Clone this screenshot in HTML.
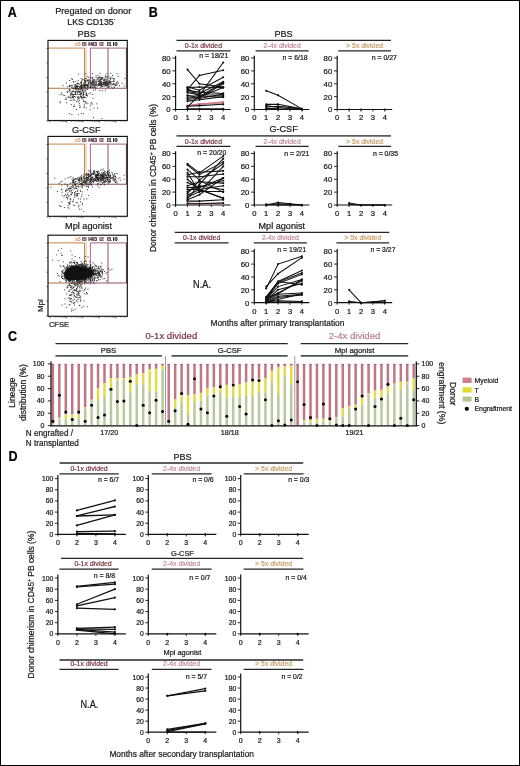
<!DOCTYPE html>
<html><head><meta charset="utf-8"><title>Figure</title>
<style>
html,body{margin:0;padding:0;background:#fff;}
body{width:520px;height:766px;overflow:hidden;font-family:"Liberation Sans", sans-serif;}
.fig{position:relative;width:520px;height:766px;}
svg{position:absolute;left:0;top:0;will-change:transform;}
svg text{font-family:"Liberation Sans", sans-serif;stroke:currentColor;stroke-width:0.22px;paint-order:stroke;}
</style></head>
<body><div class="fig">
<svg width="520" height="766" viewBox="0 0 520 766">
<text transform="translate(7.80,17.00) scale(0.88,1)" font-size="14.2" font-weight="bold" fill="#000" color="#000">A</text>
<text x="93.20" y="13.80" font-size="9.2" text-anchor="middle" fill="#1a1a1a" color="#1a1a1a" font-weight="normal" >Pregated on donor</text>
<text x="67.3" y="24.6" font-size="8.8" fill="#1a1a1a">LKS CD135<tspan font-size="5" dy="-3.5">-</tspan></text>
<text x="86.70" y="36.70" font-size="9.2" text-anchor="middle" fill="#1a1a1a" color="#1a1a1a" font-weight="normal" >PBS</text>
<line x1="48.00" y1="48.10" x2="84.50" y2="48.10" stroke="#c8854c" stroke-width="1.0" />
<line x1="84.50" y1="48.10" x2="84.50" y2="88.20" stroke="#c4804a" stroke-width="1.0" />
<line x1="86.10" y1="46.40" x2="86.10" y2="88.20" stroke="#e2b088" stroke-width="0.8" />
<line x1="48.00" y1="88.20" x2="86.10" y2="88.20" stroke="#b0703e" stroke-width="1.05" />
<line x1="86.10" y1="88.20" x2="126.80" y2="88.20" stroke="#8e5068" stroke-width="1.05" />
<line x1="90.40" y1="48.10" x2="126.80" y2="48.10" stroke="#a06482" stroke-width="1.0" />
<line x1="90.40" y1="48.10" x2="90.40" y2="88.20" stroke="#a56a88" stroke-width="1.0" />
<line x1="108.00" y1="48.10" x2="108.00" y2="88.20" stroke="#8a5068" stroke-width="1.0" />
<line x1="126.40" y1="48.10" x2="126.40" y2="88.20" stroke="#743e54" stroke-width="1.0" />
<path d="M98.8 83.9h1M99.1 81.2h1M93.1 81.5h1M110.5 83.6h1M109.8 83.0h1M104.4 82.8h1M86.8 85.0h1M105.3 83.8h1M86.6 76.4h1M93.4 80.7h1M103.6 82.0h1M105.4 80.1h1M103.6 83.5h1M95.4 87.9h1M105.7 86.2h1M95.7 79.8h1M98.1 81.8h1M106.4 83.0h1M97.2 79.0h1M96.6 86.2h1M94.1 83.0h1M104.6 77.3h1M101.4 86.5h1M83.9 81.1h1M100.1 79.5h1M105.2 82.0h1M88.6 84.9h1M106.7 85.3h1M113.2 83.4h1M102.0 77.9h1M106.2 80.2h1M97.2 78.0h1M92.8 80.4h1M112.0 75.5h1M88.6 83.0h1M113.3 84.1h1M84.9 73.9h1M104.0 79.8h1M91.5 85.4h1M110.4 82.7h1M103.1 83.6h1M114.5 84.2h1M105.4 84.0h1M87.7 86.4h1M109.1 83.9h1M84.2 80.1h1M108.2 76.2h1M99.4 85.6h1M89.9 87.5h1M105.7 81.7h1M103.8 84.3h1M102.0 86.0h1M95.4 80.8h1M109.9 82.3h1M93.5 85.3h1M113.5 80.7h1M89.3 81.8h1M99.7 81.2h1M112.9 78.8h1M111.7 78.0h1M94.3 84.3h1M110.6 85.0h1M103.9 82.7h1M102.3 84.1h1M99.5 83.1h1M105.9 82.2h1M107.5 84.1h1M118.1 83.3h1M97.4 81.0h1M100.9 85.2h1M98.1 83.5h1M116.6 73.7h1M91.4 83.0h1M104.4 83.0h1M97.3 84.4h1M103.4 80.5h1M121.7 83.4h1M96.3 81.9h1M99.1 82.0h1M77.8 80.6h1M109.6 78.3h1M100.4 85.3h1M108.3 87.1h1M86.5 81.0h1M98.1 84.3h1M110.3 73.3h1M110.3 77.4h1M106.8 77.3h1M102.5 86.1h1M99.7 82.8h1M107.8 82.7h1M100.2 87.3h1M109.9 81.2h1M124.3 78.4h1M108.8 81.3h1M102.1 84.5h1M102.9 84.3h1M88.0 77.2h1M106.2 79.0h1M92.3 77.3h1M111.8 84.7h1M113.5 79.1h1M101.0 78.4h1M107.5 87.4h1M93.4 87.3h1M109.4 81.6h1M84.2 86.8h1M100.2 80.2h1M104.4 83.6h1M113.7 78.8h1M110.7 87.1h1M113.3 81.6h1M94.7 85.6h1M102.0 82.6h1M113.1 81.3h1M81.5 80.9h1M85.2 84.9h1M103.7 80.2h1M100.9 84.9h1M101.7 86.6h1M100.5 85.6h1M113.7 87.5h1M95.3 85.1h1M85.1 78.6h1M84.3 85.7h1M90.5 82.2h1M99.4 82.1h1M96.0 83.0h1M116.2 82.3h1M105.5 85.5h1M99.3 78.0h1M96.3 85.7h1M87.0 80.2h1M109.6 84.8h1M101.1 84.9h1M102.4 78.3h1M87.7 80.1h1M108.8 80.3h1M93.3 79.7h1M88.0 81.8h1M91.0 83.4h1M80.9 83.3h1M95.5 75.8h1M107.2 81.3h1M82.0 79.3h1M103.5 80.7h1M107.6 84.7h1M106.7 83.3h1M112.3 84.4h1M104.8 75.3h1M108.6 86.5h1M98.5 80.7h1M117.5 76.4h1M105.0 90.2h1M93.1 84.5h1M117.0 81.8h1M105.8 85.2h1M93.3 81.9h1M103.5 84.9h1M100.7 81.6h1M92.4 81.0h1M108.6 82.5h1M93.7 79.4h1M123.7 86.0h1M106.4 73.6h1M106.3 83.8h1M115.3 83.6h1M100.4 83.9h1M84.5 85.6h1M103.8 79.9h1M112.3 88.2h1M89.1 80.0h1M103.5 82.8h1M97.6 79.0h1M119.0 85.6h1M90.8 77.8h1M115.5 85.5h1M116.5 84.9h1M93.6 83.1h1M82.6 79.7h1M100.5 83.9h1M94.8 81.8h1M104.9 83.4h1M106.4 82.9h1M98.2 84.8h1M101.4 79.5h1M95.7 82.2h1M100.1 82.7h1M101.0 82.8h1M99.9 78.0h1M104.6 85.7h1M104.7 81.6h1M104.8 79.0h1M84.9 82.4h1M93.1 84.6h1M91.8 73.5h1M92.2 87.4h1M97.8 77.7h1M94.5 83.9h1M105.2 82.8h1M113.6 84.5h1M100.8 84.2h1M115.1 85.4h1M109.7 78.6h1M99.7 84.6h1M98.5 85.7h1M106.1 85.2h1M99.2 90.6h1M111.5 81.5h1M101.8 90.8h1M98.1 85.1h1M109.3 82.2h1M91.1 82.8h1M104.1 85.9h1M107.7 82.3h1M108.3 84.0h1M102.8 82.4h1M98.9 84.5h1M92.0 80.1h1M101.0 77.4h1M97.3 75.6h1M95.2 84.1h1M105.8 82.0h1M99.0 77.5h1M116.5 83.9h1M110.3 79.3h1M99.4 76.2h1M107.6 85.3h1M84.9 82.0h1M106.4 76.4h1M85.5 78.7h1M95.7 77.6h1M101.3 83.0h1M106.4 84.5h1M113.8 86.0h1M89.8 80.5h1M92.0 78.6h1M100.3 82.2h1M105.2 77.0h1M90.5 82.1h1M99.3 81.2h1M100.5 79.7h1M107.0 83.4h1M100.3 80.0h1M99.5 73.2h1M92.7 82.3h1M88.2 82.9h1M102.3 77.7h1M98.9 81.2h1M104.9 84.2h1M80.7 83.2h1M79.8 86.0h1M86.9 87.2h1M75.2 81.5h1M78.0 83.6h1M72.1 85.8h1M77.1 86.6h1M85.2 84.8h1M99.6 85.1h1M89.8 86.6h1M89.9 77.9h1M75.0 87.1h1M85.8 94.4h1M83.6 90.7h1M87.1 89.5h1M85.1 85.7h1M85.1 82.4h1M90.5 82.6h1M83.0 93.6h1M79.2 86.3h1M90.3 86.3h1M74.5 87.1h1M85.7 88.7h1M74.8 92.3h1M94.3 86.3h1M83.1 84.7h1M92.3 83.7h1M86.4 84.5h1M75.4 88.7h1M91.7 86.2h1M75.6 89.0h1M80.6 87.3h1M93.2 90.2h1M76.8 94.2h1M81.0 89.0h1M75.8 86.0h1M67.0 92.5h1M91.9 81.9h1M69.0 80.5h1M90.4 84.6h1M80.5 85.1h1M80.0 82.4h1M81.2 81.2h1M80.4 87.3h1M84.7 85.4h1M73.8 86.8h1M77.1 91.7h1M87.1 85.8h1M77.2 83.7h1M73.5 85.0h1M83.4 88.0h1M85.6 93.5h1M75.4 86.2h1M103.4 79.7h1M76.8 86.8h1M82.2 87.6h1M79.1 87.5h1M81.4 88.9h1M65.9 83.1h1M81.0 82.6h1M72.6 88.4h1M75.8 88.4h1M87.0 87.3h1M85.1 85.8h1M69.7 86.1h1M84.6 84.3h1M80.2 88.8h1M74.0 88.4h1M95.9 84.3h1M82.2 85.7h1M93.3 87.3h1M88.2 83.8h1M80.9 86.2h1M66.8 91.2h1M88.2 80.1h1M87.0 85.7h1M84.6 87.5h1M69.0 85.5h1M92.9 84.2h1M72.8 81.4h1M71.2 87.4h1M94.5 87.7h1M83.0 94.0h1M76.8 83.8h1M85.2 88.1h1M72.9 82.1h1M83.3 87.1h1M70.5 85.5h1M76.7 87.8h1M80.1 85.9h1M78.2 89.9h1M92.1 84.9h1M87.8 83.5h1M81.6 88.8h1M93.1 84.9h1M80.4 86.9h1M69.0 86.3h1M75.6 87.5h1M72.0 79.3h1M81.3 87.1h1M76.6 89.3h1M78.8 84.1h1M84.8 80.7h1M75.6 86.1h1M87.8 85.6h1M83.5 83.9h1M83.4 92.0h1M75.5 94.5h1M75.8 86.3h1M82.4 89.8h1M71.1 78.8h1M85.8 89.0h1M86.0 95.4h1M82.6 87.1h1M88.4 87.5h1M94.3 81.9h1M78.0 74.1h1M87.5 84.9h1M88.4 93.7h1M81.0 85.3h1M77.0 83.3h1M76.0 88.4h1M81.3 86.4h1M79.6 89.4h1M85.0 85.7h1M86.3 85.7h1M71.8 91.3h1M84.7 82.8h1M89.6 87.4h1M68.5 91.8h1M83.7 89.3h1M82.6 85.7h1M68.6 89.6h1M81.2 85.2h1M83.8 86.5h1M86.4 84.9h1M80.7 78.7h1M77.6 88.6h1M91.7 84.9h1M80.0 91.7h1M78.4 88.8h1M94.4 86.3h1M90.8 83.7h1M82.7 85.9h1M81.9 90.2h1M100.1 83.9h1M76.4 87.9h1M72.6 87.9h1M85.6 85.2h1M85.2 80.8h1M87.1 80.8h1M75.4 84.3h1M77.8 89.2h1M81.7 84.8h1M85.3 91.7h1M81.0 87.5h1M90.9 87.1h1M70.7 94.9h1M98.7 79.3h1M80.7 87.7h1M83.8 97.2h1M75.1 89.5h1M77.7 98.9h1M69.4 89.6h1M76.8 85.5h1M75.2 92.2h1M80.2 91.0h1M70.8 92.4h1M76.7 91.2h1M77.1 97.6h1M85.3 101.9h1M71.5 92.3h1M59.6 102.7h1M71.9 94.0h1M80.7 88.1h1M80.2 94.1h1M64.2 95.5h1M85.4 85.8h1M82.7 95.1h1M80.3 96.2h1M86.1 93.2h1M83.1 92.4h1M82.1 90.5h1M76.2 102.0h1M80.1 93.5h1M69.0 90.6h1M78.4 98.4h1M80.0 96.6h1M76.7 100.3h1M74.3 91.7h1M83.2 94.5h1M75.1 91.6h1M75.2 97.0h1M79.5 88.8h1M80.0 95.0h1M70.0 97.7h1M75.0 92.7h1M82.6 100.1h1M72.2 96.2h1M70.9 104.6h1M73.5 99.6h1M72.5 97.9h1M92.5 82.8h1M74.0 96.5h1M76.3 91.2h1M92.1 94.6h1M65.5 98.0h1M64.9 99.4h1M73.0 94.9h1M85.8 94.7h1M67.3 86.6h1M85.3 97.5h1M71.3 98.1h1M80.5 97.1h1M61.2 92.8h1M83.3 97.5h1M83.2 83.1h1M78.2 96.4h1M94.9 89.9h1M74.7 94.4h1M83.2 92.2h1M85.0 90.7h1M78.9 91.8h1M78.1 91.1h1M65.8 99.1h1M79.1 91.7h1M78.4 98.7h1M70.2 93.7h1M80.8 96.6h1M74.7 84.7h1M85.7 95.7h1M77.1 92.9h1M78.8 92.3h1M69.8 90.9h1M72.8 91.4h1M68.9 97.1h1M67.8 97.2h1M69.9 95.8h1M86.6 95.1h1M71.9 94.4h1M78.0 86.4h1M72.7 94.9h1M73.7 94.6h1M82.1 97.6h1M83.3 96.8h1M75.0 94.1h1M75.1 92.8h1M75.7 86.4h1M74.7 94.1h1M70.2 94.1h1M80.6 93.5h1M91.5 82.5h1M75.6 86.0h1M83.9 106.1h1M59.5 94.8h1M80.6 92.8h1M80.9 84.1h1M83.0 95.9h1M77.2 91.6h1M81.5 92.0h1M78.6 91.9h1M61.3 94.1h1M78.4 97.6h1M70.9 94.1h1M81.3 94.9h1M85.7 103.2h1M70.6 85.6h1M83.0 101.1h1M83.5 97.9h1M72.7 91.0h1M87.0 95.9h1M62.7 95.2h1M101.4 118.6h1M72.8 97.4h1M81.1 97.2h1M90.8 102.6h1M69.2 113.7h1M73.8 105.0h1M78.9 100.7h1M81.9 97.7h1M62.4 85.5h1M67.6 97.1h1M78.8 103.6h1M84.0 104.2h1M71.9 97.5h1M59.9 101.8h1M83.4 107.4h1M77.9 101.8h1M87.4 103.3h1M85.6 107.9h1M80.9 113.7h1M73.8 100.3h1M71.7 96.8h1M93.0 117.3h1M79.2 107.7h1M89.6 109.7h1M89.8 93.1h1M73.2 106.8h1M91.9 104.0h1M71.3 100.4h1M73.1 96.3h1M92.5 98.2h1M89.7 105.9h1M73.5 106.5h1M93.6 108.2h1M90.4 104.0h1M83.6 101.6h1M82.8 113.6h1M66.1 102.7h1M81.2 98.6h1M76.2 109.5h1M97.0 108.2h1M81.9 90.8h1M96.3 103.8h1M78.7 94.3h1M78.5 94.4h1M79.6 106.9h1M79.3 105.4h1M71.3 114.6h1M73.1 88.7h1M77.3 97.1h1M69.9 100.4h1M81.6 93.7h1M77.8 114.6h1M85.1 102.0h1" stroke="#1e1e1e" stroke-width="1" fill="none" opacity="0.9"/>
<text x="77.80" y="45.70" font-size="5.2" text-anchor="middle" fill="#d89868" color="#d89868" font-weight="normal" >&#8805;5</text>
<text x="84.40" y="45.70" font-size="5.6" text-anchor="middle" fill="#5a4040" color="#5a4040" font-weight="bold" >I5</text>
<text x="90.60" y="45.70" font-size="5.6" text-anchor="middle" fill="#4a2a38" color="#4a2a38" font-weight="bold" >I4</text>
<text x="94.80" y="45.70" font-size="5.6" text-anchor="middle" fill="#4a2a38" color="#4a2a38" font-weight="bold" >I3</text>
<text x="101.60" y="45.70" font-size="5.6" text-anchor="middle" fill="#6a4050" color="#6a4050" font-weight="bold" >I2</text>
<text x="109.40" y="45.70" font-size="5.6" text-anchor="middle" fill="#222" color="#222" font-weight="bold" >I1</text>
<text x="115.20" y="45.70" font-size="5.6" text-anchor="middle" fill="#111" color="#111" font-weight="bold" >I0</text>
<rect x="48.00" y="40.40" width="79.30" height="80.10" fill="none" stroke="#111" stroke-width="1.15" />
<line x1="46.50" y1="48.40" x2="48.00" y2="48.40" stroke="#333" stroke-width="0.8" />
<line x1="46.50" y1="62.90" x2="48.00" y2="62.90" stroke="#333" stroke-width="0.8" />
<line x1="46.50" y1="77.40" x2="48.00" y2="77.40" stroke="#333" stroke-width="0.8" />
<line x1="46.50" y1="91.90" x2="48.00" y2="91.90" stroke="#333" stroke-width="0.8" />
<line x1="46.50" y1="106.40" x2="48.00" y2="106.40" stroke="#333" stroke-width="0.8" />
<line x1="46.50" y1="120.90" x2="48.00" y2="120.90" stroke="#333" stroke-width="0.8" />
<line x1="50.00" y1="120.50" x2="50.00" y2="122.50" stroke="#333" stroke-width="0.7" />
<line x1="54.97" y1="120.50" x2="54.97" y2="121.70" stroke="#333" stroke-width="0.7" />
<line x1="57.87" y1="120.50" x2="57.87" y2="121.70" stroke="#333" stroke-width="0.7" />
<line x1="59.93" y1="120.50" x2="59.93" y2="121.70" stroke="#333" stroke-width="0.7" />
<line x1="61.53" y1="120.50" x2="61.53" y2="121.70" stroke="#333" stroke-width="0.7" />
<line x1="62.84" y1="120.50" x2="62.84" y2="121.70" stroke="#333" stroke-width="0.7" />
<line x1="63.94" y1="120.50" x2="63.94" y2="121.70" stroke="#333" stroke-width="0.7" />
<line x1="64.90" y1="120.50" x2="64.90" y2="121.70" stroke="#333" stroke-width="0.7" />
<line x1="65.75" y1="120.50" x2="65.75" y2="121.70" stroke="#333" stroke-width="0.7" />
<line x1="66.50" y1="120.50" x2="66.50" y2="122.50" stroke="#333" stroke-width="0.7" />
<line x1="71.47" y1="120.50" x2="71.47" y2="121.70" stroke="#333" stroke-width="0.7" />
<line x1="74.37" y1="120.50" x2="74.37" y2="121.70" stroke="#333" stroke-width="0.7" />
<line x1="76.43" y1="120.50" x2="76.43" y2="121.70" stroke="#333" stroke-width="0.7" />
<line x1="78.03" y1="120.50" x2="78.03" y2="121.70" stroke="#333" stroke-width="0.7" />
<line x1="79.34" y1="120.50" x2="79.34" y2="121.70" stroke="#333" stroke-width="0.7" />
<line x1="80.44" y1="120.50" x2="80.44" y2="121.70" stroke="#333" stroke-width="0.7" />
<line x1="81.40" y1="120.50" x2="81.40" y2="121.70" stroke="#333" stroke-width="0.7" />
<line x1="82.25" y1="120.50" x2="82.25" y2="121.70" stroke="#333" stroke-width="0.7" />
<line x1="83.00" y1="120.50" x2="83.00" y2="122.50" stroke="#333" stroke-width="0.7" />
<line x1="87.97" y1="120.50" x2="87.97" y2="121.70" stroke="#333" stroke-width="0.7" />
<line x1="90.87" y1="120.50" x2="90.87" y2="121.70" stroke="#333" stroke-width="0.7" />
<line x1="92.93" y1="120.50" x2="92.93" y2="121.70" stroke="#333" stroke-width="0.7" />
<line x1="94.53" y1="120.50" x2="94.53" y2="121.70" stroke="#333" stroke-width="0.7" />
<line x1="95.84" y1="120.50" x2="95.84" y2="121.70" stroke="#333" stroke-width="0.7" />
<line x1="96.94" y1="120.50" x2="96.94" y2="121.70" stroke="#333" stroke-width="0.7" />
<line x1="97.90" y1="120.50" x2="97.90" y2="121.70" stroke="#333" stroke-width="0.7" />
<line x1="98.75" y1="120.50" x2="98.75" y2="121.70" stroke="#333" stroke-width="0.7" />
<line x1="99.50" y1="120.50" x2="99.50" y2="122.50" stroke="#333" stroke-width="0.7" />
<line x1="104.47" y1="120.50" x2="104.47" y2="121.70" stroke="#333" stroke-width="0.7" />
<line x1="107.37" y1="120.50" x2="107.37" y2="121.70" stroke="#333" stroke-width="0.7" />
<line x1="109.43" y1="120.50" x2="109.43" y2="121.70" stroke="#333" stroke-width="0.7" />
<line x1="111.03" y1="120.50" x2="111.03" y2="121.70" stroke="#333" stroke-width="0.7" />
<line x1="112.34" y1="120.50" x2="112.34" y2="121.70" stroke="#333" stroke-width="0.7" />
<line x1="113.44" y1="120.50" x2="113.44" y2="121.70" stroke="#333" stroke-width="0.7" />
<line x1="114.40" y1="120.50" x2="114.40" y2="121.70" stroke="#333" stroke-width="0.7" />
<line x1="115.25" y1="120.50" x2="115.25" y2="121.70" stroke="#333" stroke-width="0.7" />
<line x1="116.00" y1="120.50" x2="116.00" y2="122.50" stroke="#333" stroke-width="0.7" />
<line x1="120.97" y1="120.50" x2="120.97" y2="121.70" stroke="#333" stroke-width="0.7" />
<line x1="123.87" y1="120.50" x2="123.87" y2="121.70" stroke="#333" stroke-width="0.7" />
<line x1="125.93" y1="120.50" x2="125.93" y2="121.70" stroke="#333" stroke-width="0.7" />
<text x="86.30" y="133.00" font-size="9.2" text-anchor="middle" fill="#1a1a1a" color="#1a1a1a" font-weight="normal" >G-CSF</text>
<line x1="48.00" y1="144.10" x2="84.50" y2="144.10" stroke="#c8854c" stroke-width="1.0" />
<line x1="84.50" y1="144.10" x2="84.50" y2="184.20" stroke="#c4804a" stroke-width="1.0" />
<line x1="86.10" y1="142.40" x2="86.10" y2="184.20" stroke="#e2b088" stroke-width="0.8" />
<line x1="48.00" y1="184.20" x2="86.10" y2="184.20" stroke="#b0703e" stroke-width="1.05" />
<line x1="86.10" y1="184.20" x2="126.80" y2="184.20" stroke="#8e5068" stroke-width="1.05" />
<line x1="90.40" y1="144.10" x2="126.80" y2="144.10" stroke="#a06482" stroke-width="1.0" />
<line x1="90.40" y1="144.10" x2="90.40" y2="184.20" stroke="#a56a88" stroke-width="1.0" />
<line x1="108.00" y1="144.10" x2="108.00" y2="184.20" stroke="#8a5068" stroke-width="1.0" />
<line x1="126.40" y1="144.10" x2="126.40" y2="184.20" stroke="#743e54" stroke-width="1.0" />
<path d="M102.0 176.8h1M100.6 179.4h1M100.3 170.0h1M100.8 174.5h1M105.9 175.4h1M102.1 183.7h1M93.1 173.8h1M90.4 170.0h1M86.9 178.3h1M96.2 171.6h1M89.9 179.1h1M95.2 176.1h1M103.5 181.3h1M115.6 180.3h1M102.1 177.8h1M114.5 181.5h1M98.7 178.6h1M103.2 177.4h1M97.2 173.2h1M97.0 172.6h1M110.2 178.8h1M92.0 181.4h1M107.7 171.5h1M114.8 179.6h1M116.5 173.5h1M105.0 178.5h1M102.5 177.7h1M108.9 172.7h1M91.7 173.0h1M96.8 175.4h1M103.8 178.0h1M101.2 175.2h1M97.7 180.1h1M106.7 177.5h1M98.6 181.9h1M96.5 179.1h1M109.7 176.4h1M107.2 173.9h1M108.6 177.8h1M89.1 179.2h1M94.3 181.0h1M95.9 176.7h1M103.1 176.2h1M102.9 175.5h1M106.0 177.2h1M102.6 168.9h1M109.7 177.3h1M87.6 177.5h1M104.5 180.4h1M92.9 181.8h1M99.8 184.4h1M99.9 179.2h1M98.3 173.9h1M109.2 179.9h1M112.5 179.8h1M96.7 172.2h1M96.1 175.2h1M94.9 178.9h1M103.5 176.4h1M102.3 176.8h1M102.6 179.5h1M108.2 175.1h1M89.7 181.5h1M101.9 180.5h1M88.7 176.2h1M101.2 172.9h1M97.1 179.4h1M109.1 182.0h1M94.5 173.0h1M104.9 180.0h1M102.4 173.3h1M106.9 179.6h1M105.2 175.7h1M103.3 179.6h1M96.8 171.7h1M103.5 178.6h1M101.1 179.9h1M96.6 177.0h1M98.7 178.9h1M113.0 176.4h1M116.4 181.8h1M106.9 179.0h1M114.3 176.7h1M100.2 174.0h1M104.5 181.2h1M105.0 178.5h1M99.5 177.7h1M90.3 180.3h1M97.9 173.9h1M95.4 174.7h1M107.4 180.4h1M90.8 180.0h1M107.7 175.5h1M89.9 175.0h1M96.2 178.2h1M98.3 171.1h1M102.8 172.6h1M107.8 173.6h1M95.8 174.6h1M96.9 181.1h1M107.4 179.0h1M103.4 172.6h1M97.1 175.5h1M93.7 178.7h1M95.4 175.1h1M93.2 171.0h1M105.5 181.2h1M102.3 174.3h1M80.7 177.7h1M110.1 178.1h1M108.0 181.6h1M109.5 175.9h1M108.9 179.5h1M89.5 176.0h1M90.3 176.9h1M105.3 174.0h1M85.6 181.1h1M103.8 181.6h1M91.1 180.4h1M116.6 183.2h1M99.4 178.0h1M99.8 180.2h1M108.8 177.5h1M90.8 179.4h1M97.5 179.1h1M103.0 182.1h1M109.5 175.8h1M103.6 182.5h1M97.0 178.5h1M109.9 181.0h1M104.9 173.2h1M91.5 177.9h1M103.9 184.8h1M94.5 180.6h1M106.8 172.2h1M94.9 177.7h1M97.3 176.7h1M104.5 174.8h1M104.5 175.3h1M96.9 178.8h1M96.7 178.1h1M113.0 177.3h1M99.9 179.4h1M98.3 180.4h1M91.4 179.1h1M97.2 174.8h1M114.3 174.6h1M114.2 179.2h1M111.9 174.3h1M110.0 181.6h1M100.1 176.8h1M119.4 177.7h1M97.8 175.3h1M104.3 178.2h1M102.3 182.4h1M98.5 178.6h1M111.9 174.2h1M108.8 182.7h1M90.8 173.9h1M93.2 171.7h1M104.4 171.6h1M104.7 181.6h1M88.9 176.3h1M86.6 179.5h1M95.5 176.4h1M101.4 178.8h1M98.4 177.2h1M96.9 177.5h1M92.2 177.4h1M86.5 175.7h1M115.4 177.4h1M91.6 178.0h1M93.7 172.2h1M95.5 179.4h1M103.9 176.9h1M94.1 174.0h1M111.1 177.9h1M93.9 170.9h1M90.7 184.6h1M92.4 177.0h1M102.6 176.7h1M98.9 173.1h1M93.1 182.3h1M95.3 179.7h1M88.3 176.4h1M103.0 180.3h1M92.6 179.0h1M103.9 175.0h1M104.6 174.5h1M95.0 177.1h1M80.6 176.9h1M93.5 172.8h1M97.8 179.5h1M98.0 181.0h1M92.3 173.3h1M112.6 178.4h1M108.1 174.7h1M107.0 178.0h1M105.9 177.3h1M110.0 175.3h1M93.8 172.8h1M109.7 175.0h1M93.2 174.4h1M97.7 173.4h1M98.8 175.3h1M96.9 174.3h1M101.3 175.8h1M101.9 177.9h1M103.6 170.6h1M97.0 174.8h1M106.8 172.5h1M95.6 176.3h1M98.5 180.2h1M97.7 180.1h1M90.0 171.8h1M110.1 178.5h1M104.7 177.6h1M104.6 173.6h1M108.1 175.6h1M108.4 177.5h1M86.2 173.3h1M109.5 176.8h1M98.0 177.9h1M97.8 175.6h1M101.8 177.6h1M112.4 177.3h1M115.1 182.6h1M113.9 180.4h1M102.0 177.6h1M99.9 175.0h1M100.5 175.3h1M113.3 178.8h1M97.7 171.5h1M100.6 176.0h1M92.9 173.8h1M84.1 178.9h1M100.5 184.9h1M100.8 176.8h1M111.8 177.6h1M102.3 176.1h1M96.5 181.7h1M108.5 182.3h1M98.4 177.3h1M94.4 180.1h1M90.6 178.9h1M109.2 181.4h1M94.0 180.5h1M95.6 174.9h1M91.1 180.7h1M113.4 175.4h1M95.3 176.2h1M119.8 180.2h1M96.9 171.8h1M96.0 180.8h1M115.0 176.4h1M95.8 175.7h1M86.9 179.9h1M92.9 180.4h1M88.2 173.4h1M103.2 174.9h1M106.9 177.2h1M92.2 179.1h1M107.3 171.5h1M114.7 178.7h1M106.7 171.6h1M95.6 176.2h1M109.1 172.8h1M94.4 171.1h1M99.2 178.2h1M88.4 175.4h1M104.8 182.0h1M106.0 176.3h1M92.2 174.4h1M96.0 177.6h1M100.6 182.2h1M103.2 174.0h1M112.6 180.0h1M101.8 175.0h1M87.0 174.1h1M107.8 174.8h1M91.1 177.8h1M102.8 179.0h1M105.9 181.4h1M94.7 180.1h1M93.6 179.3h1M102.3 177.9h1M108.3 177.1h1M109.3 179.8h1M102.0 175.5h1M95.3 175.6h1M99.5 177.1h1M123.4 179.1h1M106.8 174.6h1M95.7 176.2h1M102.4 174.1h1M113.1 175.5h1M109.1 170.2h1M100.9 178.0h1M102.4 179.0h1M103.1 177.7h1M86.8 175.1h1M83.4 179.1h1M103.3 176.6h1M94.8 175.5h1M114.8 182.4h1M100.6 181.1h1M89.1 171.4h1M97.4 174.6h1M96.8 177.8h1M123.7 175.2h1M101.4 178.0h1M100.7 180.0h1M114.3 173.5h1M102.2 176.4h1M103.7 172.6h1M87.8 170.3h1M104.9 177.8h1M101.6 170.1h1M98.2 174.9h1M90.4 174.5h1M106.2 178.8h1M100.8 178.7h1M96.5 177.4h1M101.3 178.9h1M100.5 176.8h1M100.0 175.3h1M117.8 178.7h1M104.2 184.1h1M111.5 172.5h1M106.2 179.7h1M97.1 185.8h1M88.2 177.1h1M75.0 182.1h1M86.0 177.6h1M78.9 179.8h1M82.5 182.4h1M79.7 176.9h1M91.9 186.8h1M81.2 184.8h1M85.6 183.5h1M85.9 178.5h1M86.6 184.7h1M74.8 188.1h1M98.7 187.6h1M97.9 183.8h1M79.3 179.1h1M75.5 181.6h1M81.7 183.5h1M65.8 189.3h1M100.2 181.1h1M87.4 182.9h1M84.2 180.5h1M81.0 178.3h1M83.4 181.1h1M84.6 178.2h1M82.3 181.4h1M86.8 177.5h1M85.4 184.6h1M86.8 179.9h1M78.1 180.4h1M87.8 186.6h1M80.7 179.0h1M85.0 181.9h1M74.7 178.6h1M81.2 183.6h1M72.5 177.6h1M86.0 176.9h1M82.9 182.4h1M81.1 177.6h1M81.5 180.0h1M84.7 178.3h1M90.7 175.3h1M80.6 181.2h1M89.7 179.1h1M86.4 179.2h1M87.9 187.3h1M78.8 182.8h1M74.6 184.6h1M91.7 181.3h1M72.9 182.6h1M91.2 185.0h1M88.5 174.8h1M76.6 186.2h1M72.2 185.2h1M97.1 183.9h1M91.0 180.0h1M72.2 180.8h1M80.4 181.0h1M87.6 180.7h1M83.5 182.7h1M82.0 187.7h1M85.5 181.5h1M80.3 179.0h1M92.8 181.7h1M73.4 179.2h1M80.9 179.6h1M90.7 177.1h1M85.9 181.7h1M72.6 181.4h1M81.2 183.0h1M78.4 182.3h1M68.7 177.4h1M88.3 184.8h1M81.9 179.1h1M90.7 173.9h1M75.6 183.6h1M87.2 177.6h1M66.9 186.3h1M83.2 178.1h1M82.4 184.4h1M61.3 185.1h1M87.9 173.9h1M88.2 175.0h1M91.1 182.6h1M100.0 179.1h1M82.0 184.9h1M76.9 178.7h1M79.0 180.9h1M73.3 182.9h1M86.3 181.5h1M95.6 180.1h1M92.5 179.3h1M88.0 174.4h1M83.6 180.6h1M78.0 179.1h1M79.2 178.7h1M64.5 179.1h1M77.6 179.4h1M73.5 180.7h1M88.3 180.3h1M78.1 186.0h1M89.8 184.4h1M91.2 180.1h1M81.0 185.1h1M77.6 180.8h1M85.0 182.5h1M79.8 184.6h1M80.6 183.7h1M90.6 183.5h1M87.9 177.1h1M71.5 179.0h1M85.8 186.5h1M72.2 182.3h1M75.2 178.6h1M79.8 183.6h1M83.7 185.3h1M74.1 184.3h1M89.4 181.4h1M85.8 179.2h1M73.3 179.8h1M76.9 191.3h1M78.1 187.0h1M83.6 182.3h1M87.9 178.5h1M89.3 182.5h1M69.9 183.3h1M86.4 182.8h1M94.7 179.7h1M86.1 183.8h1M74.8 185.4h1M70.4 176.6h1M86.2 177.4h1M81.1 175.4h1M82.6 177.2h1M84.7 175.8h1M85.6 180.3h1M82.5 181.0h1M83.0 176.6h1M61.5 181.3h1M74.5 179.6h1M85.4 174.3h1M75.9 179.1h1M73.5 182.3h1M80.9 178.3h1M74.1 184.0h1M76.7 183.2h1M85.6 174.6h1M73.3 181.2h1M84.7 183.9h1M88.4 184.8h1M79.0 180.5h1M88.2 179.7h1M90.5 175.6h1M87.2 180.6h1M66.3 184.6h1M84.5 181.3h1M73.4 179.6h1M94.1 178.3h1M54.2 178.2h1M72.4 180.7h1M78.9 178.0h1M75.3 184.9h1M70.5 188.0h1M77.6 177.4h1M88.3 183.2h1M73.7 183.8h1M67.3 178.0h1M91.0 180.3h1M71.6 183.0h1M89.3 181.1h1M61.4 189.1h1M76.9 195.8h1M87.0 189.7h1M70.6 191.0h1M82.4 185.6h1M83.1 174.7h1M79.6 187.1h1M77.2 195.3h1M65.7 190.7h1M75.7 194.7h1M67.5 185.3h1M60.5 206.4h1M72.7 189.9h1M63.5 196.8h1M70.3 199.8h1M80.0 191.3h1M79.1 184.5h1M71.7 187.7h1M65.1 191.3h1M73.0 199.8h1M50.5 187.2h1M67.6 188.4h1M77.0 193.6h1M74.2 188.4h1M77.5 193.4h1M61.1 189.6h1M64.4 184.1h1M75.0 191.6h1M74.8 185.9h1M72.6 185.7h1M76.7 195.3h1M86.3 198.8h1M68.4 188.5h1M67.4 193.0h1M87.9 195.5h1M58.6 183.7h1M65.0 194.3h1M74.0 193.0h1M86.5 186.2h1M68.1 203.0h1M76.4 186.5h1M59.8 182.1h1M56.9 191.6h1M74.3 197.2h1M73.0 187.0h1M68.8 202.6h1M61.6 192.2h1M74.2 194.9h1M71.2 194.2h1M79.7 190.3h1M70.8 190.1h1M67.2 190.0h1M71.9 192.5h1M83.4 199.0h1M70.9 194.8h1M76.1 195.8h1M74.2 192.8h1M70.7 186.5h1M80.1 199.0h1M78.6 193.8h1M75.9 188.5h1M61.5 195.2h1M75.4 187.9h1M67.2 198.9h1M61.4 201.8h1M78.5 205.4h1M69.0 191.1h1M70.5 192.1h1M72.5 186.7h1M81.5 186.5h1M70.4 194.5h1M70.2 188.6h1M76.5 189.0h1M65.3 190.6h1M72.5 201.4h1M66.3 197.0h1M68.5 189.1h1M71.7 192.8h1M80.0 201.7h1M69.5 199.2h1M78.0 206.9h1M63.9 207.5h1M69.1 203.7h1M67.8 205.8h1M78.9 209.1h1M68.4 208.2h1M81.6 194.7h1M81.8 191.9h1M74.3 205.4h1M81.9 203.2h1M66.2 195.6h1M60.0 206.6h1M68.1 196.2h1M74.3 195.8h1M66.5 198.0h1M83.2 211.4h1M68.7 190.2h1M72.2 201.7h1M72.8 205.2h1M67.4 207.7h1M76.7 202.7h1M66.7 197.8h1M75.5 193.5h1M68.7 196.0h1M58.9 205.4h1M69.8 201.5h1M77.0 190.7h1M69.5 203.2h1M76.7 193.6h1M75.7 202.7h1M80.8 209.2h1M70.0 198.2h1M67.3 194.6h1M69.8 188.1h1M69.3 204.2h1M77.9 198.8h1M81.1 196.6h1M68.9 188.1h1M63.9 195.7h1M81.7 204.8h1" stroke="#1e1e1e" stroke-width="1" fill="none" opacity="0.9"/>
<text x="77.80" y="141.70" font-size="5.2" text-anchor="middle" fill="#d89868" color="#d89868" font-weight="normal" >&#8805;5</text>
<text x="84.40" y="141.70" font-size="5.6" text-anchor="middle" fill="#5a4040" color="#5a4040" font-weight="bold" >I5</text>
<text x="90.60" y="141.70" font-size="5.6" text-anchor="middle" fill="#4a2a38" color="#4a2a38" font-weight="bold" >I4</text>
<text x="94.80" y="141.70" font-size="5.6" text-anchor="middle" fill="#4a2a38" color="#4a2a38" font-weight="bold" >I3</text>
<text x="101.60" y="141.70" font-size="5.6" text-anchor="middle" fill="#6a4050" color="#6a4050" font-weight="bold" >I2</text>
<text x="109.40" y="141.70" font-size="5.6" text-anchor="middle" fill="#222" color="#222" font-weight="bold" >I1</text>
<text x="115.20" y="141.70" font-size="5.6" text-anchor="middle" fill="#111" color="#111" font-weight="bold" >I0</text>
<rect x="48.00" y="136.40" width="79.30" height="79.90" fill="none" stroke="#111" stroke-width="1.15" />
<line x1="46.50" y1="144.40" x2="48.00" y2="144.40" stroke="#333" stroke-width="0.8" />
<line x1="46.50" y1="158.90" x2="48.00" y2="158.90" stroke="#333" stroke-width="0.8" />
<line x1="46.50" y1="173.40" x2="48.00" y2="173.40" stroke="#333" stroke-width="0.8" />
<line x1="46.50" y1="187.90" x2="48.00" y2="187.90" stroke="#333" stroke-width="0.8" />
<line x1="46.50" y1="202.40" x2="48.00" y2="202.40" stroke="#333" stroke-width="0.8" />
<line x1="46.50" y1="216.90" x2="48.00" y2="216.90" stroke="#333" stroke-width="0.8" />
<line x1="50.00" y1="216.30" x2="50.00" y2="218.30" stroke="#333" stroke-width="0.7" />
<line x1="54.97" y1="216.30" x2="54.97" y2="217.50" stroke="#333" stroke-width="0.7" />
<line x1="57.87" y1="216.30" x2="57.87" y2="217.50" stroke="#333" stroke-width="0.7" />
<line x1="59.93" y1="216.30" x2="59.93" y2="217.50" stroke="#333" stroke-width="0.7" />
<line x1="61.53" y1="216.30" x2="61.53" y2="217.50" stroke="#333" stroke-width="0.7" />
<line x1="62.84" y1="216.30" x2="62.84" y2="217.50" stroke="#333" stroke-width="0.7" />
<line x1="63.94" y1="216.30" x2="63.94" y2="217.50" stroke="#333" stroke-width="0.7" />
<line x1="64.90" y1="216.30" x2="64.90" y2="217.50" stroke="#333" stroke-width="0.7" />
<line x1="65.75" y1="216.30" x2="65.75" y2="217.50" stroke="#333" stroke-width="0.7" />
<line x1="66.50" y1="216.30" x2="66.50" y2="218.30" stroke="#333" stroke-width="0.7" />
<line x1="71.47" y1="216.30" x2="71.47" y2="217.50" stroke="#333" stroke-width="0.7" />
<line x1="74.37" y1="216.30" x2="74.37" y2="217.50" stroke="#333" stroke-width="0.7" />
<line x1="76.43" y1="216.30" x2="76.43" y2="217.50" stroke="#333" stroke-width="0.7" />
<line x1="78.03" y1="216.30" x2="78.03" y2="217.50" stroke="#333" stroke-width="0.7" />
<line x1="79.34" y1="216.30" x2="79.34" y2="217.50" stroke="#333" stroke-width="0.7" />
<line x1="80.44" y1="216.30" x2="80.44" y2="217.50" stroke="#333" stroke-width="0.7" />
<line x1="81.40" y1="216.30" x2="81.40" y2="217.50" stroke="#333" stroke-width="0.7" />
<line x1="82.25" y1="216.30" x2="82.25" y2="217.50" stroke="#333" stroke-width="0.7" />
<line x1="83.00" y1="216.30" x2="83.00" y2="218.30" stroke="#333" stroke-width="0.7" />
<line x1="87.97" y1="216.30" x2="87.97" y2="217.50" stroke="#333" stroke-width="0.7" />
<line x1="90.87" y1="216.30" x2="90.87" y2="217.50" stroke="#333" stroke-width="0.7" />
<line x1="92.93" y1="216.30" x2="92.93" y2="217.50" stroke="#333" stroke-width="0.7" />
<line x1="94.53" y1="216.30" x2="94.53" y2="217.50" stroke="#333" stroke-width="0.7" />
<line x1="95.84" y1="216.30" x2="95.84" y2="217.50" stroke="#333" stroke-width="0.7" />
<line x1="96.94" y1="216.30" x2="96.94" y2="217.50" stroke="#333" stroke-width="0.7" />
<line x1="97.90" y1="216.30" x2="97.90" y2="217.50" stroke="#333" stroke-width="0.7" />
<line x1="98.75" y1="216.30" x2="98.75" y2="217.50" stroke="#333" stroke-width="0.7" />
<line x1="99.50" y1="216.30" x2="99.50" y2="218.30" stroke="#333" stroke-width="0.7" />
<line x1="104.47" y1="216.30" x2="104.47" y2="217.50" stroke="#333" stroke-width="0.7" />
<line x1="107.37" y1="216.30" x2="107.37" y2="217.50" stroke="#333" stroke-width="0.7" />
<line x1="109.43" y1="216.30" x2="109.43" y2="217.50" stroke="#333" stroke-width="0.7" />
<line x1="111.03" y1="216.30" x2="111.03" y2="217.50" stroke="#333" stroke-width="0.7" />
<line x1="112.34" y1="216.30" x2="112.34" y2="217.50" stroke="#333" stroke-width="0.7" />
<line x1="113.44" y1="216.30" x2="113.44" y2="217.50" stroke="#333" stroke-width="0.7" />
<line x1="114.40" y1="216.30" x2="114.40" y2="217.50" stroke="#333" stroke-width="0.7" />
<line x1="115.25" y1="216.30" x2="115.25" y2="217.50" stroke="#333" stroke-width="0.7" />
<line x1="116.00" y1="216.30" x2="116.00" y2="218.30" stroke="#333" stroke-width="0.7" />
<line x1="120.97" y1="216.30" x2="120.97" y2="217.50" stroke="#333" stroke-width="0.7" />
<line x1="123.87" y1="216.30" x2="123.87" y2="217.50" stroke="#333" stroke-width="0.7" />
<line x1="125.93" y1="216.30" x2="125.93" y2="217.50" stroke="#333" stroke-width="0.7" />
<text x="88.50" y="228.80" font-size="9.2" text-anchor="middle" fill="#1a1a1a" color="#1a1a1a" font-weight="normal" >Mpl agonist</text>
<line x1="48.00" y1="242.90" x2="84.50" y2="242.90" stroke="#c8854c" stroke-width="1.0" />
<line x1="84.50" y1="242.90" x2="84.50" y2="283.00" stroke="#c4804a" stroke-width="1.0" />
<line x1="86.10" y1="241.20" x2="86.10" y2="283.00" stroke="#e2b088" stroke-width="0.8" />
<line x1="48.00" y1="283.00" x2="86.10" y2="283.00" stroke="#b0703e" stroke-width="1.05" />
<line x1="86.10" y1="283.00" x2="126.80" y2="283.00" stroke="#8e5068" stroke-width="1.05" />
<line x1="90.40" y1="242.90" x2="126.80" y2="242.90" stroke="#a06482" stroke-width="1.0" />
<line x1="90.40" y1="242.90" x2="90.40" y2="283.00" stroke="#a56a88" stroke-width="1.0" />
<line x1="108.00" y1="242.90" x2="108.00" y2="283.00" stroke="#8a5068" stroke-width="1.0" />
<line x1="126.40" y1="242.90" x2="126.40" y2="283.00" stroke="#743e54" stroke-width="1.0" />
<path d="M70.7 275.2h1M81.2 272.0h1M78.2 271.7h1M74.4 265.7h1M77.4 278.3h1M87.5 271.9h1M73.0 272.1h1M84.0 274.4h1M74.1 274.5h1M76.6 275.1h1M75.3 267.0h1M78.4 276.1h1M70.7 272.6h1M83.8 271.5h1M73.7 281.3h1M83.5 277.2h1M71.7 279.7h1M67.0 270.9h1M82.9 278.4h1M71.8 270.3h1M79.3 265.1h1M82.2 275.3h1M75.0 275.2h1M83.1 274.3h1M81.4 279.2h1M74.8 273.7h1M74.6 277.2h1M75.3 274.9h1M78.9 273.3h1M89.3 272.7h1M87.3 276.4h1M86.7 272.3h1M84.1 276.1h1M74.0 274.1h1M77.2 272.9h1M86.6 270.1h1M66.9 265.9h1M75.0 270.4h1M78.1 275.3h1M89.6 274.3h1M81.0 270.0h1M81.8 278.5h1M86.8 265.1h1M83.8 279.4h1M83.4 266.9h1M76.0 275.4h1M80.7 269.7h1M72.2 276.9h1M69.3 278.8h1M78.1 274.2h1M69.3 270.6h1M82.5 267.1h1M91.6 267.3h1M70.0 273.2h1M81.2 276.0h1M75.6 272.2h1M76.5 270.7h1M61.1 276.9h1M79.6 273.6h1M73.9 274.0h1M77.9 272.7h1M85.2 266.0h1M79.6 268.7h1M75.9 279.0h1M70.9 272.6h1M74.1 276.8h1M71.6 266.2h1M81.4 271.6h1M75.9 277.4h1M72.2 271.5h1M79.0 274.7h1M74.6 277.2h1M92.6 271.4h1M90.2 264.5h1M87.2 271.6h1M78.9 271.6h1M73.8 267.8h1M75.4 278.2h1M85.4 271.6h1M74.6 270.2h1M70.2 280.3h1M82.3 273.5h1M74.8 268.9h1M86.6 276.1h1M71.8 277.0h1M70.8 275.6h1M71.7 271.3h1M81.2 274.7h1M84.6 269.6h1M88.3 278.4h1M77.9 274.9h1M72.9 272.4h1M69.4 273.4h1M79.3 278.4h1M84.2 276.3h1M75.6 272.1h1M75.8 273.9h1M65.4 276.1h1M67.8 270.9h1M78.1 270.9h1M88.9 272.6h1M88.3 277.7h1M74.8 274.6h1M86.5 271.7h1M78.6 270.7h1M78.4 271.6h1M78.5 277.0h1M87.1 273.5h1M79.3 276.5h1M76.1 268.7h1M85.2 269.2h1M84.1 269.1h1M89.9 268.8h1M83.5 279.0h1M71.7 279.0h1M72.6 265.9h1M82.7 275.8h1M76.7 262.8h1M77.6 271.8h1M75.5 271.8h1M66.3 270.7h1M89.8 279.2h1M75.6 270.1h1M80.6 277.3h1M82.7 268.3h1M79.1 273.6h1M87.4 277.8h1M81.4 277.9h1M75.4 279.2h1M75.2 274.6h1M84.0 269.3h1M73.4 265.9h1M79.1 272.8h1M75.9 275.0h1M64.2 272.9h1M78.6 271.9h1M83.2 280.1h1M75.1 269.2h1M74.1 273.4h1M81.8 269.5h1M84.5 268.9h1M83.4 274.7h1M81.0 281.7h1M76.3 272.3h1M81.1 276.5h1M69.3 274.1h1M73.2 275.5h1M86.9 273.2h1M77.3 273.7h1M58.7 276.1h1M81.7 273.7h1M75.4 270.1h1M76.8 277.9h1M77.3 278.4h1M61.2 271.1h1M79.8 272.9h1M67.2 270.3h1M86.2 267.8h1M71.5 268.6h1M74.4 275.6h1M81.9 264.8h1M87.5 270.6h1M74.2 279.7h1M77.5 268.0h1M73.8 270.1h1M71.4 271.7h1M83.7 274.4h1M69.0 284.2h1M71.5 273.5h1M78.2 276.1h1M75.9 274.8h1M91.7 273.4h1M70.9 274.3h1M72.8 271.5h1M79.2 274.4h1M76.1 276.4h1M76.7 267.7h1M83.7 271.5h1M85.9 270.4h1M81.7 274.3h1M60.4 267.0h1M70.7 278.7h1M65.7 276.7h1M85.1 275.0h1M82.4 271.0h1M77.9 273.9h1M80.7 275.9h1M76.7 270.2h1M74.3 274.7h1M67.2 267.9h1M75.3 270.8h1M76.2 262.3h1M75.8 272.0h1M83.1 265.0h1M76.0 274.9h1M81.2 277.8h1M84.9 268.8h1M82.2 271.6h1M72.8 279.2h1M73.9 269.6h1M75.3 269.6h1M84.6 274.5h1M87.2 274.7h1M74.0 277.2h1M73.7 271.1h1M76.9 273.2h1M85.8 270.6h1M80.3 272.9h1M69.8 268.6h1M76.6 274.6h1M80.1 274.9h1M78.3 271.2h1M80.8 268.9h1M69.2 271.7h1M68.6 270.9h1M73.1 270.8h1M77.7 269.8h1M75.2 266.1h1M79.0 269.4h1M80.6 261.6h1M72.7 274.0h1M62.0 271.5h1M78.6 273.4h1M68.2 273.9h1M79.0 269.1h1M82.9 272.8h1M78.1 271.2h1M81.6 273.4h1M85.5 274.8h1M73.9 272.1h1M84.0 271.5h1M80.5 275.1h1M76.8 263.6h1M78.9 273.9h1M78.9 269.9h1M85.9 272.5h1M73.9 270.1h1M80.4 268.6h1M71.4 281.1h1M86.6 277.3h1M87.0 275.4h1M66.9 277.9h1M86.1 275.0h1M65.1 278.1h1M87.0 271.0h1M78.8 276.2h1M77.4 277.5h1M78.5 275.8h1M78.6 267.0h1M71.4 285.9h1M79.8 278.3h1M85.5 280.0h1M81.7 270.6h1M78.1 265.2h1M76.8 276.7h1M63.7 273.8h1M83.4 278.4h1M71.9 270.3h1M65.6 268.8h1M81.5 281.4h1M70.4 278.6h1M80.8 271.0h1M92.5 262.7h1M77.6 273.9h1M92.1 280.3h1M93.0 273.5h1M84.5 278.6h1M81.4 274.5h1M76.8 271.3h1M69.9 281.0h1M75.1 264.5h1M79.7 272.9h1M79.2 280.4h1M77.3 271.9h1M73.1 272.9h1M75.1 273.8h1M98.7 274.6h1M72.3 280.9h1M83.7 276.3h1M82.7 276.3h1M82.5 278.8h1M84.7 278.5h1M74.7 273.0h1M73.2 276.9h1M83.5 271.1h1M81.9 283.7h1M86.2 268.4h1M77.4 275.6h1M77.8 274.6h1M85.8 274.3h1M70.7 275.9h1M77.4 273.5h1M74.3 267.3h1M69.7 271.6h1M70.9 261.9h1M85.6 268.2h1M73.2 275.2h1M62.0 278.5h1M72.9 275.7h1M74.8 274.3h1M78.7 273.0h1M65.9 267.0h1M77.7 278.8h1M74.4 275.2h1M79.1 275.0h1M84.6 266.9h1M79.8 272.3h1M75.9 269.5h1M72.8 268.8h1M70.7 283.3h1M89.3 273.0h1M82.9 269.0h1M59.6 265.5h1M78.9 278.9h1M77.7 268.9h1M76.4 268.9h1M68.8 272.0h1M75.4 269.7h1M72.1 269.2h1M79.6 278.7h1M76.6 282.2h1M67.3 274.1h1M70.3 272.3h1M78.7 275.3h1M85.5 270.7h1M69.8 272.2h1M79.9 270.1h1M83.9 279.9h1M68.6 274.5h1M84.7 265.1h1M79.4 272.1h1M68.6 278.4h1M79.4 271.0h1M80.9 275.6h1M83.1 275.4h1M80.7 268.2h1M75.2 273.5h1M59.7 281.7h1M75.5 268.7h1M65.9 274.0h1M78.2 270.6h1M75.2 269.4h1M73.0 272.6h1M73.7 275.8h1M77.1 273.5h1M80.7 278.2h1M82.0 273.9h1M76.9 269.7h1M75.7 275.8h1M79.5 271.4h1M69.2 266.7h1M80.1 277.2h1M80.5 267.4h1M76.6 273.9h1M71.9 274.4h1M76.7 269.6h1M69.8 276.3h1M80.4 269.4h1M71.3 276.6h1M81.9 271.8h1M88.6 271.8h1M71.0 277.5h1M76.8 274.4h1M78.3 268.9h1M70.1 272.2h1M87.3 268.9h1M87.0 273.9h1M70.6 274.1h1M81.8 269.3h1M63.9 274.5h1M70.7 274.8h1M65.3 272.4h1M72.6 266.9h1M76.4 273.7h1M74.3 268.2h1M79.4 265.9h1M81.5 275.0h1M89.1 276.6h1M80.3 274.1h1M78.2 267.6h1M87.7 275.2h1M76.1 268.3h1M87.8 275.2h1M70.2 275.7h1M90.5 272.9h1M80.6 271.3h1M73.8 277.4h1M98.3 273.5h1M77.2 276.2h1M76.0 276.0h1M83.5 268.9h1M70.9 272.7h1M83.5 274.1h1M86.2 267.4h1M81.3 270.5h1M78.7 274.3h1M71.6 272.1h1M70.3 274.1h1M72.4 271.0h1M79.4 270.3h1M85.6 270.4h1M83.6 274.2h1M71.2 272.1h1M72.5 271.5h1M76.2 280.4h1M75.2 279.4h1M80.9 267.7h1M62.7 275.8h1M64.9 275.9h1M84.8 274.6h1M76.6 272.0h1M79.7 271.8h1M74.5 271.5h1M85.7 270.5h1M80.5 268.3h1M73.3 267.4h1M76.7 275.8h1M80.0 271.0h1M82.0 271.6h1M80.5 274.1h1M81.6 262.9h1M69.4 276.1h1M77.3 282.1h1M76.5 270.8h1M87.8 275.3h1M90.5 275.1h1M76.7 275.9h1M72.8 271.2h1M74.3 272.1h1M83.1 271.0h1M80.1 271.0h1M83.8 261.8h1M76.6 273.7h1M70.9 277.1h1M79.4 278.2h1M84.3 275.6h1M77.0 268.6h1M76.6 271.1h1M79.6 271.1h1M98.1 266.5h1M85.7 271.1h1M76.4 276.8h1M78.0 268.1h1M80.7 272.2h1M64.5 273.8h1M71.1 270.0h1M81.2 274.2h1M76.1 281.8h1M80.8 270.5h1M79.6 272.5h1M63.5 266.6h1M68.9 281.4h1M76.8 271.9h1M74.3 277.0h1M78.2 279.9h1M83.2 279.7h1M77.2 274.5h1M75.2 272.3h1M66.6 270.6h1M71.8 270.4h1M86.0 274.1h1M86.0 276.5h1M84.0 277.1h1M74.0 276.2h1M75.9 270.9h1M85.8 281.8h1M71.6 280.0h1M83.4 269.6h1M79.8 274.5h1M80.5 271.6h1M69.6 273.1h1M83.6 276.2h1M82.3 277.5h1M71.5 272.8h1M80.2 277.0h1M79.0 275.1h1M78.9 281.5h1M63.7 272.9h1M94.2 274.0h1M66.0 273.5h1M68.6 270.3h1M79.5 279.9h1M81.0 275.7h1M84.7 273.8h1M72.4 272.6h1M80.2 271.9h1M73.6 271.5h1M68.2 268.9h1M77.4 271.5h1M78.2 278.7h1M80.0 272.9h1M70.3 268.6h1M80.5 269.5h1M80.8 268.7h1M78.9 272.7h1M84.5 271.4h1M75.6 274.0h1M78.4 279.8h1M76.3 270.8h1M75.9 274.9h1M79.5 275.8h1M68.9 283.0h1M90.0 272.9h1M70.1 273.6h1M80.7 264.0h1M78.1 267.0h1M81.0 278.6h1M84.8 266.9h1M87.0 276.7h1M75.6 275.0h1M87.9 271.7h1M77.9 270.7h1M85.6 264.3h1M87.3 269.1h1M84.1 266.4h1M71.9 270.6h1M83.4 266.4h1M81.9 270.4h1M86.1 271.7h1M81.2 272.3h1M89.7 271.5h1M77.8 281.0h1M78.5 275.8h1M73.2 273.8h1M63.2 273.4h1M73.8 266.9h1M68.7 277.6h1M80.8 266.9h1M89.9 270.2h1M75.6 274.0h1M70.6 266.5h1M73.1 277.8h1M84.2 266.6h1M85.9 273.1h1M81.3 273.2h1M80.7 269.0h1M72.1 270.2h1M75.6 275.5h1M70.0 279.4h1M73.9 270.6h1M82.6 274.8h1M75.8 268.7h1M71.5 266.5h1M85.5 277.4h1M90.2 275.0h1M80.2 276.1h1M84.2 272.0h1M80.3 281.7h1M66.9 267.3h1M71.7 276.0h1M85.8 271.6h1M82.4 272.8h1M80.0 270.8h1M77.8 273.0h1M85.4 282.0h1M66.1 275.2h1M78.0 276.9h1M84.9 276.2h1M83.3 269.2h1M66.8 279.8h1M85.9 269.1h1M86.5 275.7h1M61.9 276.6h1M71.5 277.7h1M73.5 270.0h1M67.9 272.1h1M84.7 270.3h1M65.8 281.7h1M90.1 275.8h1M74.5 268.1h1M67.3 275.3h1M86.5 268.7h1M78.0 271.9h1M76.3 275.0h1M91.7 270.4h1M83.6 277.4h1M76.1 272.4h1M69.2 277.4h1M74.5 270.4h1M78.4 269.5h1M71.2 271.8h1M87.7 272.2h1M81.5 267.1h1M65.2 280.4h1M75.4 266.8h1M77.3 275.5h1M66.7 269.4h1M79.7 269.3h1M83.2 276.9h1M80.9 271.3h1M77.7 270.4h1M77.1 274.3h1M76.0 276.9h1M95.0 270.8h1M80.3 276.3h1M82.2 272.0h1M74.9 277.1h1M82.1 275.1h1M72.7 275.6h1M83.2 272.2h1M82.2 281.8h1M65.7 275.5h1M70.3 267.5h1M76.5 275.2h1M78.3 268.3h1M68.5 270.7h1M78.1 269.6h1M68.1 280.1h1M72.5 272.4h1M74.4 270.6h1M78.3 271.8h1M82.1 268.2h1M68.2 280.9h1M77.5 276.1h1M85.8 275.3h1M78.2 266.7h1M67.5 277.0h1M82.5 275.3h1M67.1 264.3h1M71.0 268.2h1M79.0 268.8h1M88.4 270.5h1M74.3 276.5h1M80.2 269.3h1M83.4 280.8h1M69.9 272.0h1M70.9 265.1h1M82.1 275.8h1M84.4 274.7h1M64.7 272.9h1M73.6 268.2h1M70.7 276.1h1M76.0 281.0h1M81.1 265.2h1M83.9 278.1h1M78.2 268.1h1M89.7 267.6h1M77.4 265.2h1M69.7 266.1h1M85.2 277.8h1M75.3 267.5h1M77.6 274.5h1M67.9 268.3h1M77.3 275.9h1M78.5 274.8h1M69.7 262.8h1M80.1 269.2h1M77.2 271.5h1M81.2 269.8h1M87.6 273.1h1M81.5 275.6h1M84.9 274.7h1M66.4 270.4h1M90.4 274.9h1M81.7 274.9h1M73.7 270.2h1M73.7 277.8h1M80.4 280.3h1M81.3 280.8h1M81.0 268.1h1M89.6 274.4h1M85.9 273.9h1M75.8 273.7h1M70.5 268.1h1M72.1 270.8h1M69.0 272.6h1M80.0 281.4h1M90.3 272.8h1M83.9 272.1h1M80.6 272.9h1M74.4 273.3h1M68.1 274.8h1M76.1 268.5h1M75.6 275.3h1M73.5 275.0h1M81.8 279.4h1M70.7 272.5h1M81.4 279.2h1M79.8 276.1h1M68.2 270.6h1M89.1 271.8h1M92.5 270.0h1M76.1 266.4h1M82.3 274.1h1M91.5 273.7h1M76.3 267.2h1M77.4 276.9h1M83.0 278.1h1M83.8 272.8h1M82.1 273.7h1M69.1 280.1h1M80.5 268.6h1M80.6 274.2h1M84.7 279.0h1M57.6 275.3h1M88.3 269.1h1M65.5 274.2h1M80.3 274.5h1M70.5 271.1h1M79.3 276.1h1M92.8 274.2h1M73.9 263.2h1M85.2 272.5h1M77.3 268.9h1M82.9 265.5h1M78.7 273.5h1M80.0 278.4h1M77.3 273.4h1M83.8 266.5h1M76.0 273.3h1M84.4 269.7h1M83.4 274.6h1M68.0 266.8h1M68.3 273.6h1M79.4 276.0h1M83.5 270.7h1M85.2 276.4h1M81.2 275.0h1M69.3 274.5h1M71.0 268.0h1M75.6 273.6h1M77.6 271.6h1M71.2 273.8h1M73.0 267.1h1M78.6 279.1h1M75.3 268.6h1M87.4 280.2h1M76.0 272.1h1M79.4 285.3h1M78.9 277.2h1M81.0 265.4h1M70.5 267.8h1M80.9 273.4h1M90.1 271.9h1M80.1 273.3h1M78.9 282.7h1M79.9 279.2h1M86.8 270.5h1M82.6 271.4h1M78.7 273.7h1M78.1 271.0h1M88.5 271.9h1M82.8 280.0h1M82.2 277.3h1M87.4 277.6h1M89.7 267.0h1M91.3 273.1h1M66.1 270.3h1M68.5 272.9h1M67.9 268.8h1M80.0 273.7h1M72.6 272.0h1M77.3 273.3h1M78.0 272.1h1M84.0 266.3h1M74.6 273.6h1M75.3 270.7h1M75.0 273.9h1M86.5 272.2h1M76.2 274.5h1M76.4 264.9h1M79.8 271.4h1M74.1 275.6h1M78.3 270.6h1M63.2 265.8h1M78.1 272.5h1M81.0 273.9h1M74.7 267.7h1M70.6 272.4h1M70.2 276.2h1M69.0 265.5h1M76.7 265.5h1M89.1 268.8h1M77.6 272.0h1M72.4 265.6h1M65.3 276.6h1M84.9 282.1h1M68.1 275.4h1M77.9 276.6h1M74.5 276.0h1M84.1 275.5h1M87.8 272.3h1M88.5 270.1h1M89.3 261.5h1M78.1 269.6h1M78.0 277.3h1M82.9 273.4h1M89.6 266.8h1M72.5 279.3h1M80.2 264.3h1M80.3 268.0h1M88.0 277.8h1M74.3 278.4h1M72.3 276.9h1M81.9 272.5h1M68.3 271.8h1M62.4 270.6h1M65.4 278.1h1M71.4 262.8h1M82.0 274.5h1M74.6 281.9h1M83.3 273.3h1M73.6 260.6h1M81.3 277.0h1M74.0 267.1h1M77.7 266.0h1M78.0 276.2h1M88.3 274.1h1M79.3 276.1h1M87.5 271.7h1M69.6 269.7h1M69.4 269.3h1M77.2 274.4h1M79.1 273.3h1M75.6 274.8h1M84.0 276.2h1M88.2 271.8h1M76.3 280.1h1M79.4 274.7h1M75.7 277.1h1M75.3 268.8h1M77.6 271.1h1M83.7 271.4h1M78.8 272.1h1M80.3 270.4h1M85.5 267.0h1M75.4 270.0h1M82.4 273.2h1M81.3 271.6h1M73.1 268.3h1M75.7 270.8h1M79.9 274.5h1M84.6 272.6h1M72.9 268.5h1M78.4 274.5h1M91.2 273.8h1M90.0 280.9h1M70.9 278.1h1M85.7 278.7h1M77.9 277.0h1M74.7 272.7h1M78.1 280.5h1M76.5 277.0h1M78.4 270.0h1M79.6 275.8h1M73.2 275.7h1M73.2 269.3h1M79.5 272.0h1M71.3 266.2h1M78.2 274.0h1M74.9 273.8h1M67.6 274.6h1M80.8 274.2h1M73.8 273.3h1M78.9 277.5h1M79.9 274.1h1M73.1 276.6h1M86.0 270.9h1M82.3 274.3h1M77.7 267.6h1M89.9 265.2h1M80.1 271.4h1M85.8 271.2h1M78.3 275.6h1M81.1 270.8h1M82.6 274.6h1M84.7 270.9h1M77.7 271.4h1M72.3 274.1h1M80.8 279.0h1M75.8 274.6h1M85.8 272.5h1M78.4 273.6h1M73.3 268.9h1M85.6 273.7h1M77.5 267.8h1M78.8 277.9h1M70.2 269.3h1M85.5 279.0h1M88.5 270.7h1M82.1 269.9h1M81.5 271.5h1M79.3 278.6h1M80.3 272.0h1M78.4 274.1h1M74.5 273.9h1M82.1 279.5h1M64.1 268.0h1M69.6 276.7h1M94.5 273.8h1M78.8 277.8h1M61.5 272.3h1M56.9 273.6h1M74.6 271.0h1M80.3 270.6h1M85.5 273.0h1M80.6 283.6h1M75.0 276.9h1M72.4 278.2h1M84.5 273.6h1M84.7 279.7h1M87.3 273.0h1M77.6 277.6h1M68.1 270.5h1M81.3 275.4h1M90.5 280.3h1M80.2 274.8h1M69.1 272.2h1M79.8 272.1h1M78.4 275.5h1M71.6 270.6h1M66.0 277.8h1M70.9 265.9h1M83.2 272.1h1M84.5 271.5h1M92.3 276.0h1M79.0 273.5h1M76.6 276.4h1M91.5 271.2h1M70.7 275.5h1M85.2 266.8h1M73.3 268.9h1M81.8 275.1h1M73.1 268.3h1M82.6 264.5h1M82.3 272.4h1M90.9 277.1h1M74.1 271.9h1M76.1 270.0h1M78.5 277.0h1M67.9 272.1h1M88.0 276.1h1M72.5 269.7h1M72.3 266.4h1M85.7 273.3h1M73.3 267.1h1M75.4 270.9h1M89.5 271.1h1M78.8 277.4h1M82.5 272.3h1M63.4 278.8h1M82.0 271.2h1M77.4 269.1h1M72.0 266.9h1M81.4 275.1h1M79.2 276.2h1M81.6 273.5h1M72.1 275.4h1M85.9 275.6h1M86.3 271.0h1M71.5 278.2h1M74.1 274.0h1M76.7 273.1h1M76.2 270.8h1M66.1 280.9h1M79.4 265.1h1M71.9 268.4h1M73.0 262.5h1M81.8 279.8h1M76.4 276.1h1M82.0 267.9h1M86.1 266.1h1M74.2 271.5h1M86.4 273.5h1M77.2 269.7h1M78.6 273.2h1M82.9 278.7h1M82.9 273.1h1M77.0 279.6h1M79.3 272.9h1M90.0 279.5h1M81.8 272.6h1M73.8 277.4h1M75.0 276.9h1M72.8 273.4h1M80.7 273.6h1M79.6 274.6h1M70.5 268.4h1M77.0 280.4h1M77.2 269.2h1M73.6 273.1h1M85.9 270.7h1M81.7 273.8h1M75.6 269.1h1M77.0 270.0h1M81.6 265.8h1M85.5 276.1h1M81.8 279.1h1M82.0 266.0h1M78.4 274.8h1M73.5 268.4h1M80.9 275.1h1M75.2 272.0h1M74.6 270.7h1M77.6 277.4h1M67.3 271.6h1M88.7 274.3h1M79.0 276.4h1M71.3 268.0h1M67.0 267.0h1M79.7 276.5h1M75.2 270.2h1M80.7 275.5h1M79.7 265.2h1M74.4 262.6h1M79.6 269.5h1M73.7 279.2h1M86.8 275.0h1M79.8 273.7h1M74.1 272.8h1M90.7 269.4h1M73.6 273.7h1M83.9 276.4h1M71.6 272.5h1M76.2 268.0h1M78.5 271.0h1M84.1 274.8h1M72.8 273.3h1M75.6 270.4h1M74.8 277.3h1M75.3 266.0h1M72.9 276.3h1M92.2 268.7h1M75.6 271.7h1M68.7 274.6h1M77.7 274.1h1M92.8 271.9h1M83.2 276.4h1M73.8 270.6h1M88.3 275.9h1M78.9 268.5h1M83.8 275.2h1M92.5 279.0h1M83.3 274.1h1M78.4 270.8h1M80.0 274.0h1M82.3 277.4h1M80.1 270.8h1M83.3 279.3h1M72.5 274.7h1M81.6 275.2h1M81.3 272.6h1M77.3 279.9h1M89.5 267.3h1M61.2 274.8h1M73.5 270.9h1M67.5 274.4h1M77.6 270.8h1M83.9 282.9h1M87.7 277.8h1M75.3 275.7h1M77.8 277.7h1M81.8 272.9h1M81.7 270.1h1M83.2 279.1h1M75.6 275.3h1M67.0 276.8h1M83.8 268.8h1M89.5 273.5h1M66.6 267.4h1M83.8 271.9h1M85.3 266.7h1M77.3 277.0h1M73.5 275.8h1M75.6 274.4h1M80.1 282.1h1M69.8 276.2h1M86.7 268.4h1M78.5 282.4h1M84.9 260.9h1M76.4 266.0h1M80.0 270.0h1M74.3 269.6h1M79.9 271.1h1M72.0 272.1h1M80.7 269.5h1M85.3 266.2h1M80.7 271.4h1M88.4 270.4h1M73.6 267.5h1M91.1 275.5h1M70.8 271.6h1M71.7 279.2h1M80.8 264.7h1M79.4 276.7h1M78.0 274.9h1M77.3 273.9h1M79.4 270.1h1M80.3 273.7h1M77.7 270.2h1M71.3 274.0h1M83.5 263.1h1M74.5 278.5h1M84.1 270.1h1M86.9 269.0h1M72.8 280.9h1M75.1 272.1h1M67.1 268.9h1M70.2 272.4h1M65.9 277.3h1M75.6 270.5h1M73.8 276.0h1M88.1 271.3h1M88.7 279.6h1M86.9 274.2h1M68.1 275.8h1M75.3 273.8h1M65.5 271.8h1M79.5 269.2h1M79.9 279.8h1M79.5 270.2h1M93.8 264.2h1M71.9 274.7h1M74.1 263.6h1M79.7 276.4h1M72.7 279.0h1M81.3 277.9h1M67.9 273.0h1M88.6 281.2h1M86.7 273.0h1M79.2 270.4h1M85.3 270.2h1M78.8 264.6h1M68.0 280.3h1M78.4 273.9h1M63.5 272.9h1M91.7 266.9h1M62.2 272.3h1M74.5 272.1h1M69.7 267.4h1M69.8 275.6h1M77.7 276.4h1M70.8 275.4h1M75.1 273.4h1M84.2 273.1h1M75.7 266.2h1M78.4 276.2h1M73.8 272.7h1M66.2 267.5h1M80.7 278.3h1M75.9 266.1h1M75.5 266.6h1M76.2 280.9h1M80.0 272.4h1M84.9 271.4h1M80.2 273.8h1M81.0 267.0h1M82.7 276.6h1M62.8 261.8h1M72.0 279.1h1M78.1 275.8h1M81.7 276.7h1M73.7 270.6h1M80.5 275.5h1M81.8 274.4h1M74.8 277.6h1M81.1 277.4h1M61.0 277.2h1M61.7 273.9h1M73.6 273.5h1M74.8 271.7h1M79.3 274.4h1M72.7 262.5h1M72.8 275.2h1M72.4 274.8h1M75.5 269.1h1M85.8 279.9h1M77.3 272.8h1M84.4 267.5h1M72.1 277.7h1M84.0 271.0h1M72.8 274.5h1M68.6 270.9h1M76.4 262.8h1M82.0 276.2h1M85.2 267.0h1M69.4 269.6h1M69.2 281.5h1M71.4 271.7h1M79.4 274.9h1M87.8 268.5h1M83.9 273.6h1M70.1 273.6h1M68.6 279.7h1M73.1 277.2h1M86.8 270.4h1M71.9 273.5h1M70.9 276.7h1M79.2 269.8h1M73.4 276.0h1M68.2 280.0h1M72.7 272.2h1M71.8 279.8h1M83.6 278.4h1M82.4 273.4h1M89.5 275.8h1M81.0 275.4h1M83.0 274.2h1M76.9 266.3h1M91.9 267.6h1M63.4 270.0h1M91.1 278.1h1M73.9 274.1h1M77.8 264.7h1M75.7 274.2h1M85.9 268.0h1M62.7 266.4h1M80.2 273.3h1M79.0 273.6h1M75.5 267.3h1M81.1 274.6h1M81.9 278.2h1M69.6 263.2h1M65.9 282.0h1M71.8 274.7h1M77.9 276.1h1M99.8 270.8h1M76.8 270.5h1M79.7 275.2h1M71.4 278.5h1M85.8 274.9h1M77.3 272.0h1M66.8 275.8h1M71.4 270.9h1M84.8 269.1h1M74.5 276.6h1M90.6 270.1h1M85.5 270.3h1M80.6 275.0h1M70.3 277.3h1M90.2 273.2h1M79.8 268.1h1M90.2 273.3h1M69.3 276.2h1M68.1 270.1h1M63.5 278.8h1M93.0 270.3h1M73.6 270.6h1M74.2 275.3h1M87.9 268.8h1M81.0 265.4h1M88.4 272.6h1M73.2 279.4h1M77.3 278.8h1M85.3 280.0h1M72.6 273.2h1M80.5 272.2h1M88.4 270.0h1M84.8 278.7h1M64.7 268.9h1M71.9 270.7h1M80.7 272.3h1M78.5 271.1h1M77.4 275.0h1M83.1 269.7h1M77.2 269.8h1M76.8 267.0h1M84.5 275.8h1M77.2 270.1h1M74.9 270.2h1M67.5 279.9h1M100.4 267.8h1M70.1 275.4h1M82.1 266.4h1M64.9 275.3h1M64.5 279.0h1M74.6 273.4h1M78.0 270.7h1M77.0 271.7h1M86.5 272.6h1M77.8 270.8h1M73.7 269.9h1M78.1 280.7h1M85.6 274.0h1M89.3 277.3h1M79.4 272.3h1M70.5 274.0h1M75.9 266.3h1M69.3 281.1h1M79.5 275.1h1M79.4 271.0h1M81.1 277.6h1M75.9 275.2h1M85.0 271.0h1M79.2 269.9h1M82.1 271.5h1M85.8 269.8h1M89.5 271.7h1M72.3 269.2h1M82.5 269.4h1M90.3 278.4h1M81.5 267.0h1M77.8 269.9h1M65.7 274.8h1M93.0 270.7h1M83.5 278.4h1M71.5 271.6h1M79.8 275.0h1M70.2 273.9h1M77.3 277.0h1M83.4 270.7h1M90.0 271.7h1M97.3 270.5h1M109.4 270.2h1M98.0 277.1h1M98.8 272.2h1M88.0 272.0h1M97.0 273.5h1M96.5 275.3h1M87.7 269.3h1M101.6 271.1h1M83.5 280.4h1M88.0 269.3h1M98.8 268.5h1M87.8 277.2h1M88.1 283.0h1M93.6 283.7h1M93.8 273.2h1M89.2 272.1h1M90.0 272.9h1M97.6 267.9h1M87.5 264.6h1M102.0 272.7h1M92.9 272.8h1M99.0 274.3h1M98.1 272.3h1M92.3 272.8h1M81.8 277.4h1M83.5 269.0h1M97.0 273.2h1M97.9 279.8h1M104.2 278.5h1M91.6 281.2h1M87.7 272.7h1M99.0 272.1h1M92.3 271.6h1M101.2 263.1h1M100.6 277.2h1M92.6 275.2h1M87.2 277.4h1M111.4 269.3h1M101.4 272.8h1M91.0 271.1h1M91.9 268.0h1M84.9 279.6h1M92.9 275.2h1M94.9 274.9h1M83.8 269.2h1M96.8 277.0h1M86.1 270.7h1M86.6 275.6h1M95.1 273.1h1M89.1 274.4h1M93.2 270.0h1M95.0 270.3h1M98.7 275.5h1M88.9 275.3h1M93.4 270.2h1M87.5 266.3h1M86.2 274.4h1M100.2 270.5h1M94.0 274.4h1M97.7 274.8h1M100.4 276.1h1M88.4 274.6h1M78.9 272.3h1M93.1 275.3h1M91.2 276.3h1M100.9 269.6h1M89.7 274.0h1M95.9 273.6h1M98.0 268.3h1M97.7 277.7h1M99.7 274.7h1M91.6 274.6h1M92.6 266.7h1M89.4 272.8h1M89.9 269.3h1M91.6 271.5h1M93.4 272.8h1M94.0 277.0h1M93.8 274.6h1M85.7 261.2h1M90.6 275.7h1M91.0 270.5h1M85.6 276.6h1M89.8 274.0h1M99.8 275.1h1M106.5 272.5h1M98.7 275.8h1M89.1 273.2h1M89.6 268.9h1M94.8 269.9h1M103.1 270.0h1M89.7 273.4h1M89.9 273.2h1M89.4 267.3h1M78.5 267.8h1M102.1 274.8h1M93.9 271.1h1M92.1 274.2h1M84.7 269.8h1M87.7 278.0h1M86.7 277.7h1M90.2 283.9h1M92.5 273.1h1M101.1 276.5h1M98.6 268.7h1M99.8 279.7h1M92.4 271.1h1M86.5 277.1h1M94.8 273.0h1M85.6 279.5h1M98.3 272.9h1M101.9 269.2h1M98.3 269.0h1M101.5 271.9h1M100.3 271.3h1M95.4 277.6h1M87.6 273.4h1M88.0 276.4h1M89.4 271.5h1M91.8 277.7h1M86.8 272.9h1M91.0 270.8h1M88.3 272.4h1M94.2 266.8h1M94.4 268.3h1M93.1 282.1h1M87.2 272.7h1M91.5 276.9h1M90.2 265.9h1M83.3 273.7h1M94.5 277.3h1M89.8 275.7h1M86.6 278.2h1M92.6 270.3h1M94.1 280.0h1M87.9 268.0h1M86.9 268.4h1M92.7 274.4h1M92.0 273.8h1M100.1 271.8h1M85.5 263.9h1M94.5 270.3h1M91.5 274.6h1M95.8 266.7h1M87.3 273.3h1M92.1 277.6h1M90.0 264.7h1M100.0 266.5h1M87.2 274.6h1M86.6 283.0h1M94.4 275.1h1M90.4 281.9h1M96.2 270.1h1M100.5 266.2h1M89.5 274.2h1M93.8 269.2h1M102.5 278.9h1M87.4 274.5h1M89.2 271.3h1M98.9 273.5h1M92.3 273.4h1M86.0 277.9h1M88.5 278.2h1M90.3 271.2h1M101.9 273.8h1M89.2 270.9h1M96.6 280.5h1M96.7 271.4h1M86.3 270.3h1M92.3 274.0h1M89.1 278.1h1M87.3 270.1h1M96.0 274.9h1M90.7 276.8h1M84.6 279.5h1M106.1 280.8h1M93.7 280.9h1M93.3 278.3h1M91.8 273.8h1M96.1 266.0h1M91.8 279.9h1M75.5 274.5h1M98.5 274.3h1M94.2 278.5h1M95.0 265.4h1M87.3 271.8h1M93.9 271.2h1M92.4 279.7h1M75.4 277.6h1M98.6 275.4h1M93.1 273.3h1M95.2 274.0h1M88.7 276.1h1M88.0 272.8h1M90.9 268.4h1M96.6 272.7h1M86.0 272.7h1M84.7 278.7h1M96.1 280.9h1M89.6 275.8h1M87.2 269.6h1M92.5 274.6h1M98.5 271.9h1M99.6 276.9h1M87.8 272.3h1M87.5 279.8h1M89.7 276.5h1M98.5 272.0h1M90.1 274.4h1M88.4 268.0h1M87.2 274.4h1M94.1 280.0h1M82.1 275.0h1M86.1 277.6h1M97.2 273.5h1M101.8 271.5h1M89.8 268.8h1M89.1 273.5h1M97.0 278.1h1M91.4 270.1h1M91.0 271.3h1M90.2 271.4h1M87.8 272.8h1M89.9 272.3h1M84.7 273.6h1M96.4 275.6h1M89.7 268.5h1M85.2 268.3h1M89.2 271.8h1M82.4 275.7h1M83.8 270.3h1M88.7 276.3h1M104.0 271.6h1M91.4 271.4h1M91.8 272.3h1M107.7 268.7h1M92.4 269.9h1M95.1 270.9h1M96.4 268.7h1M105.6 273.8h1M82.5 275.8h1M90.2 268.4h1M95.6 271.0h1M97.4 270.8h1M98.4 273.6h1M95.1 273.6h1M90.8 271.6h1M78.2 291.5h1M74.0 299.1h1M84.4 282.3h1M81.4 287.7h1M77.2 284.1h1M84.2 283.9h1M75.6 284.4h1M85.6 294.2h1M69.5 285.8h1M77.8 285.9h1M74.3 282.7h1M77.2 282.6h1M80.1 299.8h1M74.4 296.1h1M77.8 284.7h1M74.3 283.3h1M76.6 291.5h1M80.6 286.6h1M70.1 287.6h1M84.3 289.4h1M75.7 277.8h1M73.9 290.7h1M71.3 294.6h1M73.2 283.7h1M73.1 287.6h1M80.9 285.2h1M67.2 287.6h1M78.6 295.6h1M70.5 295.3h1M79.3 290.2h1M72.2 283.7h1M71.3 292.6h1M77.1 293.3h1M85.0 288.1h1M75.8 297.4h1M69.6 285.8h1M74.2 286.2h1M76.7 283.9h1M81.7 281.3h1M72.0 279.7h1M69.1 290.9h1M79.1 287.1h1M80.2 291.0h1M73.2 287.8h1M77.8 297.9h1M73.8 289.8h1M78.7 294.0h1M78.1 293.3h1M70.8 286.7h1M66.5 287.8h1M87.5 289.2h1M76.4 289.3h1M76.7 281.5h1M72.6 287.2h1M76.8 283.8h1M75.5 284.4h1M69.5 284.8h1M72.0 292.1h1M82.6 290.9h1M75.0 285.3h1M68.3 285.5h1M83.7 293.7h1M77.1 286.8h1M76.0 290.1h1M76.0 290.1h1M72.2 288.3h1M74.3 293.3h1M69.9 294.4h1M75.6 285.6h1M76.1 288.6h1M74.9 290.1h1M73.2 279.8h1M79.4 287.9h1M84.2 289.9h1M66.2 294.1h1M72.6 290.7h1M86.9 293.4h1M70.6 287.6h1M68.1 291.3h1M78.8 283.0h1M78.2 292.6h1M80.0 284.8h1M72.6 282.6h1M69.7 289.6h1M76.2 294.4h1M77.3 286.5h1M69.0 295.6h1M76.8 287.9h1M71.1 282.9h1M79.1 283.3h1M78.9 291.1h1M74.1 280.1h1M78.0 294.9h1M72.0 281.9h1M81.3 288.7h1M72.9 294.0h1M74.6 290.2h1M74.0 284.4h1M77.1 283.9h1M67.3 285.4h1M81.3 307.6h1M86.8 306.8h1M83.5 301.0h1M71.4 302.7h1M68.4 304.8h1M71.4 301.1h1M69.0 298.0h1M79.8 297.4h1M70.0 301.3h1M79.2 297.6h1M67.1 287.0h1M66.1 307.3h1M73.5 302.8h1M80.3 301.3h1M76.8 295.2h1M64.5 304.0h1M73.4 303.5h1M67.7 298.0h1M85.9 292.6h1M74.6 309.2h1M72.6 300.1h1M61.5 305.1h1M71.4 309.0h1M73.5 296.2h1M76.6 297.2h1M71.0 311.0h1M79.8 299.9h1M78.8 305.5h1M77.4 299.5h1M74.4 302.2h1M77.3 301.8h1M70.8 298.5h1M76.7 291.5h1M73.9 304.9h1M75.0 296.9h1M73.9 295.4h1M79.8 296.2h1M64.2 289.8h1M75.8 300.7h1M71.2 289.0h1M73.1 292.7h1M70.1 299.1h1M69.5 301.5h1M69.7 295.5h1M72.7 310.3h1M83.3 306.4h1M69.7 299.2h1M79.4 305.3h1M64.4 298.7h1M69.7 304.9h1M71.6 255.0h1M84.9 256.5h1M87.5 257.1h1M65.3 269.0h1M61.4 255.4h1M79.0 257.9h1M70.2 250.9h1M81.8 263.7h1M69.1 262.1h1M61.6 255.4h1M52.2 260.2h1M76.9 263.0h1M74.1 262.2h1M57.9 250.6h1M71.6 259.0h1M74.7 256.5h1M58.2 260.6h1M61.1 248.7h1M60.6 253.1h1M56.2 254.9h1" stroke="#1e1e1e" stroke-width="1" fill="none" opacity="0.9"/>
<ellipse cx="77" cy="273.0" rx="12.5" ry="7" fill="#111"/>
<ellipse cx="87" cy="273.0" rx="6" ry="5" fill="#111"/>
<ellipse cx="70" cy="276.0" rx="6" ry="4.5" fill="#111"/>
<text x="77.80" y="240.50" font-size="5.2" text-anchor="middle" fill="#d89868" color="#d89868" font-weight="normal" >&#8805;5</text>
<text x="84.40" y="240.50" font-size="5.6" text-anchor="middle" fill="#5a4040" color="#5a4040" font-weight="bold" >I5</text>
<text x="90.60" y="240.50" font-size="5.6" text-anchor="middle" fill="#4a2a38" color="#4a2a38" font-weight="bold" >I4</text>
<text x="94.80" y="240.50" font-size="5.6" text-anchor="middle" fill="#4a2a38" color="#4a2a38" font-weight="bold" >I3</text>
<text x="101.60" y="240.50" font-size="5.6" text-anchor="middle" fill="#6a4050" color="#6a4050" font-weight="bold" >I2</text>
<text x="109.40" y="240.50" font-size="5.6" text-anchor="middle" fill="#222" color="#222" font-weight="bold" >I1</text>
<text x="115.20" y="240.50" font-size="5.6" text-anchor="middle" fill="#111" color="#111" font-weight="bold" >I0</text>
<rect x="48.00" y="235.20" width="79.30" height="81.10" fill="none" stroke="#111" stroke-width="1.15" />
<line x1="46.50" y1="243.20" x2="48.00" y2="243.20" stroke="#333" stroke-width="0.8" />
<line x1="46.50" y1="257.70" x2="48.00" y2="257.70" stroke="#333" stroke-width="0.8" />
<line x1="46.50" y1="272.20" x2="48.00" y2="272.20" stroke="#333" stroke-width="0.8" />
<line x1="46.50" y1="286.70" x2="48.00" y2="286.70" stroke="#333" stroke-width="0.8" />
<line x1="46.50" y1="301.20" x2="48.00" y2="301.20" stroke="#333" stroke-width="0.8" />
<line x1="46.50" y1="315.70" x2="48.00" y2="315.70" stroke="#333" stroke-width="0.8" />
<line x1="50.00" y1="316.30" x2="50.00" y2="318.30" stroke="#333" stroke-width="0.7" />
<line x1="54.97" y1="316.30" x2="54.97" y2="317.50" stroke="#333" stroke-width="0.7" />
<line x1="57.87" y1="316.30" x2="57.87" y2="317.50" stroke="#333" stroke-width="0.7" />
<line x1="59.93" y1="316.30" x2="59.93" y2="317.50" stroke="#333" stroke-width="0.7" />
<line x1="61.53" y1="316.30" x2="61.53" y2="317.50" stroke="#333" stroke-width="0.7" />
<line x1="62.84" y1="316.30" x2="62.84" y2="317.50" stroke="#333" stroke-width="0.7" />
<line x1="63.94" y1="316.30" x2="63.94" y2="317.50" stroke="#333" stroke-width="0.7" />
<line x1="64.90" y1="316.30" x2="64.90" y2="317.50" stroke="#333" stroke-width="0.7" />
<line x1="65.75" y1="316.30" x2="65.75" y2="317.50" stroke="#333" stroke-width="0.7" />
<line x1="66.50" y1="316.30" x2="66.50" y2="318.30" stroke="#333" stroke-width="0.7" />
<line x1="71.47" y1="316.30" x2="71.47" y2="317.50" stroke="#333" stroke-width="0.7" />
<line x1="74.37" y1="316.30" x2="74.37" y2="317.50" stroke="#333" stroke-width="0.7" />
<line x1="76.43" y1="316.30" x2="76.43" y2="317.50" stroke="#333" stroke-width="0.7" />
<line x1="78.03" y1="316.30" x2="78.03" y2="317.50" stroke="#333" stroke-width="0.7" />
<line x1="79.34" y1="316.30" x2="79.34" y2="317.50" stroke="#333" stroke-width="0.7" />
<line x1="80.44" y1="316.30" x2="80.44" y2="317.50" stroke="#333" stroke-width="0.7" />
<line x1="81.40" y1="316.30" x2="81.40" y2="317.50" stroke="#333" stroke-width="0.7" />
<line x1="82.25" y1="316.30" x2="82.25" y2="317.50" stroke="#333" stroke-width="0.7" />
<line x1="83.00" y1="316.30" x2="83.00" y2="318.30" stroke="#333" stroke-width="0.7" />
<line x1="87.97" y1="316.30" x2="87.97" y2="317.50" stroke="#333" stroke-width="0.7" />
<line x1="90.87" y1="316.30" x2="90.87" y2="317.50" stroke="#333" stroke-width="0.7" />
<line x1="92.93" y1="316.30" x2="92.93" y2="317.50" stroke="#333" stroke-width="0.7" />
<line x1="94.53" y1="316.30" x2="94.53" y2="317.50" stroke="#333" stroke-width="0.7" />
<line x1="95.84" y1="316.30" x2="95.84" y2="317.50" stroke="#333" stroke-width="0.7" />
<line x1="96.94" y1="316.30" x2="96.94" y2="317.50" stroke="#333" stroke-width="0.7" />
<line x1="97.90" y1="316.30" x2="97.90" y2="317.50" stroke="#333" stroke-width="0.7" />
<line x1="98.75" y1="316.30" x2="98.75" y2="317.50" stroke="#333" stroke-width="0.7" />
<line x1="99.50" y1="316.30" x2="99.50" y2="318.30" stroke="#333" stroke-width="0.7" />
<line x1="104.47" y1="316.30" x2="104.47" y2="317.50" stroke="#333" stroke-width="0.7" />
<line x1="107.37" y1="316.30" x2="107.37" y2="317.50" stroke="#333" stroke-width="0.7" />
<line x1="109.43" y1="316.30" x2="109.43" y2="317.50" stroke="#333" stroke-width="0.7" />
<line x1="111.03" y1="316.30" x2="111.03" y2="317.50" stroke="#333" stroke-width="0.7" />
<line x1="112.34" y1="316.30" x2="112.34" y2="317.50" stroke="#333" stroke-width="0.7" />
<line x1="113.44" y1="316.30" x2="113.44" y2="317.50" stroke="#333" stroke-width="0.7" />
<line x1="114.40" y1="316.30" x2="114.40" y2="317.50" stroke="#333" stroke-width="0.7" />
<line x1="115.25" y1="316.30" x2="115.25" y2="317.50" stroke="#333" stroke-width="0.7" />
<line x1="116.00" y1="316.30" x2="116.00" y2="318.30" stroke="#333" stroke-width="0.7" />
<line x1="120.97" y1="316.30" x2="120.97" y2="317.50" stroke="#333" stroke-width="0.7" />
<line x1="123.87" y1="316.30" x2="123.87" y2="317.50" stroke="#333" stroke-width="0.7" />
<line x1="125.93" y1="316.30" x2="125.93" y2="317.50" stroke="#333" stroke-width="0.7" />
<text transform="translate(43.0,305.5) rotate(-90)" font-size="7.6" text-anchor="middle" fill="#1a1a1a" color="#1a1a1a">Mpl</text>
<text x="48.90" y="327.30" font-size="7.6" text-anchor="start" fill="#1a1a1a" color="#1a1a1a" font-weight="normal" >CFSE</text>
<text transform="translate(148.70,17.00) scale(0.88,1)" font-size="14.2" font-weight="bold" fill="#000" color="#000">B</text>
<text x="283.60" y="36.80" font-size="9.1" text-anchor="middle" fill="#1a1a1a" color="#1a1a1a" font-weight="normal" >PBS</text>
<line x1="176.50" y1="40.30" x2="391.00" y2="40.30" stroke="#262626" stroke-width="1.3" />
<text x="203.45" y="48.30" font-size="6.9" text-anchor="middle" fill="#7a3a44" color="#7a3a44" font-weight="normal" >0-1x divided</text>
<line x1="176.50" y1="50.80" x2="230.40" y2="50.80" stroke="#262626" stroke-width="1.3" />
<line x1="175.60" y1="55.80" x2="175.60" y2="110.10" stroke="#111" stroke-width="1.2" />
<line x1="175.00" y1="109.50" x2="230.60" y2="109.50" stroke="#111" stroke-width="1.2" />
<line x1="172.40" y1="109.50" x2="175.60" y2="109.50" stroke="#111" stroke-width="0.9" />
<text x="170.70" y="112.40" font-size="7.8" text-anchor="end" fill="#1a1a1a" color="#1a1a1a" font-weight="normal" >0</text>
<line x1="172.40" y1="96.62" x2="175.60" y2="96.62" stroke="#111" stroke-width="0.9" />
<text x="170.70" y="99.53" font-size="7.8" text-anchor="end" fill="#1a1a1a" color="#1a1a1a" font-weight="normal" >20</text>
<line x1="172.40" y1="83.75" x2="175.60" y2="83.75" stroke="#111" stroke-width="0.9" />
<text x="170.70" y="86.65" font-size="7.8" text-anchor="end" fill="#1a1a1a" color="#1a1a1a" font-weight="normal" >40</text>
<line x1="172.40" y1="70.88" x2="175.60" y2="70.88" stroke="#111" stroke-width="0.9" />
<text x="170.70" y="73.78" font-size="7.8" text-anchor="end" fill="#1a1a1a" color="#1a1a1a" font-weight="normal" >60</text>
<line x1="172.40" y1="58.00" x2="175.60" y2="58.00" stroke="#111" stroke-width="0.9" />
<text x="170.70" y="60.90" font-size="7.8" text-anchor="end" fill="#1a1a1a" color="#1a1a1a" font-weight="normal" >80</text>
<line x1="175.60" y1="109.50" x2="175.60" y2="111.50" stroke="#111" stroke-width="0.9" />
<text x="175.60" y="120.40" font-size="7.6" text-anchor="middle" fill="#1a1a1a" color="#1a1a1a" font-weight="normal" >0</text>
<line x1="187.50" y1="109.50" x2="187.50" y2="111.50" stroke="#111" stroke-width="0.9" />
<text x="187.50" y="120.40" font-size="7.6" text-anchor="middle" fill="#1a1a1a" color="#1a1a1a" font-weight="normal" >1</text>
<line x1="199.40" y1="109.50" x2="199.40" y2="111.50" stroke="#111" stroke-width="0.9" />
<text x="199.40" y="120.40" font-size="7.6" text-anchor="middle" fill="#1a1a1a" color="#1a1a1a" font-weight="normal" >2</text>
<line x1="211.30" y1="109.50" x2="211.30" y2="111.50" stroke="#111" stroke-width="0.9" />
<text x="211.30" y="120.40" font-size="7.6" text-anchor="middle" fill="#1a1a1a" color="#1a1a1a" font-weight="normal" >3</text>
<line x1="223.20" y1="109.50" x2="223.20" y2="111.50" stroke="#111" stroke-width="0.9" />
<text x="223.20" y="120.40" font-size="7.6" text-anchor="middle" fill="#1a1a1a" color="#1a1a1a" font-weight="normal" >4</text>
<path d="M187.50 106.28 L199.40 103.71 L223.20 103.06" stroke="#d07a80" stroke-width="1.3" fill="none"/>
<circle cx="187.50" cy="106.28" r="1.05" fill="#d07a80"/>
<circle cx="199.40" cy="103.71" r="1.05" fill="#d07a80"/>
<circle cx="223.20" cy="103.06" r="1.05" fill="#d07a80"/>
<path d="M187.50 105.64 L199.40 104.35 L223.20 101.78" stroke="#d07a80" stroke-width="1.3" fill="none"/>
<circle cx="187.50" cy="105.64" r="1.05" fill="#d07a80"/>
<circle cx="199.40" cy="104.35" r="1.05" fill="#d07a80"/>
<circle cx="223.20" cy="101.78" r="1.05" fill="#d07a80"/>
<path d="M187.50 69.59 L199.40 83.75 L223.20 86.97" stroke="#111" stroke-width="1.05" fill="none"/>
<circle cx="187.50" cy="69.59" r="1.05" fill="#111"/>
<circle cx="199.40" cy="83.75" r="1.05" fill="#111"/>
<circle cx="223.20" cy="86.97" r="1.05" fill="#111"/>
<path d="M187.50 106.92 L199.40 95.34 L223.20 62.51" stroke="#111" stroke-width="1.05" fill="none"/>
<circle cx="187.50" cy="106.92" r="1.05" fill="#111"/>
<circle cx="199.40" cy="95.34" r="1.05" fill="#111"/>
<circle cx="223.20" cy="62.51" r="1.05" fill="#111"/>
<path d="M187.50 89.54 L199.40 75.38 L223.20 70.23" stroke="#111" stroke-width="1.05" fill="none"/>
<circle cx="187.50" cy="89.54" r="1.05" fill="#111"/>
<circle cx="199.40" cy="75.38" r="1.05" fill="#111"/>
<circle cx="223.20" cy="70.23" r="1.05" fill="#111"/>
<path d="M187.50 86.97 L199.40 90.19 L223.20 77.31" stroke="#111" stroke-width="1.05" fill="none"/>
<circle cx="187.50" cy="86.97" r="1.05" fill="#111"/>
<circle cx="199.40" cy="90.19" r="1.05" fill="#111"/>
<circle cx="223.20" cy="77.31" r="1.05" fill="#111"/>
<path d="M187.50 88.26 L199.40 96.62 L223.20 82.46" stroke="#111" stroke-width="1.05" fill="none"/>
<circle cx="187.50" cy="88.26" r="1.05" fill="#111"/>
<circle cx="199.40" cy="96.62" r="1.05" fill="#111"/>
<circle cx="223.20" cy="82.46" r="1.05" fill="#111"/>
<path d="M187.50 91.47 L199.40 93.41 L223.20 81.82" stroke="#111" stroke-width="1.05" fill="none"/>
<circle cx="187.50" cy="91.47" r="1.05" fill="#111"/>
<circle cx="199.40" cy="93.41" r="1.05" fill="#111"/>
<circle cx="223.20" cy="81.82" r="1.05" fill="#111"/>
<path d="M187.50 95.34 L199.40 97.91 L223.20 83.75" stroke="#111" stroke-width="1.05" fill="none"/>
<circle cx="187.50" cy="95.34" r="1.05" fill="#111"/>
<circle cx="199.40" cy="97.91" r="1.05" fill="#111"/>
<circle cx="223.20" cy="83.75" r="1.05" fill="#111"/>
<path d="M187.50 90.19 L199.40 92.12 L223.20 93.41" stroke="#111" stroke-width="1.05" fill="none"/>
<circle cx="187.50" cy="90.19" r="1.05" fill="#111"/>
<circle cx="199.40" cy="92.12" r="1.05" fill="#111"/>
<circle cx="223.20" cy="93.41" r="1.05" fill="#111"/>
<path d="M187.50 92.76 L199.40 94.69 L223.20 95.34" stroke="#111" stroke-width="1.05" fill="none"/>
<circle cx="187.50" cy="92.76" r="1.05" fill="#111"/>
<circle cx="199.40" cy="94.69" r="1.05" fill="#111"/>
<circle cx="223.20" cy="95.34" r="1.05" fill="#111"/>
<path d="M187.50 95.98 L199.40 95.98 L223.20 97.27" stroke="#111" stroke-width="1.05" fill="none"/>
<circle cx="187.50" cy="95.98" r="1.05" fill="#111"/>
<circle cx="199.40" cy="95.98" r="1.05" fill="#111"/>
<circle cx="223.20" cy="97.27" r="1.05" fill="#111"/>
<path d="M187.50 99.20 L199.40 98.56 L223.20 94.05" stroke="#111" stroke-width="1.05" fill="none"/>
<circle cx="187.50" cy="99.20" r="1.05" fill="#111"/>
<circle cx="199.40" cy="98.56" r="1.05" fill="#111"/>
<circle cx="223.20" cy="94.05" r="1.05" fill="#111"/>
<path d="M187.50 101.13 L199.40 99.84 L223.20 96.62" stroke="#111" stroke-width="1.05" fill="none"/>
<circle cx="187.50" cy="101.13" r="1.05" fill="#111"/>
<circle cx="199.40" cy="99.84" r="1.05" fill="#111"/>
<circle cx="223.20" cy="96.62" r="1.05" fill="#111"/>
<path d="M187.50 106.28 L199.40 105.64 L223.20 104.35" stroke="#111" stroke-width="1.05" fill="none"/>
<circle cx="187.50" cy="106.28" r="1.05" fill="#111"/>
<circle cx="199.40" cy="105.64" r="1.05" fill="#111"/>
<circle cx="223.20" cy="104.35" r="1.05" fill="#111"/>
<path d="M187.50 108.86 L199.40 108.86 L223.20 108.86" stroke="#111" stroke-width="1.05" fill="none"/>
<circle cx="187.50" cy="108.86" r="1.05" fill="#111"/>
<circle cx="199.40" cy="108.86" r="1.05" fill="#111"/>
<circle cx="223.20" cy="108.86" r="1.05" fill="#111"/>
<path d="M187.50 87.61 L199.40 86.97 L223.20 87.61" stroke="#111" stroke-width="1.05" fill="none"/>
<circle cx="187.50" cy="87.61" r="1.05" fill="#111"/>
<circle cx="199.40" cy="86.97" r="1.05" fill="#111"/>
<circle cx="223.20" cy="87.61" r="1.05" fill="#111"/>
<path d="M187.50 97.91 L199.40 97.27 L223.20 87.61" stroke="#111" stroke-width="1.05" fill="none"/>
<circle cx="187.50" cy="97.91" r="1.05" fill="#111"/>
<circle cx="199.40" cy="97.27" r="1.05" fill="#111"/>
<circle cx="223.20" cy="87.61" r="1.05" fill="#111"/>
<text x="228.30" y="58.30" font-size="6.9" text-anchor="end" fill="#1a1a1a" color="#1a1a1a" font-weight="normal" >n = 18/21</text>
<text x="282.15" y="48.30" font-size="6.9" text-anchor="middle" fill="#c48da2" color="#c48da2" font-weight="normal" >2-4x divided</text>
<line x1="255.60" y1="50.80" x2="308.70" y2="50.80" stroke="#262626" stroke-width="1.3" />
<line x1="254.30" y1="55.80" x2="254.30" y2="110.10" stroke="#111" stroke-width="1.2" />
<line x1="253.70" y1="109.50" x2="309.30" y2="109.50" stroke="#111" stroke-width="1.2" />
<line x1="251.10" y1="109.50" x2="254.30" y2="109.50" stroke="#111" stroke-width="0.9" />
<text x="249.40" y="112.40" font-size="7.8" text-anchor="end" fill="#1a1a1a" color="#1a1a1a" font-weight="normal" >0</text>
<line x1="251.10" y1="96.62" x2="254.30" y2="96.62" stroke="#111" stroke-width="0.9" />
<text x="249.40" y="99.53" font-size="7.8" text-anchor="end" fill="#1a1a1a" color="#1a1a1a" font-weight="normal" >20</text>
<line x1="251.10" y1="83.75" x2="254.30" y2="83.75" stroke="#111" stroke-width="0.9" />
<text x="249.40" y="86.65" font-size="7.8" text-anchor="end" fill="#1a1a1a" color="#1a1a1a" font-weight="normal" >40</text>
<line x1="251.10" y1="70.88" x2="254.30" y2="70.88" stroke="#111" stroke-width="0.9" />
<text x="249.40" y="73.78" font-size="7.8" text-anchor="end" fill="#1a1a1a" color="#1a1a1a" font-weight="normal" >60</text>
<line x1="251.10" y1="58.00" x2="254.30" y2="58.00" stroke="#111" stroke-width="0.9" />
<text x="249.40" y="60.90" font-size="7.8" text-anchor="end" fill="#1a1a1a" color="#1a1a1a" font-weight="normal" >80</text>
<line x1="254.30" y1="109.50" x2="254.30" y2="111.50" stroke="#111" stroke-width="0.9" />
<text x="254.30" y="120.40" font-size="7.6" text-anchor="middle" fill="#1a1a1a" color="#1a1a1a" font-weight="normal" >0</text>
<line x1="266.20" y1="109.50" x2="266.20" y2="111.50" stroke="#111" stroke-width="0.9" />
<text x="266.20" y="120.40" font-size="7.6" text-anchor="middle" fill="#1a1a1a" color="#1a1a1a" font-weight="normal" >1</text>
<line x1="278.10" y1="109.50" x2="278.10" y2="111.50" stroke="#111" stroke-width="0.9" />
<text x="278.10" y="120.40" font-size="7.6" text-anchor="middle" fill="#1a1a1a" color="#1a1a1a" font-weight="normal" >2</text>
<line x1="290.00" y1="109.50" x2="290.00" y2="111.50" stroke="#111" stroke-width="0.9" />
<text x="290.00" y="120.40" font-size="7.6" text-anchor="middle" fill="#1a1a1a" color="#1a1a1a" font-weight="normal" >3</text>
<line x1="301.90" y1="109.50" x2="301.90" y2="111.50" stroke="#111" stroke-width="0.9" />
<text x="301.90" y="120.40" font-size="7.6" text-anchor="middle" fill="#1a1a1a" color="#1a1a1a" font-weight="normal" >4</text>
<path d="M266.20 90.83 L278.10 95.34 L301.90 108.86" stroke="#111" stroke-width="1.05" fill="none"/>
<circle cx="266.20" cy="90.83" r="1.05" fill="#111"/>
<circle cx="278.10" cy="95.34" r="1.05" fill="#111"/>
<circle cx="301.90" cy="108.86" r="1.05" fill="#111"/>
<path d="M266.20 104.35 L278.10 104.35 L301.90 108.86" stroke="#111" stroke-width="1.05" fill="none"/>
<circle cx="266.20" cy="104.35" r="1.05" fill="#111"/>
<circle cx="278.10" cy="104.35" r="1.05" fill="#111"/>
<circle cx="301.90" cy="108.86" r="1.05" fill="#111"/>
<path d="M266.20 105.64 L278.10 107.57 L301.90 109.50" stroke="#111" stroke-width="1.05" fill="none"/>
<circle cx="266.20" cy="105.64" r="1.05" fill="#111"/>
<circle cx="278.10" cy="107.57" r="1.05" fill="#111"/>
<circle cx="301.90" cy="109.50" r="1.05" fill="#111"/>
<path d="M266.20 106.92 L278.10 106.28 L301.90 108.86" stroke="#111" stroke-width="1.05" fill="none"/>
<circle cx="266.20" cy="106.92" r="1.05" fill="#111"/>
<circle cx="278.10" cy="106.28" r="1.05" fill="#111"/>
<circle cx="301.90" cy="108.86" r="1.05" fill="#111"/>
<path d="M266.20 108.21 L278.10 108.86 L301.90 109.50" stroke="#111" stroke-width="1.05" fill="none"/>
<circle cx="266.20" cy="108.21" r="1.05" fill="#111"/>
<circle cx="278.10" cy="108.86" r="1.05" fill="#111"/>
<circle cx="301.90" cy="109.50" r="1.05" fill="#111"/>
<path d="M266.20 108.86 L278.10 109.50 L301.90 109.50" stroke="#111" stroke-width="1.05" fill="none"/>
<circle cx="266.20" cy="108.86" r="1.05" fill="#111"/>
<circle cx="278.10" cy="109.50" r="1.05" fill="#111"/>
<circle cx="301.90" cy="109.50" r="1.05" fill="#111"/>
<text x="307.60" y="59.80" font-size="6.9" text-anchor="end" fill="#1a1a1a" color="#1a1a1a" font-weight="normal" >n = 6/18</text>
<text x="364.60" y="48.30" font-size="6.9" text-anchor="middle" fill="#c9a06e" color="#c9a06e" font-weight="normal" >&gt; 5x divided</text>
<line x1="338.20" y1="50.80" x2="391.00" y2="50.80" stroke="#262626" stroke-width="1.3" />
<line x1="337.20" y1="55.80" x2="337.20" y2="110.10" stroke="#111" stroke-width="1.2" />
<line x1="336.60" y1="109.50" x2="392.20" y2="109.50" stroke="#111" stroke-width="1.2" />
<line x1="334.00" y1="109.50" x2="337.20" y2="109.50" stroke="#111" stroke-width="0.9" />
<text x="332.30" y="112.40" font-size="7.8" text-anchor="end" fill="#1a1a1a" color="#1a1a1a" font-weight="normal" >0</text>
<line x1="334.00" y1="96.62" x2="337.20" y2="96.62" stroke="#111" stroke-width="0.9" />
<text x="332.30" y="99.53" font-size="7.8" text-anchor="end" fill="#1a1a1a" color="#1a1a1a" font-weight="normal" >20</text>
<line x1="334.00" y1="83.75" x2="337.20" y2="83.75" stroke="#111" stroke-width="0.9" />
<text x="332.30" y="86.65" font-size="7.8" text-anchor="end" fill="#1a1a1a" color="#1a1a1a" font-weight="normal" >40</text>
<line x1="334.00" y1="70.88" x2="337.20" y2="70.88" stroke="#111" stroke-width="0.9" />
<text x="332.30" y="73.78" font-size="7.8" text-anchor="end" fill="#1a1a1a" color="#1a1a1a" font-weight="normal" >60</text>
<line x1="334.00" y1="58.00" x2="337.20" y2="58.00" stroke="#111" stroke-width="0.9" />
<text x="332.30" y="60.90" font-size="7.8" text-anchor="end" fill="#1a1a1a" color="#1a1a1a" font-weight="normal" >80</text>
<line x1="337.20" y1="109.50" x2="337.20" y2="111.50" stroke="#111" stroke-width="0.9" />
<text x="337.20" y="120.40" font-size="7.6" text-anchor="middle" fill="#1a1a1a" color="#1a1a1a" font-weight="normal" >0</text>
<line x1="349.10" y1="109.50" x2="349.10" y2="111.50" stroke="#111" stroke-width="0.9" />
<text x="349.10" y="120.40" font-size="7.6" text-anchor="middle" fill="#1a1a1a" color="#1a1a1a" font-weight="normal" >1</text>
<line x1="361.00" y1="109.50" x2="361.00" y2="111.50" stroke="#111" stroke-width="0.9" />
<text x="361.00" y="120.40" font-size="7.6" text-anchor="middle" fill="#1a1a1a" color="#1a1a1a" font-weight="normal" >2</text>
<line x1="372.90" y1="109.50" x2="372.90" y2="111.50" stroke="#111" stroke-width="0.9" />
<text x="372.90" y="120.40" font-size="7.6" text-anchor="middle" fill="#1a1a1a" color="#1a1a1a" font-weight="normal" >3</text>
<line x1="384.80" y1="109.50" x2="384.80" y2="111.50" stroke="#111" stroke-width="0.9" />
<text x="384.80" y="120.40" font-size="7.6" text-anchor="middle" fill="#1a1a1a" color="#1a1a1a" font-weight="normal" >4</text>
<path d="M349.10 109.50" stroke="#111" stroke-width="1.05" fill="none"/>
<circle cx="349.10" cy="109.50" r="1.05" fill="#111"/>
<path d="M361.00 109.50" stroke="#111" stroke-width="1.05" fill="none"/>
<circle cx="361.00" cy="109.50" r="1.05" fill="#111"/>
<path d="M384.80 109.50" stroke="#111" stroke-width="1.05" fill="none"/>
<circle cx="384.80" cy="109.50" r="1.05" fill="#111"/>
<text x="396.90" y="59.80" font-size="6.9" text-anchor="end" fill="#1a1a1a" color="#1a1a1a" font-weight="normal" >n = 0/27</text>
<text x="283.60" y="132.30" font-size="9.1" text-anchor="middle" fill="#1a1a1a" color="#1a1a1a" font-weight="normal" >G-CSF</text>
<line x1="176.50" y1="135.80" x2="391.00" y2="135.80" stroke="#5c5c5c" stroke-width="1.7" />
<text x="203.45" y="143.80" font-size="6.9" text-anchor="middle" fill="#7a3a44" color="#7a3a44" font-weight="normal" >0-1x divided</text>
<line x1="176.50" y1="146.30" x2="230.40" y2="146.30" stroke="#262626" stroke-width="1.3" />
<line x1="175.60" y1="151.30" x2="175.60" y2="205.60" stroke="#111" stroke-width="1.2" />
<line x1="175.00" y1="205.00" x2="230.60" y2="205.00" stroke="#111" stroke-width="1.2" />
<line x1="172.40" y1="205.00" x2="175.60" y2="205.00" stroke="#111" stroke-width="0.9" />
<text x="170.70" y="207.90" font-size="7.8" text-anchor="end" fill="#1a1a1a" color="#1a1a1a" font-weight="normal" >0</text>
<line x1="172.40" y1="192.12" x2="175.60" y2="192.12" stroke="#111" stroke-width="0.9" />
<text x="170.70" y="195.03" font-size="7.8" text-anchor="end" fill="#1a1a1a" color="#1a1a1a" font-weight="normal" >20</text>
<line x1="172.40" y1="179.25" x2="175.60" y2="179.25" stroke="#111" stroke-width="0.9" />
<text x="170.70" y="182.15" font-size="7.8" text-anchor="end" fill="#1a1a1a" color="#1a1a1a" font-weight="normal" >40</text>
<line x1="172.40" y1="166.38" x2="175.60" y2="166.38" stroke="#111" stroke-width="0.9" />
<text x="170.70" y="169.28" font-size="7.8" text-anchor="end" fill="#1a1a1a" color="#1a1a1a" font-weight="normal" >60</text>
<line x1="172.40" y1="153.50" x2="175.60" y2="153.50" stroke="#111" stroke-width="0.9" />
<text x="170.70" y="156.40" font-size="7.8" text-anchor="end" fill="#1a1a1a" color="#1a1a1a" font-weight="normal" >80</text>
<line x1="175.60" y1="205.00" x2="175.60" y2="207.00" stroke="#111" stroke-width="0.9" />
<text x="175.60" y="215.90" font-size="7.6" text-anchor="middle" fill="#1a1a1a" color="#1a1a1a" font-weight="normal" >0</text>
<line x1="187.50" y1="205.00" x2="187.50" y2="207.00" stroke="#111" stroke-width="0.9" />
<text x="187.50" y="215.90" font-size="7.6" text-anchor="middle" fill="#1a1a1a" color="#1a1a1a" font-weight="normal" >1</text>
<line x1="199.40" y1="205.00" x2="199.40" y2="207.00" stroke="#111" stroke-width="0.9" />
<text x="199.40" y="215.90" font-size="7.6" text-anchor="middle" fill="#1a1a1a" color="#1a1a1a" font-weight="normal" >2</text>
<line x1="211.30" y1="205.00" x2="211.30" y2="207.00" stroke="#111" stroke-width="0.9" />
<text x="211.30" y="215.90" font-size="7.6" text-anchor="middle" fill="#1a1a1a" color="#1a1a1a" font-weight="normal" >3</text>
<line x1="223.20" y1="205.00" x2="223.20" y2="207.00" stroke="#111" stroke-width="0.9" />
<text x="223.20" y="215.90" font-size="7.6" text-anchor="middle" fill="#1a1a1a" color="#1a1a1a" font-weight="normal" >4</text>
<path d="M187.50 203.07 L199.40 203.71 L223.20 203.07" stroke="#d07a80" stroke-width="1.3" fill="none"/>
<circle cx="187.50" cy="203.07" r="1.05" fill="#d07a80"/>
<circle cx="199.40" cy="203.71" r="1.05" fill="#d07a80"/>
<circle cx="223.20" cy="203.07" r="1.05" fill="#d07a80"/>
<path d="M187.50 163.80 L199.40 172.81 L223.20 156.07" stroke="#111" stroke-width="1.05" fill="none"/>
<circle cx="187.50" cy="163.80" r="1.05" fill="#111"/>
<circle cx="199.40" cy="172.81" r="1.05" fill="#111"/>
<circle cx="223.20" cy="156.07" r="1.05" fill="#111"/>
<path d="M187.50 165.09 L199.40 174.74 L223.20 161.87" stroke="#111" stroke-width="1.05" fill="none"/>
<circle cx="187.50" cy="165.09" r="1.05" fill="#111"/>
<circle cx="199.40" cy="174.74" r="1.05" fill="#111"/>
<circle cx="223.20" cy="161.87" r="1.05" fill="#111"/>
<path d="M187.50 169.59 L199.40 179.89 L223.20 163.80" stroke="#111" stroke-width="1.05" fill="none"/>
<circle cx="187.50" cy="169.59" r="1.05" fill="#111"/>
<circle cx="199.40" cy="179.89" r="1.05" fill="#111"/>
<circle cx="223.20" cy="163.80" r="1.05" fill="#111"/>
<path d="M187.50 174.74 L199.40 172.17 L223.20 170.88" stroke="#111" stroke-width="1.05" fill="none"/>
<circle cx="187.50" cy="174.74" r="1.05" fill="#111"/>
<circle cx="199.40" cy="172.17" r="1.05" fill="#111"/>
<circle cx="223.20" cy="170.88" r="1.05" fill="#111"/>
<path d="M187.50 176.68 L199.40 176.68 L223.20 174.10" stroke="#111" stroke-width="1.05" fill="none"/>
<circle cx="187.50" cy="176.68" r="1.05" fill="#111"/>
<circle cx="199.40" cy="176.68" r="1.05" fill="#111"/>
<circle cx="223.20" cy="174.10" r="1.05" fill="#111"/>
<path d="M187.50 182.47 L199.40 187.62 L223.20 177.96" stroke="#111" stroke-width="1.05" fill="none"/>
<circle cx="187.50" cy="182.47" r="1.05" fill="#111"/>
<circle cx="199.40" cy="187.62" r="1.05" fill="#111"/>
<circle cx="223.20" cy="177.96" r="1.05" fill="#111"/>
<path d="M187.50 185.69 L199.40 181.82 L223.20 183.11" stroke="#111" stroke-width="1.05" fill="none"/>
<circle cx="187.50" cy="185.69" r="1.05" fill="#111"/>
<circle cx="199.40" cy="181.82" r="1.05" fill="#111"/>
<circle cx="223.20" cy="183.11" r="1.05" fill="#111"/>
<path d="M187.50 189.55 L199.40 189.55 L223.20 185.69" stroke="#111" stroke-width="1.05" fill="none"/>
<circle cx="187.50" cy="189.55" r="1.05" fill="#111"/>
<circle cx="199.40" cy="189.55" r="1.05" fill="#111"/>
<circle cx="223.20" cy="185.69" r="1.05" fill="#111"/>
<path d="M187.50 191.48 L199.40 185.69 L223.20 189.55" stroke="#111" stroke-width="1.05" fill="none"/>
<circle cx="187.50" cy="191.48" r="1.05" fill="#111"/>
<circle cx="199.40" cy="185.69" r="1.05" fill="#111"/>
<circle cx="223.20" cy="189.55" r="1.05" fill="#111"/>
<path d="M187.50 195.34 L199.40 189.55 L223.20 198.56" stroke="#111" stroke-width="1.05" fill="none"/>
<circle cx="187.50" cy="195.34" r="1.05" fill="#111"/>
<circle cx="199.40" cy="189.55" r="1.05" fill="#111"/>
<circle cx="223.20" cy="198.56" r="1.05" fill="#111"/>
<path d="M187.50 197.28 L199.40 191.48 L223.20 191.48" stroke="#111" stroke-width="1.05" fill="none"/>
<circle cx="187.50" cy="197.28" r="1.05" fill="#111"/>
<circle cx="199.40" cy="191.48" r="1.05" fill="#111"/>
<circle cx="223.20" cy="191.48" r="1.05" fill="#111"/>
<path d="M187.50 199.85 L199.40 194.70 L223.20 177.96" stroke="#111" stroke-width="1.05" fill="none"/>
<circle cx="187.50" cy="199.85" r="1.05" fill="#111"/>
<circle cx="199.40" cy="194.70" r="1.05" fill="#111"/>
<circle cx="223.20" cy="177.96" r="1.05" fill="#111"/>
<path d="M187.50 201.14 L199.40 201.14 L223.20 199.85" stroke="#111" stroke-width="1.05" fill="none"/>
<circle cx="187.50" cy="201.14" r="1.05" fill="#111"/>
<circle cx="199.40" cy="201.14" r="1.05" fill="#111"/>
<circle cx="223.20" cy="199.85" r="1.05" fill="#111"/>
<path d="M187.50 203.71 L199.40 203.71 L223.20 203.07" stroke="#111" stroke-width="1.05" fill="none"/>
<circle cx="187.50" cy="203.71" r="1.05" fill="#111"/>
<circle cx="199.40" cy="203.71" r="1.05" fill="#111"/>
<circle cx="223.20" cy="203.07" r="1.05" fill="#111"/>
<path d="M187.50 179.25 L199.40 189.55 L223.20 197.92" stroke="#111" stroke-width="1.05" fill="none"/>
<circle cx="187.50" cy="179.25" r="1.05" fill="#111"/>
<circle cx="199.40" cy="189.55" r="1.05" fill="#111"/>
<circle cx="223.20" cy="197.92" r="1.05" fill="#111"/>
<path d="M187.50 172.81 L199.40 192.12 L223.20 166.38" stroke="#111" stroke-width="1.05" fill="none"/>
<circle cx="187.50" cy="172.81" r="1.05" fill="#111"/>
<circle cx="199.40" cy="192.12" r="1.05" fill="#111"/>
<circle cx="223.20" cy="166.38" r="1.05" fill="#111"/>
<path d="M187.50 193.41 L199.40 180.54 L223.20 192.12" stroke="#111" stroke-width="1.05" fill="none"/>
<circle cx="187.50" cy="193.41" r="1.05" fill="#111"/>
<circle cx="199.40" cy="180.54" r="1.05" fill="#111"/>
<circle cx="223.20" cy="192.12" r="1.05" fill="#111"/>
<path d="M187.50 198.56 L199.40 184.40 L223.20 158.65" stroke="#111" stroke-width="1.05" fill="none"/>
<circle cx="187.50" cy="198.56" r="1.05" fill="#111"/>
<circle cx="199.40" cy="184.40" r="1.05" fill="#111"/>
<circle cx="223.20" cy="158.65" r="1.05" fill="#111"/>
<path d="M187.50 187.62 L199.40 186.97 L223.20 180.54" stroke="#111" stroke-width="1.05" fill="none"/>
<circle cx="187.50" cy="187.62" r="1.05" fill="#111"/>
<circle cx="199.40" cy="186.97" r="1.05" fill="#111"/>
<circle cx="223.20" cy="180.54" r="1.05" fill="#111"/>
<text x="226.30" y="154.80" font-size="6.9" text-anchor="end" fill="#1a1a1a" color="#1a1a1a" font-weight="normal" >n = 20/20</text>
<text x="282.15" y="143.80" font-size="6.9" text-anchor="middle" fill="#c48da2" color="#c48da2" font-weight="normal" >2-4x divided</text>
<line x1="255.60" y1="146.30" x2="308.70" y2="146.30" stroke="#262626" stroke-width="1.3" />
<line x1="254.30" y1="151.30" x2="254.30" y2="205.60" stroke="#111" stroke-width="1.2" />
<line x1="253.70" y1="205.00" x2="309.30" y2="205.00" stroke="#111" stroke-width="1.2" />
<line x1="251.10" y1="205.00" x2="254.30" y2="205.00" stroke="#111" stroke-width="0.9" />
<text x="249.40" y="207.90" font-size="7.8" text-anchor="end" fill="#1a1a1a" color="#1a1a1a" font-weight="normal" >0</text>
<line x1="251.10" y1="192.12" x2="254.30" y2="192.12" stroke="#111" stroke-width="0.9" />
<text x="249.40" y="195.03" font-size="7.8" text-anchor="end" fill="#1a1a1a" color="#1a1a1a" font-weight="normal" >20</text>
<line x1="251.10" y1="179.25" x2="254.30" y2="179.25" stroke="#111" stroke-width="0.9" />
<text x="249.40" y="182.15" font-size="7.8" text-anchor="end" fill="#1a1a1a" color="#1a1a1a" font-weight="normal" >40</text>
<line x1="251.10" y1="166.38" x2="254.30" y2="166.38" stroke="#111" stroke-width="0.9" />
<text x="249.40" y="169.28" font-size="7.8" text-anchor="end" fill="#1a1a1a" color="#1a1a1a" font-weight="normal" >60</text>
<line x1="251.10" y1="153.50" x2="254.30" y2="153.50" stroke="#111" stroke-width="0.9" />
<text x="249.40" y="156.40" font-size="7.8" text-anchor="end" fill="#1a1a1a" color="#1a1a1a" font-weight="normal" >80</text>
<line x1="254.30" y1="205.00" x2="254.30" y2="207.00" stroke="#111" stroke-width="0.9" />
<text x="254.30" y="215.90" font-size="7.6" text-anchor="middle" fill="#1a1a1a" color="#1a1a1a" font-weight="normal" >0</text>
<line x1="266.20" y1="205.00" x2="266.20" y2="207.00" stroke="#111" stroke-width="0.9" />
<text x="266.20" y="215.90" font-size="7.6" text-anchor="middle" fill="#1a1a1a" color="#1a1a1a" font-weight="normal" >1</text>
<line x1="278.10" y1="205.00" x2="278.10" y2="207.00" stroke="#111" stroke-width="0.9" />
<text x="278.10" y="215.90" font-size="7.6" text-anchor="middle" fill="#1a1a1a" color="#1a1a1a" font-weight="normal" >2</text>
<line x1="290.00" y1="205.00" x2="290.00" y2="207.00" stroke="#111" stroke-width="0.9" />
<text x="290.00" y="215.90" font-size="7.6" text-anchor="middle" fill="#1a1a1a" color="#1a1a1a" font-weight="normal" >3</text>
<line x1="301.90" y1="205.00" x2="301.90" y2="207.00" stroke="#111" stroke-width="0.9" />
<text x="301.90" y="215.90" font-size="7.6" text-anchor="middle" fill="#1a1a1a" color="#1a1a1a" font-weight="normal" >4</text>
<path d="M266.20 205.00 L278.10 202.43 L290.00 203.71 L301.90 205.00" stroke="#111" stroke-width="1.05" fill="none"/>
<circle cx="266.20" cy="205.00" r="1.05" fill="#111"/>
<circle cx="278.10" cy="202.43" r="1.05" fill="#111"/>
<circle cx="290.00" cy="203.71" r="1.05" fill="#111"/>
<circle cx="301.90" cy="205.00" r="1.05" fill="#111"/>
<path d="M266.20 205.00 L278.10 203.71 L290.00 204.36 L301.90 205.00" stroke="#111" stroke-width="1.05" fill="none"/>
<circle cx="266.20" cy="205.00" r="1.05" fill="#111"/>
<circle cx="278.10" cy="203.71" r="1.05" fill="#111"/>
<circle cx="290.00" cy="204.36" r="1.05" fill="#111"/>
<circle cx="301.90" cy="205.00" r="1.05" fill="#111"/>
<path d="M266.20 204.36 L278.10 205.00 L301.90 205.00" stroke="#111" stroke-width="1.05" fill="none"/>
<circle cx="266.20" cy="204.36" r="1.05" fill="#111"/>
<circle cx="278.10" cy="205.00" r="1.05" fill="#111"/>
<circle cx="301.90" cy="205.00" r="1.05" fill="#111"/>
<text x="309.40" y="156.00" font-size="6.9" text-anchor="end" fill="#1a1a1a" color="#1a1a1a" font-weight="normal" >n = 2/21</text>
<text x="364.60" y="143.80" font-size="6.9" text-anchor="middle" fill="#c9a06e" color="#c9a06e" font-weight="normal" >&gt; 5x divided</text>
<line x1="338.20" y1="146.30" x2="391.00" y2="146.30" stroke="#262626" stroke-width="1.3" />
<line x1="337.20" y1="151.30" x2="337.20" y2="205.60" stroke="#111" stroke-width="1.2" />
<line x1="336.60" y1="205.00" x2="392.20" y2="205.00" stroke="#111" stroke-width="1.2" />
<line x1="334.00" y1="205.00" x2="337.20" y2="205.00" stroke="#111" stroke-width="0.9" />
<text x="332.30" y="207.90" font-size="7.8" text-anchor="end" fill="#1a1a1a" color="#1a1a1a" font-weight="normal" >0</text>
<line x1="334.00" y1="192.12" x2="337.20" y2="192.12" stroke="#111" stroke-width="0.9" />
<text x="332.30" y="195.03" font-size="7.8" text-anchor="end" fill="#1a1a1a" color="#1a1a1a" font-weight="normal" >20</text>
<line x1="334.00" y1="179.25" x2="337.20" y2="179.25" stroke="#111" stroke-width="0.9" />
<text x="332.30" y="182.15" font-size="7.8" text-anchor="end" fill="#1a1a1a" color="#1a1a1a" font-weight="normal" >40</text>
<line x1="334.00" y1="166.38" x2="337.20" y2="166.38" stroke="#111" stroke-width="0.9" />
<text x="332.30" y="169.28" font-size="7.8" text-anchor="end" fill="#1a1a1a" color="#1a1a1a" font-weight="normal" >60</text>
<line x1="334.00" y1="153.50" x2="337.20" y2="153.50" stroke="#111" stroke-width="0.9" />
<text x="332.30" y="156.40" font-size="7.8" text-anchor="end" fill="#1a1a1a" color="#1a1a1a" font-weight="normal" >80</text>
<line x1="337.20" y1="205.00" x2="337.20" y2="207.00" stroke="#111" stroke-width="0.9" />
<text x="337.20" y="215.90" font-size="7.6" text-anchor="middle" fill="#1a1a1a" color="#1a1a1a" font-weight="normal" >0</text>
<line x1="349.10" y1="205.00" x2="349.10" y2="207.00" stroke="#111" stroke-width="0.9" />
<text x="349.10" y="215.90" font-size="7.6" text-anchor="middle" fill="#1a1a1a" color="#1a1a1a" font-weight="normal" >1</text>
<line x1="361.00" y1="205.00" x2="361.00" y2="207.00" stroke="#111" stroke-width="0.9" />
<text x="361.00" y="215.90" font-size="7.6" text-anchor="middle" fill="#1a1a1a" color="#1a1a1a" font-weight="normal" >2</text>
<line x1="372.90" y1="205.00" x2="372.90" y2="207.00" stroke="#111" stroke-width="0.9" />
<text x="372.90" y="215.90" font-size="7.6" text-anchor="middle" fill="#1a1a1a" color="#1a1a1a" font-weight="normal" >3</text>
<line x1="384.80" y1="205.00" x2="384.80" y2="207.00" stroke="#111" stroke-width="0.9" />
<text x="384.80" y="215.90" font-size="7.6" text-anchor="middle" fill="#1a1a1a" color="#1a1a1a" font-weight="normal" >4</text>
<path d="M349.10 203.07 L361.00 205.00 L384.80 205.00" stroke="#111" stroke-width="1.05" fill="none"/>
<circle cx="349.10" cy="203.07" r="1.05" fill="#111"/>
<circle cx="361.00" cy="205.00" r="1.05" fill="#111"/>
<circle cx="384.80" cy="205.00" r="1.05" fill="#111"/>
<path d="M349.10 204.36 L361.00 205.00 L372.90 205.00 L384.80 205.00" stroke="#111" stroke-width="1.05" fill="none"/>
<circle cx="349.10" cy="204.36" r="1.05" fill="#111"/>
<circle cx="361.00" cy="205.00" r="1.05" fill="#111"/>
<circle cx="372.90" cy="205.00" r="1.05" fill="#111"/>
<circle cx="384.80" cy="205.00" r="1.05" fill="#111"/>
<text x="398.00" y="155.80" font-size="6.9" text-anchor="end" fill="#1a1a1a" color="#1a1a1a" font-weight="normal" >n = 0/35</text>
<text x="281.80" y="228.90" font-size="9.1" text-anchor="middle" fill="#1a1a1a" color="#1a1a1a" font-weight="normal" >Mpl agonist</text>
<line x1="174.70" y1="232.40" x2="389.20" y2="232.40" stroke="#262626" stroke-width="1.3" />
<text x="201.65" y="240.40" font-size="6.9" text-anchor="middle" fill="#7a3a44" color="#7a3a44" font-weight="normal" >0-1x divided</text>
<line x1="174.70" y1="242.90" x2="228.60" y2="242.90" stroke="#262626" stroke-width="1.3" />
<text transform="translate(202.00,287.90) scale(0.92,1)" font-size="10.0" text-anchor="middle" fill="#1a1a1a" color="#1a1a1a">N.A.</text>
<text x="280.35" y="240.40" font-size="6.9" text-anchor="middle" fill="#c48da2" color="#c48da2" font-weight="normal" >2-4x divided</text>
<line x1="253.80" y1="242.90" x2="306.90" y2="242.90" stroke="#262626" stroke-width="1.3" />
<line x1="254.30" y1="249.00" x2="254.30" y2="303.30" stroke="#111" stroke-width="1.2" />
<line x1="253.70" y1="302.70" x2="309.30" y2="302.70" stroke="#111" stroke-width="1.2" />
<line x1="251.10" y1="302.70" x2="254.30" y2="302.70" stroke="#111" stroke-width="0.9" />
<text x="249.40" y="305.60" font-size="7.8" text-anchor="end" fill="#1a1a1a" color="#1a1a1a" font-weight="normal" >0</text>
<line x1="251.10" y1="289.82" x2="254.30" y2="289.82" stroke="#111" stroke-width="0.9" />
<text x="249.40" y="292.72" font-size="7.8" text-anchor="end" fill="#1a1a1a" color="#1a1a1a" font-weight="normal" >20</text>
<line x1="251.10" y1="276.95" x2="254.30" y2="276.95" stroke="#111" stroke-width="0.9" />
<text x="249.40" y="279.85" font-size="7.8" text-anchor="end" fill="#1a1a1a" color="#1a1a1a" font-weight="normal" >40</text>
<line x1="251.10" y1="264.07" x2="254.30" y2="264.07" stroke="#111" stroke-width="0.9" />
<text x="249.40" y="266.97" font-size="7.8" text-anchor="end" fill="#1a1a1a" color="#1a1a1a" font-weight="normal" >60</text>
<line x1="251.10" y1="251.20" x2="254.30" y2="251.20" stroke="#111" stroke-width="0.9" />
<text x="249.40" y="254.10" font-size="7.8" text-anchor="end" fill="#1a1a1a" color="#1a1a1a" font-weight="normal" >80</text>
<line x1="254.30" y1="302.70" x2="254.30" y2="304.70" stroke="#111" stroke-width="0.9" />
<text x="254.30" y="313.60" font-size="7.6" text-anchor="middle" fill="#1a1a1a" color="#1a1a1a" font-weight="normal" >0</text>
<line x1="266.20" y1="302.70" x2="266.20" y2="304.70" stroke="#111" stroke-width="0.9" />
<text x="266.20" y="313.60" font-size="7.6" text-anchor="middle" fill="#1a1a1a" color="#1a1a1a" font-weight="normal" >1</text>
<line x1="278.10" y1="302.70" x2="278.10" y2="304.70" stroke="#111" stroke-width="0.9" />
<text x="278.10" y="313.60" font-size="7.6" text-anchor="middle" fill="#1a1a1a" color="#1a1a1a" font-weight="normal" >2</text>
<line x1="290.00" y1="302.70" x2="290.00" y2="304.70" stroke="#111" stroke-width="0.9" />
<text x="290.00" y="313.60" font-size="7.6" text-anchor="middle" fill="#1a1a1a" color="#1a1a1a" font-weight="normal" >3</text>
<line x1="301.90" y1="302.70" x2="301.90" y2="304.70" stroke="#111" stroke-width="0.9" />
<text x="301.90" y="313.60" font-size="7.6" text-anchor="middle" fill="#1a1a1a" color="#1a1a1a" font-weight="normal" >4</text>
<path d="M266.20 288.54 L278.10 264.07 L301.90 256.35" stroke="#111" stroke-width="1.05" fill="none"/>
<circle cx="266.20" cy="288.54" r="1.05" fill="#111"/>
<circle cx="278.10" cy="264.07" r="1.05" fill="#111"/>
<circle cx="301.90" cy="256.35" r="1.05" fill="#111"/>
<path d="M266.20 286.61 L278.10 273.73 L301.90 257.64" stroke="#111" stroke-width="1.05" fill="none"/>
<circle cx="266.20" cy="286.61" r="1.05" fill="#111"/>
<circle cx="278.10" cy="273.73" r="1.05" fill="#111"/>
<circle cx="301.90" cy="257.64" r="1.05" fill="#111"/>
<path d="M266.20 296.91 L278.10 281.46 L301.90 270.51" stroke="#111" stroke-width="1.05" fill="none"/>
<circle cx="266.20" cy="296.91" r="1.05" fill="#111"/>
<circle cx="278.10" cy="281.46" r="1.05" fill="#111"/>
<circle cx="301.90" cy="270.51" r="1.05" fill="#111"/>
<path d="M266.20 297.55 L278.10 282.10 L301.90 273.09" stroke="#111" stroke-width="1.05" fill="none"/>
<circle cx="266.20" cy="297.55" r="1.05" fill="#111"/>
<circle cx="278.10" cy="282.10" r="1.05" fill="#111"/>
<circle cx="301.90" cy="273.09" r="1.05" fill="#111"/>
<path d="M266.20 298.19 L278.10 283.39 L301.90 274.38" stroke="#111" stroke-width="1.05" fill="none"/>
<circle cx="266.20" cy="298.19" r="1.05" fill="#111"/>
<circle cx="278.10" cy="283.39" r="1.05" fill="#111"/>
<circle cx="301.90" cy="274.38" r="1.05" fill="#111"/>
<path d="M266.20 298.84 L278.10 286.61 L301.90 279.52" stroke="#111" stroke-width="1.05" fill="none"/>
<circle cx="266.20" cy="298.84" r="1.05" fill="#111"/>
<circle cx="278.10" cy="286.61" r="1.05" fill="#111"/>
<circle cx="301.90" cy="279.52" r="1.05" fill="#111"/>
<path d="M266.20 299.48 L278.10 293.04 L301.90 280.81" stroke="#111" stroke-width="1.05" fill="none"/>
<circle cx="266.20" cy="299.48" r="1.05" fill="#111"/>
<circle cx="278.10" cy="293.04" r="1.05" fill="#111"/>
<circle cx="301.90" cy="280.81" r="1.05" fill="#111"/>
<path d="M266.20 300.12 L278.10 289.82 L301.90 283.39" stroke="#111" stroke-width="1.05" fill="none"/>
<circle cx="266.20" cy="300.12" r="1.05" fill="#111"/>
<circle cx="278.10" cy="289.82" r="1.05" fill="#111"/>
<circle cx="301.90" cy="283.39" r="1.05" fill="#111"/>
<path d="M266.20 300.77 L278.10 294.33 L301.90 293.04" stroke="#111" stroke-width="1.05" fill="none"/>
<circle cx="266.20" cy="300.77" r="1.05" fill="#111"/>
<circle cx="278.10" cy="294.33" r="1.05" fill="#111"/>
<circle cx="301.90" cy="293.04" r="1.05" fill="#111"/>
<path d="M266.20 301.41 L278.10 296.26 L301.90 294.33" stroke="#111" stroke-width="1.05" fill="none"/>
<circle cx="266.20" cy="301.41" r="1.05" fill="#111"/>
<circle cx="278.10" cy="296.26" r="1.05" fill="#111"/>
<circle cx="301.90" cy="294.33" r="1.05" fill="#111"/>
<path d="M266.20 302.06 L278.10 299.48 L301.90 293.69" stroke="#111" stroke-width="1.05" fill="none"/>
<circle cx="266.20" cy="302.06" r="1.05" fill="#111"/>
<circle cx="278.10" cy="299.48" r="1.05" fill="#111"/>
<circle cx="301.90" cy="293.69" r="1.05" fill="#111"/>
<path d="M266.20 302.70 L278.10 297.55 L301.90 294.97" stroke="#111" stroke-width="1.05" fill="none"/>
<circle cx="266.20" cy="302.70" r="1.05" fill="#111"/>
<circle cx="278.10" cy="297.55" r="1.05" fill="#111"/>
<circle cx="301.90" cy="294.97" r="1.05" fill="#111"/>
<path d="M266.20 302.06 L278.10 300.77 L301.90 301.41" stroke="#111" stroke-width="1.05" fill="none"/>
<circle cx="266.20" cy="302.06" r="1.05" fill="#111"/>
<circle cx="278.10" cy="300.77" r="1.05" fill="#111"/>
<circle cx="301.90" cy="301.41" r="1.05" fill="#111"/>
<path d="M266.20 302.70 L278.10 302.06 L301.90 302.06" stroke="#111" stroke-width="1.05" fill="none"/>
<circle cx="266.20" cy="302.70" r="1.05" fill="#111"/>
<circle cx="278.10" cy="302.06" r="1.05" fill="#111"/>
<circle cx="301.90" cy="302.06" r="1.05" fill="#111"/>
<path d="M266.20 300.77 L278.10 281.46 L301.90 284.68" stroke="#111" stroke-width="1.05" fill="none"/>
<circle cx="266.20" cy="300.77" r="1.05" fill="#111"/>
<circle cx="278.10" cy="281.46" r="1.05" fill="#111"/>
<circle cx="301.90" cy="284.68" r="1.05" fill="#111"/>
<path d="M266.20 297.55 L278.10 293.69 L301.90 279.52" stroke="#111" stroke-width="1.05" fill="none"/>
<circle cx="266.20" cy="297.55" r="1.05" fill="#111"/>
<circle cx="278.10" cy="293.69" r="1.05" fill="#111"/>
<circle cx="301.90" cy="279.52" r="1.05" fill="#111"/>
<text x="306.30" y="252.00" font-size="6.9" text-anchor="end" fill="#1a1a1a" color="#1a1a1a" font-weight="normal" >n = 19/21</text>
<text x="362.80" y="240.40" font-size="6.9" text-anchor="middle" fill="#c9a06e" color="#c9a06e" font-weight="normal" >&gt; 5x divided</text>
<line x1="336.40" y1="242.90" x2="389.20" y2="242.90" stroke="#262626" stroke-width="1.3" />
<line x1="337.20" y1="249.00" x2="337.20" y2="303.30" stroke="#111" stroke-width="1.2" />
<line x1="336.60" y1="302.70" x2="392.20" y2="302.70" stroke="#111" stroke-width="1.2" />
<line x1="334.00" y1="302.70" x2="337.20" y2="302.70" stroke="#111" stroke-width="0.9" />
<text x="332.30" y="305.60" font-size="7.8" text-anchor="end" fill="#1a1a1a" color="#1a1a1a" font-weight="normal" >0</text>
<line x1="334.00" y1="289.82" x2="337.20" y2="289.82" stroke="#111" stroke-width="0.9" />
<text x="332.30" y="292.72" font-size="7.8" text-anchor="end" fill="#1a1a1a" color="#1a1a1a" font-weight="normal" >20</text>
<line x1="334.00" y1="276.95" x2="337.20" y2="276.95" stroke="#111" stroke-width="0.9" />
<text x="332.30" y="279.85" font-size="7.8" text-anchor="end" fill="#1a1a1a" color="#1a1a1a" font-weight="normal" >40</text>
<line x1="334.00" y1="264.07" x2="337.20" y2="264.07" stroke="#111" stroke-width="0.9" />
<text x="332.30" y="266.97" font-size="7.8" text-anchor="end" fill="#1a1a1a" color="#1a1a1a" font-weight="normal" >60</text>
<line x1="334.00" y1="251.20" x2="337.20" y2="251.20" stroke="#111" stroke-width="0.9" />
<text x="332.30" y="254.10" font-size="7.8" text-anchor="end" fill="#1a1a1a" color="#1a1a1a" font-weight="normal" >80</text>
<line x1="337.20" y1="302.70" x2="337.20" y2="304.70" stroke="#111" stroke-width="0.9" />
<text x="337.20" y="313.60" font-size="7.6" text-anchor="middle" fill="#1a1a1a" color="#1a1a1a" font-weight="normal" >0</text>
<line x1="349.10" y1="302.70" x2="349.10" y2="304.70" stroke="#111" stroke-width="0.9" />
<text x="349.10" y="313.60" font-size="7.6" text-anchor="middle" fill="#1a1a1a" color="#1a1a1a" font-weight="normal" >1</text>
<line x1="361.00" y1="302.70" x2="361.00" y2="304.70" stroke="#111" stroke-width="0.9" />
<text x="361.00" y="313.60" font-size="7.6" text-anchor="middle" fill="#1a1a1a" color="#1a1a1a" font-weight="normal" >2</text>
<line x1="372.90" y1="302.70" x2="372.90" y2="304.70" stroke="#111" stroke-width="0.9" />
<text x="372.90" y="313.60" font-size="7.6" text-anchor="middle" fill="#1a1a1a" color="#1a1a1a" font-weight="normal" >3</text>
<line x1="384.80" y1="302.70" x2="384.80" y2="304.70" stroke="#111" stroke-width="0.9" />
<text x="384.80" y="313.60" font-size="7.6" text-anchor="middle" fill="#1a1a1a" color="#1a1a1a" font-weight="normal" >4</text>
<path d="M349.10 289.82 L361.00 302.70 L384.80 300.77" stroke="#111" stroke-width="1.05" fill="none"/>
<circle cx="349.10" cy="289.82" r="1.05" fill="#111"/>
<circle cx="361.00" cy="302.70" r="1.05" fill="#111"/>
<circle cx="384.80" cy="300.77" r="1.05" fill="#111"/>
<path d="M349.10 301.41 L361.00 302.70 L384.80 302.70" stroke="#111" stroke-width="1.05" fill="none"/>
<circle cx="349.10" cy="301.41" r="1.05" fill="#111"/>
<circle cx="361.00" cy="302.70" r="1.05" fill="#111"/>
<circle cx="384.80" cy="302.70" r="1.05" fill="#111"/>
<path d="M349.10 302.06 L361.00 302.70 L372.90 302.06 L384.80 300.77" stroke="#111" stroke-width="1.05" fill="none"/>
<circle cx="349.10" cy="302.06" r="1.05" fill="#111"/>
<circle cx="361.00" cy="302.70" r="1.05" fill="#111"/>
<circle cx="372.90" cy="302.06" r="1.05" fill="#111"/>
<circle cx="384.80" cy="300.77" r="1.05" fill="#111"/>
<text x="395.50" y="252.00" font-size="6.9" text-anchor="end" fill="#1a1a1a" color="#1a1a1a" font-weight="normal" >n = 3/27</text>
<text transform="translate(155.7,178.0) rotate(-90)" font-size="8.45" text-anchor="middle" fill="#1a1a1a" color="#1a1a1a">Donor chimerism in CD45<tspan font-size="5.5" dy="-3">+</tspan><tspan dy="3"> PB cells (%)</tspan></text>
<text transform="translate(210.50,325.80) scale(0.92,1)" font-size="9.1" text-anchor="start" fill="#1a1a1a" color="#1a1a1a">Months after primary transplantation</text>
<text transform="translate(7.90,341.00) scale(0.88,1)" font-size="14.2" font-weight="bold" fill="#000" color="#000">C</text>
<text x="171.40" y="338.80" font-size="9.6" text-anchor="middle" fill="#73363f" color="#73363f" font-weight="normal" >0-1x divided</text>
<text x="354.50" y="338.80" font-size="9.6" text-anchor="middle" fill="#bb8095" color="#bb8095" font-weight="normal" >2-4x divided</text>
<line x1="55.50" y1="343.60" x2="287.70" y2="343.60" stroke="#262626" stroke-width="1.3" />
<line x1="300.70" y1="343.60" x2="408.20" y2="343.60" stroke="#262626" stroke-width="1.3" />
<text x="108.50" y="352.50" font-size="7.65" text-anchor="middle" fill="#1a1a1a" color="#1a1a1a" font-weight="normal" >PBS</text>
<text x="229.60" y="352.50" font-size="7.65" text-anchor="middle" fill="#1a1a1a" color="#1a1a1a" font-weight="normal" >G-CSF</text>
<text x="354.60" y="352.50" font-size="7.75" text-anchor="middle" fill="#1a1a1a" color="#1a1a1a" font-weight="normal" >Mpl agonist</text>
<line x1="55.50" y1="355.90" x2="161.90" y2="355.90" stroke="#505656" stroke-width="1.7" />
<line x1="171.50" y1="355.90" x2="287.70" y2="355.90" stroke="#505656" stroke-width="1.7" />
<line x1="300.70" y1="355.90" x2="408.20" y2="355.90" stroke="#505656" stroke-width="1.7" />
<rect x="51.65" y="363.90" width="2.50" height="59.85" fill="#c07785" stroke="none" stroke-width="1.0" />
<rect x="51.65" y="363.90" width="2.50" height="1.00" fill="#a86272" stroke="none" stroke-width="1.0" />
<rect x="51.65" y="423.75" width="2.50" height="0.62" fill="#e2dc4c" stroke="none" stroke-width="1.0" />
<rect x="51.65" y="424.37" width="2.50" height="1.23" fill="#b9c99b" stroke="none" stroke-width="1.0" />
<rect x="58.10" y="363.90" width="2.50" height="53.68" fill="#c07785" stroke="none" stroke-width="1.0" />
<rect x="58.10" y="363.90" width="2.50" height="1.00" fill="#a86272" stroke="none" stroke-width="1.0" />
<rect x="58.10" y="417.58" width="2.50" height="1.85" fill="#e2dc4c" stroke="none" stroke-width="1.0" />
<rect x="58.10" y="419.43" width="2.50" height="6.17" fill="#b9c99b" stroke="none" stroke-width="1.0" />
<rect x="64.55" y="363.90" width="2.50" height="50.59" fill="#c07785" stroke="none" stroke-width="1.0" />
<rect x="64.55" y="363.90" width="2.50" height="1.00" fill="#a86272" stroke="none" stroke-width="1.0" />
<rect x="64.55" y="414.49" width="2.50" height="4.94" fill="#e2dc4c" stroke="none" stroke-width="1.0" />
<rect x="64.55" y="419.43" width="2.50" height="6.17" fill="#b9c99b" stroke="none" stroke-width="1.0" />
<rect x="71.00" y="363.90" width="2.50" height="50.59" fill="#c07785" stroke="none" stroke-width="1.0" />
<rect x="71.00" y="363.90" width="2.50" height="1.00" fill="#a86272" stroke="none" stroke-width="1.0" />
<rect x="71.00" y="414.49" width="2.50" height="4.94" fill="#e2dc4c" stroke="none" stroke-width="1.0" />
<rect x="71.00" y="419.43" width="2.50" height="6.17" fill="#b9c99b" stroke="none" stroke-width="1.0" />
<rect x="77.45" y="363.90" width="2.50" height="50.59" fill="#c07785" stroke="none" stroke-width="1.0" />
<rect x="77.45" y="363.90" width="2.50" height="1.00" fill="#a86272" stroke="none" stroke-width="1.0" />
<rect x="77.45" y="414.49" width="2.50" height="3.70" fill="#e2dc4c" stroke="none" stroke-width="1.0" />
<rect x="77.45" y="418.20" width="2.50" height="7.40" fill="#b9c99b" stroke="none" stroke-width="1.0" />
<rect x="83.90" y="363.90" width="2.50" height="43.19" fill="#c07785" stroke="none" stroke-width="1.0" />
<rect x="83.90" y="363.90" width="2.50" height="1.00" fill="#a86272" stroke="none" stroke-width="1.0" />
<rect x="83.90" y="407.09" width="2.50" height="1.23" fill="#e2dc4c" stroke="none" stroke-width="1.0" />
<rect x="83.90" y="408.32" width="2.50" height="17.28" fill="#b9c99b" stroke="none" stroke-width="1.0" />
<rect x="90.35" y="363.90" width="2.50" height="35.79" fill="#c07785" stroke="none" stroke-width="1.0" />
<rect x="90.35" y="363.90" width="2.50" height="1.00" fill="#a86272" stroke="none" stroke-width="1.0" />
<rect x="90.35" y="399.69" width="2.50" height="1.23" fill="#e2dc4c" stroke="none" stroke-width="1.0" />
<rect x="90.35" y="400.92" width="2.50" height="24.68" fill="#b9c99b" stroke="none" stroke-width="1.0" />
<rect x="96.80" y="363.90" width="2.50" height="24.68" fill="#c07785" stroke="none" stroke-width="1.0" />
<rect x="96.80" y="363.90" width="2.50" height="1.00" fill="#a86272" stroke="none" stroke-width="1.0" />
<rect x="96.80" y="388.58" width="2.50" height="11.72" fill="#e2dc4c" stroke="none" stroke-width="1.0" />
<rect x="96.80" y="400.30" width="2.50" height="25.30" fill="#b9c99b" stroke="none" stroke-width="1.0" />
<rect x="103.25" y="363.90" width="2.50" height="19.13" fill="#c07785" stroke="none" stroke-width="1.0" />
<rect x="103.25" y="363.90" width="2.50" height="1.00" fill="#a86272" stroke="none" stroke-width="1.0" />
<rect x="103.25" y="383.03" width="2.50" height="13.57" fill="#e2dc4c" stroke="none" stroke-width="1.0" />
<rect x="103.25" y="396.60" width="2.50" height="29.00" fill="#b9c99b" stroke="none" stroke-width="1.0" />
<rect x="109.70" y="363.90" width="2.50" height="14.19" fill="#c07785" stroke="none" stroke-width="1.0" />
<rect x="109.70" y="363.90" width="2.50" height="1.00" fill="#a86272" stroke="none" stroke-width="1.0" />
<rect x="109.70" y="378.09" width="2.50" height="10.49" fill="#e2dc4c" stroke="none" stroke-width="1.0" />
<rect x="109.70" y="388.58" width="2.50" height="37.02" fill="#b9c99b" stroke="none" stroke-width="1.0" />
<rect x="116.15" y="363.90" width="2.50" height="14.19" fill="#c07785" stroke="none" stroke-width="1.0" />
<rect x="116.15" y="363.90" width="2.50" height="1.00" fill="#a86272" stroke="none" stroke-width="1.0" />
<rect x="116.15" y="378.09" width="2.50" height="2.47" fill="#e2dc4c" stroke="none" stroke-width="1.0" />
<rect x="116.15" y="380.56" width="2.50" height="45.04" fill="#b9c99b" stroke="none" stroke-width="1.0" />
<rect x="122.60" y="363.90" width="2.50" height="14.19" fill="#c07785" stroke="none" stroke-width="1.0" />
<rect x="122.60" y="363.90" width="2.50" height="1.00" fill="#a86272" stroke="none" stroke-width="1.0" />
<rect x="122.60" y="378.09" width="2.50" height="1.85" fill="#e2dc4c" stroke="none" stroke-width="1.0" />
<rect x="122.60" y="379.94" width="2.50" height="45.66" fill="#b9c99b" stroke="none" stroke-width="1.0" />
<rect x="129.05" y="363.90" width="2.50" height="12.96" fill="#c07785" stroke="none" stroke-width="1.0" />
<rect x="129.05" y="363.90" width="2.50" height="1.00" fill="#a86272" stroke="none" stroke-width="1.0" />
<rect x="129.05" y="376.86" width="2.50" height="15.43" fill="#e2dc4c" stroke="none" stroke-width="1.0" />
<rect x="129.05" y="392.28" width="2.50" height="33.32" fill="#b9c99b" stroke="none" stroke-width="1.0" />
<rect x="135.50" y="363.90" width="2.50" height="10.49" fill="#c07785" stroke="none" stroke-width="1.0" />
<rect x="135.50" y="363.90" width="2.50" height="1.00" fill="#a86272" stroke="none" stroke-width="1.0" />
<rect x="135.50" y="374.39" width="2.50" height="9.87" fill="#e2dc4c" stroke="none" stroke-width="1.0" />
<rect x="135.50" y="384.26" width="2.50" height="41.34" fill="#b9c99b" stroke="none" stroke-width="1.0" />
<rect x="141.95" y="363.90" width="2.50" height="9.25" fill="#c07785" stroke="none" stroke-width="1.0" />
<rect x="141.95" y="363.90" width="2.50" height="1.00" fill="#a86272" stroke="none" stroke-width="1.0" />
<rect x="141.95" y="373.15" width="2.50" height="11.11" fill="#e2dc4c" stroke="none" stroke-width="1.0" />
<rect x="141.95" y="384.26" width="2.50" height="41.34" fill="#b9c99b" stroke="none" stroke-width="1.0" />
<rect x="148.40" y="363.90" width="2.50" height="5.55" fill="#c07785" stroke="none" stroke-width="1.0" />
<rect x="148.40" y="363.90" width="2.50" height="1.00" fill="#a86272" stroke="none" stroke-width="1.0" />
<rect x="148.40" y="369.45" width="2.50" height="21.60" fill="#e2dc4c" stroke="none" stroke-width="1.0" />
<rect x="148.40" y="391.05" width="2.50" height="34.55" fill="#b9c99b" stroke="none" stroke-width="1.0" />
<rect x="154.85" y="363.90" width="2.50" height="4.94" fill="#c07785" stroke="none" stroke-width="1.0" />
<rect x="154.85" y="363.90" width="2.50" height="1.00" fill="#a86272" stroke="none" stroke-width="1.0" />
<rect x="154.85" y="368.84" width="2.50" height="22.83" fill="#e2dc4c" stroke="none" stroke-width="1.0" />
<rect x="154.85" y="391.66" width="2.50" height="33.94" fill="#b9c99b" stroke="none" stroke-width="1.0" />
<rect x="161.30" y="363.90" width="2.50" height="1.85" fill="#c07785" stroke="none" stroke-width="1.0" />
<rect x="161.30" y="363.90" width="2.50" height="1.00" fill="#a86272" stroke="none" stroke-width="1.0" />
<rect x="161.30" y="365.75" width="2.50" height="4.32" fill="#e2dc4c" stroke="none" stroke-width="1.0" />
<rect x="161.30" y="370.07" width="2.50" height="55.53" fill="#b9c99b" stroke="none" stroke-width="1.0" />
<circle cx="52.90" cy="421.28" r="1.5" fill="#000"/>
<circle cx="59.35" cy="395.37" r="1.5" fill="#000"/>
<circle cx="65.80" cy="412.03" r="1.5" fill="#000"/>
<circle cx="72.25" cy="419.43" r="1.5" fill="#000"/>
<circle cx="78.70" cy="412.03" r="1.5" fill="#000"/>
<circle cx="85.15" cy="421.28" r="1.5" fill="#000"/>
<circle cx="91.60" cy="405.24" r="1.5" fill="#000"/>
<circle cx="98.05" cy="417.58" r="1.5" fill="#000"/>
<circle cx="104.50" cy="415.11" r="1.5" fill="#000"/>
<circle cx="110.95" cy="389.20" r="1.5" fill="#000"/>
<circle cx="117.40" cy="401.54" r="1.5" fill="#000"/>
<circle cx="123.85" cy="400.92" r="1.5" fill="#000"/>
<circle cx="130.30" cy="381.18" r="1.5" fill="#000"/>
<circle cx="136.75" cy="425.60" r="1.5" fill="#000"/>
<circle cx="143.20" cy="405.24" r="1.5" fill="#000"/>
<circle cx="149.65" cy="412.64" r="1.5" fill="#000"/>
<circle cx="156.10" cy="400.30" r="1.5" fill="#000"/>
<circle cx="162.55" cy="411.41" r="1.5" fill="#000"/>
<rect x="167.45" y="363.90" width="2.50" height="57.38" fill="#c07785" stroke="none" stroke-width="1.0" />
<rect x="167.45" y="363.90" width="2.50" height="1.00" fill="#a86272" stroke="none" stroke-width="1.0" />
<rect x="167.45" y="421.28" width="2.50" height="0.62" fill="#e2dc4c" stroke="none" stroke-width="1.0" />
<rect x="167.45" y="421.90" width="2.50" height="3.70" fill="#b9c99b" stroke="none" stroke-width="1.0" />
<rect x="173.90" y="363.90" width="2.50" height="35.17" fill="#c07785" stroke="none" stroke-width="1.0" />
<rect x="173.90" y="363.90" width="2.50" height="1.00" fill="#a86272" stroke="none" stroke-width="1.0" />
<rect x="173.90" y="399.07" width="2.50" height="8.64" fill="#e2dc4c" stroke="none" stroke-width="1.0" />
<rect x="173.90" y="407.71" width="2.50" height="17.89" fill="#b9c99b" stroke="none" stroke-width="1.0" />
<rect x="180.35" y="363.90" width="2.50" height="31.47" fill="#c07785" stroke="none" stroke-width="1.0" />
<rect x="180.35" y="363.90" width="2.50" height="1.00" fill="#a86272" stroke="none" stroke-width="1.0" />
<rect x="180.35" y="395.37" width="2.50" height="6.79" fill="#e2dc4c" stroke="none" stroke-width="1.0" />
<rect x="180.35" y="402.15" width="2.50" height="23.45" fill="#b9c99b" stroke="none" stroke-width="1.0" />
<rect x="186.80" y="363.90" width="2.50" height="31.47" fill="#c07785" stroke="none" stroke-width="1.0" />
<rect x="186.80" y="363.90" width="2.50" height="1.00" fill="#a86272" stroke="none" stroke-width="1.0" />
<rect x="186.80" y="395.37" width="2.50" height="17.89" fill="#e2dc4c" stroke="none" stroke-width="1.0" />
<rect x="186.80" y="413.26" width="2.50" height="12.34" fill="#b9c99b" stroke="none" stroke-width="1.0" />
<rect x="193.25" y="363.90" width="2.50" height="30.23" fill="#c07785" stroke="none" stroke-width="1.0" />
<rect x="193.25" y="363.90" width="2.50" height="1.00" fill="#a86272" stroke="none" stroke-width="1.0" />
<rect x="193.25" y="394.13" width="2.50" height="8.02" fill="#e2dc4c" stroke="none" stroke-width="1.0" />
<rect x="193.25" y="402.15" width="2.50" height="23.45" fill="#b9c99b" stroke="none" stroke-width="1.0" />
<rect x="199.70" y="363.90" width="2.50" height="29.00" fill="#c07785" stroke="none" stroke-width="1.0" />
<rect x="199.70" y="363.90" width="2.50" height="1.00" fill="#a86272" stroke="none" stroke-width="1.0" />
<rect x="199.70" y="392.90" width="2.50" height="8.02" fill="#e2dc4c" stroke="none" stroke-width="1.0" />
<rect x="199.70" y="400.92" width="2.50" height="24.68" fill="#b9c99b" stroke="none" stroke-width="1.0" />
<rect x="206.15" y="363.90" width="2.50" height="24.06" fill="#c07785" stroke="none" stroke-width="1.0" />
<rect x="206.15" y="363.90" width="2.50" height="1.00" fill="#a86272" stroke="none" stroke-width="1.0" />
<rect x="206.15" y="387.96" width="2.50" height="7.40" fill="#e2dc4c" stroke="none" stroke-width="1.0" />
<rect x="206.15" y="395.37" width="2.50" height="30.23" fill="#b9c99b" stroke="none" stroke-width="1.0" />
<rect x="212.60" y="363.90" width="2.50" height="23.45" fill="#c07785" stroke="none" stroke-width="1.0" />
<rect x="212.60" y="363.90" width="2.50" height="1.00" fill="#a86272" stroke="none" stroke-width="1.0" />
<rect x="212.60" y="387.35" width="2.50" height="8.02" fill="#e2dc4c" stroke="none" stroke-width="1.0" />
<rect x="212.60" y="395.37" width="2.50" height="30.23" fill="#b9c99b" stroke="none" stroke-width="1.0" />
<rect x="219.05" y="363.90" width="2.50" height="22.21" fill="#c07785" stroke="none" stroke-width="1.0" />
<rect x="219.05" y="363.90" width="2.50" height="1.00" fill="#a86272" stroke="none" stroke-width="1.0" />
<rect x="219.05" y="386.11" width="2.50" height="6.79" fill="#e2dc4c" stroke="none" stroke-width="1.0" />
<rect x="219.05" y="392.90" width="2.50" height="32.70" fill="#b9c99b" stroke="none" stroke-width="1.0" />
<rect x="225.50" y="363.90" width="2.50" height="20.98" fill="#c07785" stroke="none" stroke-width="1.0" />
<rect x="225.50" y="363.90" width="2.50" height="1.00" fill="#a86272" stroke="none" stroke-width="1.0" />
<rect x="225.50" y="384.88" width="2.50" height="12.96" fill="#e2dc4c" stroke="none" stroke-width="1.0" />
<rect x="225.50" y="397.83" width="2.50" height="27.77" fill="#b9c99b" stroke="none" stroke-width="1.0" />
<rect x="231.95" y="363.90" width="2.50" height="19.13" fill="#c07785" stroke="none" stroke-width="1.0" />
<rect x="231.95" y="363.90" width="2.50" height="1.00" fill="#a86272" stroke="none" stroke-width="1.0" />
<rect x="231.95" y="383.03" width="2.50" height="14.19" fill="#e2dc4c" stroke="none" stroke-width="1.0" />
<rect x="231.95" y="397.22" width="2.50" height="28.38" fill="#b9c99b" stroke="none" stroke-width="1.0" />
<rect x="238.40" y="363.90" width="2.50" height="20.36" fill="#c07785" stroke="none" stroke-width="1.0" />
<rect x="238.40" y="363.90" width="2.50" height="1.00" fill="#a86272" stroke="none" stroke-width="1.0" />
<rect x="238.40" y="384.26" width="2.50" height="12.34" fill="#e2dc4c" stroke="none" stroke-width="1.0" />
<rect x="238.40" y="396.60" width="2.50" height="29.00" fill="#b9c99b" stroke="none" stroke-width="1.0" />
<rect x="244.85" y="363.90" width="2.50" height="18.51" fill="#c07785" stroke="none" stroke-width="1.0" />
<rect x="244.85" y="363.90" width="2.50" height="1.00" fill="#a86272" stroke="none" stroke-width="1.0" />
<rect x="244.85" y="382.41" width="2.50" height="13.57" fill="#e2dc4c" stroke="none" stroke-width="1.0" />
<rect x="244.85" y="395.98" width="2.50" height="29.62" fill="#b9c99b" stroke="none" stroke-width="1.0" />
<rect x="251.30" y="363.90" width="2.50" height="16.04" fill="#c07785" stroke="none" stroke-width="1.0" />
<rect x="251.30" y="363.90" width="2.50" height="1.00" fill="#a86272" stroke="none" stroke-width="1.0" />
<rect x="251.30" y="379.94" width="2.50" height="16.04" fill="#e2dc4c" stroke="none" stroke-width="1.0" />
<rect x="251.30" y="395.98" width="2.50" height="29.62" fill="#b9c99b" stroke="none" stroke-width="1.0" />
<rect x="257.75" y="363.90" width="2.50" height="14.81" fill="#c07785" stroke="none" stroke-width="1.0" />
<rect x="257.75" y="363.90" width="2.50" height="1.00" fill="#a86272" stroke="none" stroke-width="1.0" />
<rect x="257.75" y="378.71" width="2.50" height="14.19" fill="#e2dc4c" stroke="none" stroke-width="1.0" />
<rect x="257.75" y="392.90" width="2.50" height="32.70" fill="#b9c99b" stroke="none" stroke-width="1.0" />
<rect x="264.20" y="363.90" width="2.50" height="14.19" fill="#c07785" stroke="none" stroke-width="1.0" />
<rect x="264.20" y="363.90" width="2.50" height="1.00" fill="#a86272" stroke="none" stroke-width="1.0" />
<rect x="264.20" y="378.09" width="2.50" height="14.81" fill="#e2dc4c" stroke="none" stroke-width="1.0" />
<rect x="264.20" y="392.90" width="2.50" height="32.70" fill="#b9c99b" stroke="none" stroke-width="1.0" />
<rect x="270.65" y="363.90" width="2.50" height="6.79" fill="#c07785" stroke="none" stroke-width="1.0" />
<rect x="270.65" y="363.90" width="2.50" height="1.00" fill="#a86272" stroke="none" stroke-width="1.0" />
<rect x="270.65" y="370.69" width="2.50" height="11.11" fill="#e2dc4c" stroke="none" stroke-width="1.0" />
<rect x="270.65" y="381.79" width="2.50" height="43.81" fill="#b9c99b" stroke="none" stroke-width="1.0" />
<rect x="277.10" y="363.90" width="2.50" height="3.08" fill="#c07785" stroke="none" stroke-width="1.0" />
<rect x="277.10" y="363.90" width="2.50" height="1.00" fill="#a86272" stroke="none" stroke-width="1.0" />
<rect x="277.10" y="366.98" width="2.50" height="27.15" fill="#e2dc4c" stroke="none" stroke-width="1.0" />
<rect x="277.10" y="394.13" width="2.50" height="31.47" fill="#b9c99b" stroke="none" stroke-width="1.0" />
<rect x="283.55" y="363.90" width="2.50" height="2.47" fill="#c07785" stroke="none" stroke-width="1.0" />
<rect x="283.55" y="363.90" width="2.50" height="1.00" fill="#a86272" stroke="none" stroke-width="1.0" />
<rect x="283.55" y="366.37" width="2.50" height="9.87" fill="#e2dc4c" stroke="none" stroke-width="1.0" />
<rect x="283.55" y="376.24" width="2.50" height="49.36" fill="#b9c99b" stroke="none" stroke-width="1.0" />
<rect x="290.00" y="363.90" width="2.50" height="1.85" fill="#c07785" stroke="none" stroke-width="1.0" />
<rect x="290.00" y="363.90" width="2.50" height="1.00" fill="#a86272" stroke="none" stroke-width="1.0" />
<rect x="290.00" y="365.75" width="2.50" height="18.51" fill="#e2dc4c" stroke="none" stroke-width="1.0" />
<rect x="290.00" y="384.26" width="2.50" height="41.34" fill="#b9c99b" stroke="none" stroke-width="1.0" />
<circle cx="168.70" cy="421.28" r="1.5" fill="#000"/>
<circle cx="175.15" cy="410.79" r="1.5" fill="#000"/>
<circle cx="181.60" cy="393.52" r="1.5" fill="#000"/>
<circle cx="188.05" cy="424.37" r="1.5" fill="#000"/>
<circle cx="194.50" cy="378.71" r="1.5" fill="#000"/>
<circle cx="200.95" cy="408.94" r="1.5" fill="#000"/>
<circle cx="207.40" cy="412.64" r="1.5" fill="#000"/>
<circle cx="213.85" cy="395.98" r="1.5" fill="#000"/>
<circle cx="220.30" cy="386.73" r="1.5" fill="#000"/>
<circle cx="226.75" cy="416.35" r="1.5" fill="#000"/>
<circle cx="233.20" cy="384.88" r="1.5" fill="#000"/>
<circle cx="239.65" cy="406.47" r="1.5" fill="#000"/>
<circle cx="246.10" cy="413.88" r="1.5" fill="#000"/>
<circle cx="252.55" cy="379.94" r="1.5" fill="#000"/>
<circle cx="259.00" cy="380.56" r="1.5" fill="#000"/>
<circle cx="265.45" cy="399.69" r="1.5" fill="#000"/>
<circle cx="271.90" cy="425.60" r="1.5" fill="#000"/>
<circle cx="278.35" cy="420.66" r="1.5" fill="#000"/>
<circle cx="284.80" cy="424.98" r="1.5" fill="#000"/>
<circle cx="291.25" cy="420.05" r="1.5" fill="#000"/>
<rect x="296.35" y="363.90" width="2.50" height="61.08" fill="#c07785" stroke="none" stroke-width="1.0" />
<rect x="296.35" y="363.90" width="2.50" height="1.00" fill="#a86272" stroke="none" stroke-width="1.0" />
<rect x="296.35" y="424.98" width="2.50" height="0.62" fill="#b9c99b" stroke="none" stroke-width="1.0" />
<rect x="302.80" y="363.90" width="2.50" height="56.15" fill="#c07785" stroke="none" stroke-width="1.0" />
<rect x="302.80" y="363.90" width="2.50" height="1.00" fill="#a86272" stroke="none" stroke-width="1.0" />
<rect x="302.80" y="420.05" width="2.50" height="1.85" fill="#e2dc4c" stroke="none" stroke-width="1.0" />
<rect x="302.80" y="421.90" width="2.50" height="3.70" fill="#b9c99b" stroke="none" stroke-width="1.0" />
<rect x="309.25" y="363.90" width="2.50" height="56.15" fill="#c07785" stroke="none" stroke-width="1.0" />
<rect x="309.25" y="363.90" width="2.50" height="1.00" fill="#a86272" stroke="none" stroke-width="1.0" />
<rect x="309.25" y="420.05" width="2.50" height="2.47" fill="#e2dc4c" stroke="none" stroke-width="1.0" />
<rect x="309.25" y="422.52" width="2.50" height="3.08" fill="#b9c99b" stroke="none" stroke-width="1.0" />
<rect x="315.70" y="363.90" width="2.50" height="54.91" fill="#c07785" stroke="none" stroke-width="1.0" />
<rect x="315.70" y="363.90" width="2.50" height="1.00" fill="#a86272" stroke="none" stroke-width="1.0" />
<rect x="315.70" y="418.81" width="2.50" height="3.08" fill="#e2dc4c" stroke="none" stroke-width="1.0" />
<rect x="315.70" y="421.90" width="2.50" height="3.70" fill="#b9c99b" stroke="none" stroke-width="1.0" />
<rect x="322.15" y="363.90" width="2.50" height="54.91" fill="#c07785" stroke="none" stroke-width="1.0" />
<rect x="322.15" y="363.90" width="2.50" height="1.00" fill="#a86272" stroke="none" stroke-width="1.0" />
<rect x="322.15" y="418.81" width="2.50" height="2.47" fill="#e2dc4c" stroke="none" stroke-width="1.0" />
<rect x="322.15" y="421.28" width="2.50" height="4.32" fill="#b9c99b" stroke="none" stroke-width="1.0" />
<rect x="328.60" y="363.90" width="2.50" height="56.76" fill="#c07785" stroke="none" stroke-width="1.0" />
<rect x="328.60" y="363.90" width="2.50" height="1.00" fill="#a86272" stroke="none" stroke-width="1.0" />
<rect x="328.60" y="420.66" width="2.50" height="1.23" fill="#e2dc4c" stroke="none" stroke-width="1.0" />
<rect x="328.60" y="421.90" width="2.50" height="3.70" fill="#b9c99b" stroke="none" stroke-width="1.0" />
<rect x="335.05" y="363.90" width="2.50" height="53.06" fill="#c07785" stroke="none" stroke-width="1.0" />
<rect x="335.05" y="363.90" width="2.50" height="1.00" fill="#a86272" stroke="none" stroke-width="1.0" />
<rect x="335.05" y="416.96" width="2.50" height="0.62" fill="#e2dc4c" stroke="none" stroke-width="1.0" />
<rect x="335.05" y="417.58" width="2.50" height="8.02" fill="#b9c99b" stroke="none" stroke-width="1.0" />
<rect x="341.50" y="363.90" width="2.50" height="44.42" fill="#c07785" stroke="none" stroke-width="1.0" />
<rect x="341.50" y="363.90" width="2.50" height="1.00" fill="#a86272" stroke="none" stroke-width="1.0" />
<rect x="341.50" y="408.32" width="2.50" height="8.02" fill="#e2dc4c" stroke="none" stroke-width="1.0" />
<rect x="341.50" y="416.35" width="2.50" height="9.25" fill="#b9c99b" stroke="none" stroke-width="1.0" />
<rect x="347.95" y="363.90" width="2.50" height="42.57" fill="#c07785" stroke="none" stroke-width="1.0" />
<rect x="347.95" y="363.90" width="2.50" height="1.00" fill="#a86272" stroke="none" stroke-width="1.0" />
<rect x="347.95" y="406.47" width="2.50" height="1.85" fill="#e2dc4c" stroke="none" stroke-width="1.0" />
<rect x="347.95" y="408.32" width="2.50" height="17.28" fill="#b9c99b" stroke="none" stroke-width="1.0" />
<rect x="354.40" y="363.90" width="2.50" height="40.72" fill="#c07785" stroke="none" stroke-width="1.0" />
<rect x="354.40" y="363.90" width="2.50" height="1.00" fill="#a86272" stroke="none" stroke-width="1.0" />
<rect x="354.40" y="404.62" width="2.50" height="2.47" fill="#e2dc4c" stroke="none" stroke-width="1.0" />
<rect x="354.40" y="407.09" width="2.50" height="18.51" fill="#b9c99b" stroke="none" stroke-width="1.0" />
<rect x="360.85" y="363.90" width="2.50" height="33.32" fill="#c07785" stroke="none" stroke-width="1.0" />
<rect x="360.85" y="363.90" width="2.50" height="1.00" fill="#a86272" stroke="none" stroke-width="1.0" />
<rect x="360.85" y="397.22" width="2.50" height="8.02" fill="#e2dc4c" stroke="none" stroke-width="1.0" />
<rect x="360.85" y="405.24" width="2.50" height="20.36" fill="#b9c99b" stroke="none" stroke-width="1.0" />
<rect x="367.30" y="363.90" width="2.50" height="29.62" fill="#c07785" stroke="none" stroke-width="1.0" />
<rect x="367.30" y="363.90" width="2.50" height="1.00" fill="#a86272" stroke="none" stroke-width="1.0" />
<rect x="367.30" y="393.52" width="2.50" height="1.23" fill="#e2dc4c" stroke="none" stroke-width="1.0" />
<rect x="367.30" y="394.75" width="2.50" height="30.85" fill="#b9c99b" stroke="none" stroke-width="1.0" />
<rect x="373.75" y="363.90" width="2.50" height="26.53" fill="#c07785" stroke="none" stroke-width="1.0" />
<rect x="373.75" y="363.90" width="2.50" height="1.00" fill="#a86272" stroke="none" stroke-width="1.0" />
<rect x="373.75" y="390.43" width="2.50" height="8.02" fill="#e2dc4c" stroke="none" stroke-width="1.0" />
<rect x="373.75" y="398.45" width="2.50" height="27.15" fill="#b9c99b" stroke="none" stroke-width="1.0" />
<rect x="380.20" y="363.90" width="2.50" height="25.91" fill="#c07785" stroke="none" stroke-width="1.0" />
<rect x="380.20" y="363.90" width="2.50" height="1.00" fill="#a86272" stroke="none" stroke-width="1.0" />
<rect x="380.20" y="389.81" width="2.50" height="7.40" fill="#e2dc4c" stroke="none" stroke-width="1.0" />
<rect x="380.20" y="397.22" width="2.50" height="28.38" fill="#b9c99b" stroke="none" stroke-width="1.0" />
<rect x="386.65" y="363.90" width="2.50" height="22.83" fill="#c07785" stroke="none" stroke-width="1.0" />
<rect x="386.65" y="363.90" width="2.50" height="1.00" fill="#a86272" stroke="none" stroke-width="1.0" />
<rect x="386.65" y="386.73" width="2.50" height="7.40" fill="#e2dc4c" stroke="none" stroke-width="1.0" />
<rect x="386.65" y="394.13" width="2.50" height="31.47" fill="#b9c99b" stroke="none" stroke-width="1.0" />
<rect x="393.10" y="363.90" width="2.50" height="19.74" fill="#c07785" stroke="none" stroke-width="1.0" />
<rect x="393.10" y="363.90" width="2.50" height="1.00" fill="#a86272" stroke="none" stroke-width="1.0" />
<rect x="393.10" y="383.64" width="2.50" height="0.62" fill="#e2dc4c" stroke="none" stroke-width="1.0" />
<rect x="393.10" y="384.26" width="2.50" height="41.34" fill="#b9c99b" stroke="none" stroke-width="1.0" />
<rect x="399.55" y="363.90" width="2.50" height="17.89" fill="#c07785" stroke="none" stroke-width="1.0" />
<rect x="399.55" y="363.90" width="2.50" height="1.00" fill="#a86272" stroke="none" stroke-width="1.0" />
<rect x="399.55" y="381.79" width="2.50" height="8.02" fill="#e2dc4c" stroke="none" stroke-width="1.0" />
<rect x="399.55" y="389.81" width="2.50" height="35.79" fill="#b9c99b" stroke="none" stroke-width="1.0" />
<rect x="406.00" y="363.90" width="2.50" height="17.89" fill="#c07785" stroke="none" stroke-width="1.0" />
<rect x="406.00" y="363.90" width="2.50" height="1.00" fill="#a86272" stroke="none" stroke-width="1.0" />
<rect x="406.00" y="381.79" width="2.50" height="1.23" fill="#e2dc4c" stroke="none" stroke-width="1.0" />
<rect x="406.00" y="383.03" width="2.50" height="42.57" fill="#b9c99b" stroke="none" stroke-width="1.0" />
<rect x="412.45" y="363.90" width="2.50" height="14.19" fill="#c07785" stroke="none" stroke-width="1.0" />
<rect x="412.45" y="363.90" width="2.50" height="1.00" fill="#a86272" stroke="none" stroke-width="1.0" />
<rect x="412.45" y="378.09" width="2.50" height="11.72" fill="#e2dc4c" stroke="none" stroke-width="1.0" />
<rect x="412.45" y="389.81" width="2.50" height="35.79" fill="#b9c99b" stroke="none" stroke-width="1.0" />
<circle cx="297.60" cy="381.79" r="1.5" fill="#000"/>
<circle cx="304.05" cy="404.62" r="1.5" fill="#000"/>
<circle cx="310.50" cy="417.58" r="1.5" fill="#000"/>
<circle cx="316.95" cy="425.60" r="1.5" fill="#000"/>
<circle cx="323.40" cy="404.00" r="1.5" fill="#000"/>
<circle cx="329.85" cy="418.81" r="1.5" fill="#000"/>
<circle cx="336.30" cy="424.98" r="1.5" fill="#000"/>
<circle cx="342.75" cy="425.60" r="1.5" fill="#000"/>
<circle cx="349.20" cy="425.60" r="1.5" fill="#000"/>
<circle cx="355.65" cy="408.94" r="1.5" fill="#000"/>
<circle cx="362.10" cy="395.98" r="1.5" fill="#000"/>
<circle cx="368.55" cy="425.60" r="1.5" fill="#000"/>
<circle cx="375.00" cy="406.47" r="1.5" fill="#000"/>
<circle cx="381.45" cy="399.07" r="1.5" fill="#000"/>
<circle cx="387.90" cy="384.26" r="1.5" fill="#000"/>
<circle cx="394.35" cy="425.60" r="1.5" fill="#000"/>
<circle cx="400.80" cy="418.20" r="1.5" fill="#000"/>
<circle cx="407.25" cy="425.60" r="1.5" fill="#000"/>
<circle cx="413.70" cy="399.69" r="1.5" fill="#000"/>
<line x1="165.50" y1="356.50" x2="165.50" y2="426.00" stroke="#333" stroke-width="0.8" stroke-dasharray="1.2 0.8"/>
<line x1="294.80" y1="356.50" x2="294.80" y2="426.00" stroke="#333" stroke-width="0.8" stroke-dasharray="1.2 0.8"/>
<line x1="51.00" y1="361.50" x2="51.00" y2="426.30" stroke="#111" stroke-width="1.3" />
<line x1="50.40" y1="425.80" x2="416.90" y2="425.80" stroke="#111" stroke-width="1.3" />
<line x1="416.30" y1="361.50" x2="416.30" y2="426.30" stroke="#111" stroke-width="1.3" />
<line x1="47.80" y1="425.60" x2="51.00" y2="425.60" stroke="#111" stroke-width="0.9" />
<text x="44.50" y="428.10" font-size="7.0" text-anchor="end" fill="#1a1a1a" color="#1a1a1a" font-weight="normal" >0</text>
<line x1="416.30" y1="425.60" x2="419.30" y2="425.60" stroke="#111" stroke-width="0.9" />
<text x="421.50" y="428.10" font-size="7.0" text-anchor="start" fill="#1a1a1a" color="#1a1a1a" font-weight="normal" >0</text>
<line x1="47.80" y1="413.26" x2="51.00" y2="413.26" stroke="#111" stroke-width="0.9" />
<text x="44.50" y="415.76" font-size="7.0" text-anchor="end" fill="#1a1a1a" color="#1a1a1a" font-weight="normal" >20</text>
<line x1="416.30" y1="413.26" x2="419.30" y2="413.26" stroke="#111" stroke-width="0.9" />
<text x="421.50" y="415.76" font-size="7.0" text-anchor="start" fill="#1a1a1a" color="#1a1a1a" font-weight="normal" >20</text>
<line x1="47.80" y1="400.92" x2="51.00" y2="400.92" stroke="#111" stroke-width="0.9" />
<text x="44.50" y="403.42" font-size="7.0" text-anchor="end" fill="#1a1a1a" color="#1a1a1a" font-weight="normal" >40</text>
<line x1="416.30" y1="400.92" x2="419.30" y2="400.92" stroke="#111" stroke-width="0.9" />
<text x="421.50" y="403.42" font-size="7.0" text-anchor="start" fill="#1a1a1a" color="#1a1a1a" font-weight="normal" >40</text>
<line x1="47.80" y1="388.58" x2="51.00" y2="388.58" stroke="#111" stroke-width="0.9" />
<text x="44.50" y="391.08" font-size="7.0" text-anchor="end" fill="#1a1a1a" color="#1a1a1a" font-weight="normal" >60</text>
<line x1="416.30" y1="388.58" x2="419.30" y2="388.58" stroke="#111" stroke-width="0.9" />
<text x="421.50" y="391.08" font-size="7.0" text-anchor="start" fill="#1a1a1a" color="#1a1a1a" font-weight="normal" >60</text>
<line x1="47.80" y1="376.24" x2="51.00" y2="376.24" stroke="#111" stroke-width="0.9" />
<text x="44.50" y="378.74" font-size="7.0" text-anchor="end" fill="#1a1a1a" color="#1a1a1a" font-weight="normal" >80</text>
<line x1="416.30" y1="376.24" x2="419.30" y2="376.24" stroke="#111" stroke-width="0.9" />
<text x="421.50" y="378.74" font-size="7.0" text-anchor="start" fill="#1a1a1a" color="#1a1a1a" font-weight="normal" >80</text>
<line x1="47.80" y1="363.90" x2="51.00" y2="363.90" stroke="#111" stroke-width="0.9" />
<text x="44.50" y="366.40" font-size="7.0" text-anchor="end" fill="#1a1a1a" color="#1a1a1a" font-weight="normal" >100</text>
<line x1="416.30" y1="363.90" x2="419.30" y2="363.90" stroke="#111" stroke-width="0.9" />
<text x="421.50" y="366.40" font-size="7.0" text-anchor="start" fill="#1a1a1a" color="#1a1a1a" font-weight="normal" >100</text>
<text transform="translate(15.0,392.6) rotate(-90)" font-size="8.5" text-anchor="middle" fill="#1a1a1a" color="#1a1a1a">Lineage</text>
<text transform="translate(25.9,392.6) rotate(-90)" font-size="8.5" text-anchor="middle" fill="#1a1a1a" color="#1a1a1a">distribution (%)</text>
<text transform="translate(438.6,393.2) rotate(90)" font-size="8.7" text-anchor="middle" fill="#1a1a1a" color="#1a1a1a">engraftment (%)</text>
<text transform="translate(449.5,393.9) rotate(90)" font-size="8.7" text-anchor="middle" fill="#1a1a1a" color="#1a1a1a">Donor</text>
<text x="109.20" y="434.60" font-size="7.2" text-anchor="middle" fill="#1a1a1a" color="#1a1a1a" font-weight="normal" >17/20</text>
<text x="229.80" y="434.60" font-size="7.2" text-anchor="middle" fill="#1a1a1a" color="#1a1a1a" font-weight="normal" >18/18</text>
<text x="354.40" y="434.60" font-size="7.2" text-anchor="middle" fill="#1a1a1a" color="#1a1a1a" font-weight="normal" >19/21</text>
<text transform="translate(25.80,436.10) scale(0.95,1)" font-size="8.6" text-anchor="start" fill="#1a1a1a" color="#1a1a1a">N engrafted /</text>
<text transform="translate(25.80,446.40) scale(0.95,1)" font-size="8.6" text-anchor="start" fill="#1a1a1a" color="#1a1a1a">N transplanted</text>
<rect x="462.60" y="377.60" width="9.00" height="5.40" fill="#cf7d8a" stroke="none" stroke-width="1.0" />
<rect x="462.60" y="387.30" width="9.00" height="5.20" fill="#e2da2e" stroke="none" stroke-width="1.0" />
<rect x="462.60" y="396.60" width="9.00" height="5.00" fill="#b4c68e" stroke="none" stroke-width="1.0" />
<circle cx="466.80" cy="408.80" r="2.1" fill="#000"/>
<text x="474.50" y="382.60" font-size="6.9" text-anchor="start" fill="#1a1a1a" color="#1a1a1a" font-weight="normal" >Myeloid</text>
<text x="474.50" y="392.50" font-size="6.9" text-anchor="start" fill="#1a1a1a" color="#1a1a1a" font-weight="normal" >T</text>
<text x="474.50" y="402.10" font-size="6.9" text-anchor="start" fill="#1a1a1a" color="#1a1a1a" font-weight="normal" >B</text>
<text x="474.50" y="411.20" font-size="6.9" text-anchor="start" fill="#1a1a1a" color="#1a1a1a" font-weight="normal" >Engraftment</text>
<text transform="translate(8.60,461.00) scale(0.88,1)" font-size="14.2" font-weight="bold" fill="#000" color="#000">D</text>
<text x="182.40" y="459.80" font-size="9.0" text-anchor="middle" fill="#1a1a1a" color="#1a1a1a" font-weight="normal" >PBS</text>
<line x1="59.60" y1="463.00" x2="303.20" y2="463.00" stroke="#262626" stroke-width="1.3" />
<text x="89.05" y="470.50" font-size="6.9" text-anchor="middle" fill="#7a3a44" color="#7a3a44" font-weight="normal" >0-1x divided</text>
<line x1="59.40" y1="473.90" x2="118.70" y2="473.90" stroke="#262626" stroke-width="1.3" />
<line x1="57.90" y1="475.10" x2="57.90" y2="535.00" stroke="#111" stroke-width="1.2" />
<line x1="57.30" y1="534.40" x2="125.90" y2="534.40" stroke="#111" stroke-width="1.2" />
<line x1="54.90" y1="534.40" x2="57.90" y2="534.40" stroke="#111" stroke-width="0.9" />
<text x="53.40" y="536.90" font-size="6.8" text-anchor="end" fill="#1a1a1a" color="#1a1a1a" font-weight="normal" >0</text>
<line x1="54.90" y1="523.24" x2="57.90" y2="523.24" stroke="#111" stroke-width="0.9" />
<text x="53.40" y="525.74" font-size="6.8" text-anchor="end" fill="#1a1a1a" color="#1a1a1a" font-weight="normal" >20</text>
<line x1="54.90" y1="512.08" x2="57.90" y2="512.08" stroke="#111" stroke-width="0.9" />
<text x="53.40" y="514.58" font-size="6.8" text-anchor="end" fill="#1a1a1a" color="#1a1a1a" font-weight="normal" >40</text>
<line x1="54.90" y1="500.92" x2="57.90" y2="500.92" stroke="#111" stroke-width="0.9" />
<text x="53.40" y="503.42" font-size="6.8" text-anchor="end" fill="#1a1a1a" color="#1a1a1a" font-weight="normal" >60</text>
<line x1="54.90" y1="489.76" x2="57.90" y2="489.76" stroke="#111" stroke-width="0.9" />
<text x="53.40" y="492.26" font-size="6.8" text-anchor="end" fill="#1a1a1a" color="#1a1a1a" font-weight="normal" >80</text>
<line x1="54.90" y1="478.60" x2="57.90" y2="478.60" stroke="#111" stroke-width="0.9" />
<text x="53.40" y="481.10" font-size="6.8" text-anchor="end" fill="#1a1a1a" color="#1a1a1a" font-weight="normal" >100</text>
<line x1="57.90" y1="534.40" x2="57.90" y2="536.40" stroke="#111" stroke-width="0.9" />
<text x="57.90" y="545.20" font-size="7.0" text-anchor="middle" fill="#1a1a1a" color="#1a1a1a" font-weight="normal" >0</text>
<line x1="76.90" y1="534.40" x2="76.90" y2="536.40" stroke="#111" stroke-width="0.9" />
<text x="76.90" y="545.20" font-size="7.0" text-anchor="middle" fill="#1a1a1a" color="#1a1a1a" font-weight="normal" >2</text>
<line x1="95.90" y1="534.40" x2="95.90" y2="536.40" stroke="#111" stroke-width="0.9" />
<text x="95.90" y="545.20" font-size="7.0" text-anchor="middle" fill="#1a1a1a" color="#1a1a1a" font-weight="normal" >3</text>
<line x1="114.90" y1="534.40" x2="114.90" y2="536.40" stroke="#111" stroke-width="0.9" />
<text x="114.90" y="545.20" font-size="7.0" text-anchor="middle" fill="#1a1a1a" color="#1a1a1a" font-weight="normal" >4</text>
<path d="M76.90 510.41 L114.90 500.36" stroke="#111" stroke-width="1.3" fill="none"/>
<circle cx="76.90" cy="510.41" r="1.1" fill="#111"/>
<circle cx="114.90" cy="500.36" r="1.1" fill="#111"/>
<path d="M76.90 515.99 L114.90 506.50" stroke="#111" stroke-width="1.3" fill="none"/>
<circle cx="76.90" cy="515.99" r="1.1" fill="#111"/>
<circle cx="114.90" cy="506.50" r="1.1" fill="#111"/>
<path d="M76.90 515.99 L114.90 514.87" stroke="#111" stroke-width="1.3" fill="none"/>
<circle cx="76.90" cy="515.99" r="1.1" fill="#111"/>
<circle cx="114.90" cy="514.87" r="1.1" fill="#111"/>
<path d="M76.90 525.47 L114.90 514.87" stroke="#111" stroke-width="1.3" fill="none"/>
<circle cx="76.90" cy="525.47" r="1.1" fill="#111"/>
<circle cx="114.90" cy="514.87" r="1.1" fill="#111"/>
<path d="M76.90 531.61 L114.90 531.05" stroke="#111" stroke-width="1.3" fill="none"/>
<circle cx="76.90" cy="531.61" r="1.1" fill="#111"/>
<circle cx="114.90" cy="531.05" r="1.1" fill="#111"/>
<path d="M76.90 533.28 L114.90 533.84" stroke="#111" stroke-width="1.3" fill="none"/>
<circle cx="76.90" cy="533.28" r="1.1" fill="#111"/>
<circle cx="114.90" cy="533.84" r="1.1" fill="#111"/>
<path d="M76.90 534.40 L114.90 534.40" stroke="#111" stroke-width="1.3" fill="none"/>
<circle cx="76.90" cy="534.40" r="1.1" fill="#111"/>
<circle cx="114.90" cy="534.40" r="1.1" fill="#111"/>
<text x="119.20" y="482.00" font-size="6.9" text-anchor="end" fill="#1a1a1a" color="#1a1a1a" font-weight="normal" >n = 6/7</text>
<text x="181.70" y="470.50" font-size="6.9" text-anchor="middle" fill="#c48da2" color="#c48da2" font-weight="normal" >2-4x divided</text>
<line x1="151.80" y1="473.90" x2="211.60" y2="473.90" stroke="#262626" stroke-width="1.3" />
<line x1="148.30" y1="475.10" x2="148.30" y2="535.00" stroke="#111" stroke-width="1.2" />
<line x1="147.70" y1="534.40" x2="216.30" y2="534.40" stroke="#111" stroke-width="1.2" />
<line x1="145.30" y1="534.40" x2="148.30" y2="534.40" stroke="#111" stroke-width="0.9" />
<text x="143.80" y="536.90" font-size="6.8" text-anchor="end" fill="#1a1a1a" color="#1a1a1a" font-weight="normal" >0</text>
<line x1="145.30" y1="523.24" x2="148.30" y2="523.24" stroke="#111" stroke-width="0.9" />
<text x="143.80" y="525.74" font-size="6.8" text-anchor="end" fill="#1a1a1a" color="#1a1a1a" font-weight="normal" >20</text>
<line x1="145.30" y1="512.08" x2="148.30" y2="512.08" stroke="#111" stroke-width="0.9" />
<text x="143.80" y="514.58" font-size="6.8" text-anchor="end" fill="#1a1a1a" color="#1a1a1a" font-weight="normal" >40</text>
<line x1="145.30" y1="500.92" x2="148.30" y2="500.92" stroke="#111" stroke-width="0.9" />
<text x="143.80" y="503.42" font-size="6.8" text-anchor="end" fill="#1a1a1a" color="#1a1a1a" font-weight="normal" >60</text>
<line x1="145.30" y1="489.76" x2="148.30" y2="489.76" stroke="#111" stroke-width="0.9" />
<text x="143.80" y="492.26" font-size="6.8" text-anchor="end" fill="#1a1a1a" color="#1a1a1a" font-weight="normal" >80</text>
<line x1="145.30" y1="478.60" x2="148.30" y2="478.60" stroke="#111" stroke-width="0.9" />
<text x="143.80" y="481.10" font-size="6.8" text-anchor="end" fill="#1a1a1a" color="#1a1a1a" font-weight="normal" >100</text>
<line x1="148.30" y1="534.40" x2="148.30" y2="536.40" stroke="#111" stroke-width="0.9" />
<text x="148.30" y="545.20" font-size="7.0" text-anchor="middle" fill="#1a1a1a" color="#1a1a1a" font-weight="normal" >0</text>
<line x1="167.30" y1="534.40" x2="167.30" y2="536.40" stroke="#111" stroke-width="0.9" />
<text x="167.30" y="545.20" font-size="7.0" text-anchor="middle" fill="#1a1a1a" color="#1a1a1a" font-weight="normal" >2</text>
<line x1="186.30" y1="534.40" x2="186.30" y2="536.40" stroke="#111" stroke-width="0.9" />
<text x="186.30" y="545.20" font-size="7.0" text-anchor="middle" fill="#1a1a1a" color="#1a1a1a" font-weight="normal" >3</text>
<line x1="205.30" y1="534.40" x2="205.30" y2="536.40" stroke="#111" stroke-width="0.9" />
<text x="205.30" y="545.20" font-size="7.0" text-anchor="middle" fill="#1a1a1a" color="#1a1a1a" font-weight="normal" >4</text>
<path d="M167.30 534.40" stroke="#111" stroke-width="1.3" fill="none"/>
<circle cx="167.30" cy="534.40" r="1.1" fill="#111"/>
<path d="M205.30 534.40" stroke="#111" stroke-width="1.3" fill="none"/>
<circle cx="205.30" cy="534.40" r="1.1" fill="#111"/>
<text x="213.70" y="481.50" font-size="6.9" text-anchor="end" fill="#1a1a1a" color="#1a1a1a" font-weight="normal" >n = 0/6</text>
<text x="273.60" y="470.50" font-size="6.9" text-anchor="middle" fill="#c9a06e" color="#c9a06e" font-weight="normal" >&gt; 5x divided</text>
<line x1="243.70" y1="473.90" x2="303.50" y2="473.90" stroke="#262626" stroke-width="1.3" />
<line x1="240.70" y1="475.10" x2="240.70" y2="535.00" stroke="#111" stroke-width="1.2" />
<line x1="240.10" y1="534.40" x2="308.70" y2="534.40" stroke="#111" stroke-width="1.2" />
<line x1="237.70" y1="534.40" x2="240.70" y2="534.40" stroke="#111" stroke-width="0.9" />
<text x="236.20" y="536.90" font-size="6.8" text-anchor="end" fill="#1a1a1a" color="#1a1a1a" font-weight="normal" >0</text>
<line x1="237.70" y1="523.24" x2="240.70" y2="523.24" stroke="#111" stroke-width="0.9" />
<text x="236.20" y="525.74" font-size="6.8" text-anchor="end" fill="#1a1a1a" color="#1a1a1a" font-weight="normal" >20</text>
<line x1="237.70" y1="512.08" x2="240.70" y2="512.08" stroke="#111" stroke-width="0.9" />
<text x="236.20" y="514.58" font-size="6.8" text-anchor="end" fill="#1a1a1a" color="#1a1a1a" font-weight="normal" >40</text>
<line x1="237.70" y1="500.92" x2="240.70" y2="500.92" stroke="#111" stroke-width="0.9" />
<text x="236.20" y="503.42" font-size="6.8" text-anchor="end" fill="#1a1a1a" color="#1a1a1a" font-weight="normal" >60</text>
<line x1="237.70" y1="489.76" x2="240.70" y2="489.76" stroke="#111" stroke-width="0.9" />
<text x="236.20" y="492.26" font-size="6.8" text-anchor="end" fill="#1a1a1a" color="#1a1a1a" font-weight="normal" >80</text>
<line x1="237.70" y1="478.60" x2="240.70" y2="478.60" stroke="#111" stroke-width="0.9" />
<text x="236.20" y="481.10" font-size="6.8" text-anchor="end" fill="#1a1a1a" color="#1a1a1a" font-weight="normal" >100</text>
<line x1="240.70" y1="534.40" x2="240.70" y2="536.40" stroke="#111" stroke-width="0.9" />
<text x="240.70" y="545.20" font-size="7.0" text-anchor="middle" fill="#1a1a1a" color="#1a1a1a" font-weight="normal" >0</text>
<line x1="259.70" y1="534.40" x2="259.70" y2="536.40" stroke="#111" stroke-width="0.9" />
<text x="259.70" y="545.20" font-size="7.0" text-anchor="middle" fill="#1a1a1a" color="#1a1a1a" font-weight="normal" >2</text>
<line x1="278.70" y1="534.40" x2="278.70" y2="536.40" stroke="#111" stroke-width="0.9" />
<text x="278.70" y="545.20" font-size="7.0" text-anchor="middle" fill="#1a1a1a" color="#1a1a1a" font-weight="normal" >3</text>
<line x1="297.70" y1="534.40" x2="297.70" y2="536.40" stroke="#111" stroke-width="0.9" />
<text x="297.70" y="545.20" font-size="7.0" text-anchor="middle" fill="#1a1a1a" color="#1a1a1a" font-weight="normal" >4</text>
<path d="M259.70 534.40" stroke="#111" stroke-width="1.3" fill="none"/>
<circle cx="259.70" cy="534.40" r="1.1" fill="#111"/>
<path d="M297.70 534.40" stroke="#111" stroke-width="1.3" fill="none"/>
<circle cx="297.70" cy="534.40" r="1.1" fill="#111"/>
<text x="309.40" y="481.50" font-size="6.9" text-anchor="end" fill="#1a1a1a" color="#1a1a1a" font-weight="normal" >n = 0/3</text>
<text x="182.40" y="555.50" font-size="7.4" text-anchor="middle" fill="#1a1a1a" color="#1a1a1a" font-weight="normal" >G-CSF</text>
<line x1="61.00" y1="558.40" x2="303.20" y2="558.40" stroke="#262626" stroke-width="1.3" />
<text x="93.05" y="565.80" font-size="6.9" text-anchor="middle" fill="#7a3a44" color="#7a3a44" font-weight="normal" >0-1x divided</text>
<line x1="59.40" y1="569.10" x2="118.70" y2="569.10" stroke="#262626" stroke-width="1.3" />
<line x1="57.90" y1="574.50" x2="57.90" y2="634.50" stroke="#111" stroke-width="1.2" />
<line x1="57.30" y1="633.90" x2="125.90" y2="633.90" stroke="#111" stroke-width="1.2" />
<line x1="54.90" y1="633.90" x2="57.90" y2="633.90" stroke="#111" stroke-width="0.9" />
<text x="53.40" y="636.40" font-size="6.8" text-anchor="end" fill="#1a1a1a" color="#1a1a1a" font-weight="normal" >0</text>
<line x1="54.90" y1="622.72" x2="57.90" y2="622.72" stroke="#111" stroke-width="0.9" />
<text x="53.40" y="625.22" font-size="6.8" text-anchor="end" fill="#1a1a1a" color="#1a1a1a" font-weight="normal" >20</text>
<line x1="54.90" y1="611.54" x2="57.90" y2="611.54" stroke="#111" stroke-width="0.9" />
<text x="53.40" y="614.04" font-size="6.8" text-anchor="end" fill="#1a1a1a" color="#1a1a1a" font-weight="normal" >40</text>
<line x1="54.90" y1="600.36" x2="57.90" y2="600.36" stroke="#111" stroke-width="0.9" />
<text x="53.40" y="602.86" font-size="6.8" text-anchor="end" fill="#1a1a1a" color="#1a1a1a" font-weight="normal" >60</text>
<line x1="54.90" y1="589.18" x2="57.90" y2="589.18" stroke="#111" stroke-width="0.9" />
<text x="53.40" y="591.68" font-size="6.8" text-anchor="end" fill="#1a1a1a" color="#1a1a1a" font-weight="normal" >80</text>
<line x1="54.90" y1="578.00" x2="57.90" y2="578.00" stroke="#111" stroke-width="0.9" />
<text x="53.40" y="580.50" font-size="6.8" text-anchor="end" fill="#1a1a1a" color="#1a1a1a" font-weight="normal" >100</text>
<line x1="57.90" y1="633.90" x2="57.90" y2="635.90" stroke="#111" stroke-width="0.9" />
<text x="57.90" y="644.70" font-size="7.0" text-anchor="middle" fill="#1a1a1a" color="#1a1a1a" font-weight="normal" >0</text>
<line x1="76.90" y1="633.90" x2="76.90" y2="635.90" stroke="#111" stroke-width="0.9" />
<text x="76.90" y="644.70" font-size="7.0" text-anchor="middle" fill="#1a1a1a" color="#1a1a1a" font-weight="normal" >2</text>
<line x1="95.90" y1="633.90" x2="95.90" y2="635.90" stroke="#111" stroke-width="0.9" />
<text x="95.90" y="644.70" font-size="7.0" text-anchor="middle" fill="#1a1a1a" color="#1a1a1a" font-weight="normal" >3</text>
<line x1="114.90" y1="633.90" x2="114.90" y2="635.90" stroke="#111" stroke-width="0.9" />
<text x="114.90" y="644.70" font-size="7.0" text-anchor="middle" fill="#1a1a1a" color="#1a1a1a" font-weight="normal" >4</text>
<path d="M76.90 586.38 L114.90 582.47" stroke="#111" stroke-width="1.3" fill="none"/>
<circle cx="76.90" cy="586.38" r="1.1" fill="#111"/>
<circle cx="114.90" cy="582.47" r="1.1" fill="#111"/>
<path d="M76.90 586.94 L114.90 584.15" stroke="#111" stroke-width="1.3" fill="none"/>
<circle cx="76.90" cy="586.94" r="1.1" fill="#111"/>
<circle cx="114.90" cy="584.15" r="1.1" fill="#111"/>
<path d="M76.90 604.27 L114.90 589.18" stroke="#111" stroke-width="1.3" fill="none"/>
<circle cx="76.90" cy="604.27" r="1.1" fill="#111"/>
<circle cx="114.90" cy="589.18" r="1.1" fill="#111"/>
<path d="M76.90 605.95 L114.90 597.56" stroke="#111" stroke-width="1.3" fill="none"/>
<circle cx="76.90" cy="605.95" r="1.1" fill="#111"/>
<circle cx="114.90" cy="597.56" r="1.1" fill="#111"/>
<path d="M76.90 608.19 L114.90 609.30" stroke="#111" stroke-width="1.3" fill="none"/>
<circle cx="76.90" cy="608.19" r="1.1" fill="#111"/>
<circle cx="114.90" cy="609.30" r="1.1" fill="#111"/>
<path d="M76.90 628.31 L114.90 627.19" stroke="#111" stroke-width="1.3" fill="none"/>
<circle cx="76.90" cy="628.31" r="1.1" fill="#111"/>
<circle cx="114.90" cy="627.19" r="1.1" fill="#111"/>
<path d="M76.90 628.87 L114.90 629.43" stroke="#111" stroke-width="1.3" fill="none"/>
<circle cx="76.90" cy="628.87" r="1.1" fill="#111"/>
<circle cx="114.90" cy="629.43" r="1.1" fill="#111"/>
<path d="M76.90 629.43 L114.90 632.22" stroke="#111" stroke-width="1.3" fill="none"/>
<circle cx="76.90" cy="629.43" r="1.1" fill="#111"/>
<circle cx="114.90" cy="632.22" r="1.1" fill="#111"/>
<path d="M76.90 629.99 L114.90 633.90" stroke="#111" stroke-width="1.3" fill="none"/>
<circle cx="76.90" cy="629.99" r="1.1" fill="#111"/>
<circle cx="114.90" cy="633.90" r="1.1" fill="#111"/>
<text x="115.00" y="578.10" font-size="6.9" text-anchor="end" fill="#1a1a1a" color="#1a1a1a" font-weight="normal" >n = 8/8</text>
<text x="181.70" y="565.80" font-size="6.9" text-anchor="middle" fill="#c48da2" color="#c48da2" font-weight="normal" >2-4x divided</text>
<line x1="151.80" y1="569.10" x2="211.60" y2="569.10" stroke="#262626" stroke-width="1.3" />
<line x1="148.30" y1="574.50" x2="148.30" y2="634.50" stroke="#111" stroke-width="1.2" />
<line x1="147.70" y1="633.90" x2="216.30" y2="633.90" stroke="#111" stroke-width="1.2" />
<line x1="145.30" y1="633.90" x2="148.30" y2="633.90" stroke="#111" stroke-width="0.9" />
<text x="143.80" y="636.40" font-size="6.8" text-anchor="end" fill="#1a1a1a" color="#1a1a1a" font-weight="normal" >0</text>
<line x1="145.30" y1="622.72" x2="148.30" y2="622.72" stroke="#111" stroke-width="0.9" />
<text x="143.80" y="625.22" font-size="6.8" text-anchor="end" fill="#1a1a1a" color="#1a1a1a" font-weight="normal" >20</text>
<line x1="145.30" y1="611.54" x2="148.30" y2="611.54" stroke="#111" stroke-width="0.9" />
<text x="143.80" y="614.04" font-size="6.8" text-anchor="end" fill="#1a1a1a" color="#1a1a1a" font-weight="normal" >40</text>
<line x1="145.30" y1="600.36" x2="148.30" y2="600.36" stroke="#111" stroke-width="0.9" />
<text x="143.80" y="602.86" font-size="6.8" text-anchor="end" fill="#1a1a1a" color="#1a1a1a" font-weight="normal" >60</text>
<line x1="145.30" y1="589.18" x2="148.30" y2="589.18" stroke="#111" stroke-width="0.9" />
<text x="143.80" y="591.68" font-size="6.8" text-anchor="end" fill="#1a1a1a" color="#1a1a1a" font-weight="normal" >80</text>
<line x1="145.30" y1="578.00" x2="148.30" y2="578.00" stroke="#111" stroke-width="0.9" />
<text x="143.80" y="580.50" font-size="6.8" text-anchor="end" fill="#1a1a1a" color="#1a1a1a" font-weight="normal" >100</text>
<line x1="148.30" y1="633.90" x2="148.30" y2="635.90" stroke="#111" stroke-width="0.9" />
<text x="148.30" y="644.70" font-size="7.0" text-anchor="middle" fill="#1a1a1a" color="#1a1a1a" font-weight="normal" >0</text>
<line x1="167.30" y1="633.90" x2="167.30" y2="635.90" stroke="#111" stroke-width="0.9" />
<text x="167.30" y="644.70" font-size="7.0" text-anchor="middle" fill="#1a1a1a" color="#1a1a1a" font-weight="normal" >2</text>
<line x1="186.30" y1="633.90" x2="186.30" y2="635.90" stroke="#111" stroke-width="0.9" />
<text x="186.30" y="644.70" font-size="7.0" text-anchor="middle" fill="#1a1a1a" color="#1a1a1a" font-weight="normal" >3</text>
<line x1="205.30" y1="633.90" x2="205.30" y2="635.90" stroke="#111" stroke-width="0.9" />
<text x="205.30" y="644.70" font-size="7.0" text-anchor="middle" fill="#1a1a1a" color="#1a1a1a" font-weight="normal" >4</text>
<path d="M167.30 633.90" stroke="#111" stroke-width="1.3" fill="none"/>
<circle cx="167.30" cy="633.90" r="1.1" fill="#111"/>
<path d="M205.30 633.90" stroke="#111" stroke-width="1.3" fill="none"/>
<circle cx="205.30" cy="633.90" r="1.1" fill="#111"/>
<text x="210.40" y="579.80" font-size="6.9" text-anchor="end" fill="#1a1a1a" color="#1a1a1a" font-weight="normal" >n = 0/7</text>
<text x="273.60" y="565.80" font-size="6.9" text-anchor="middle" fill="#c9a06e" color="#c9a06e" font-weight="normal" >&gt; 5x divided</text>
<line x1="243.70" y1="569.10" x2="303.50" y2="569.10" stroke="#262626" stroke-width="1.3" />
<line x1="240.70" y1="574.50" x2="240.70" y2="634.50" stroke="#111" stroke-width="1.2" />
<line x1="240.10" y1="633.90" x2="308.70" y2="633.90" stroke="#111" stroke-width="1.2" />
<line x1="237.70" y1="633.90" x2="240.70" y2="633.90" stroke="#111" stroke-width="0.9" />
<text x="236.20" y="636.40" font-size="6.8" text-anchor="end" fill="#1a1a1a" color="#1a1a1a" font-weight="normal" >0</text>
<line x1="237.70" y1="622.72" x2="240.70" y2="622.72" stroke="#111" stroke-width="0.9" />
<text x="236.20" y="625.22" font-size="6.8" text-anchor="end" fill="#1a1a1a" color="#1a1a1a" font-weight="normal" >20</text>
<line x1="237.70" y1="611.54" x2="240.70" y2="611.54" stroke="#111" stroke-width="0.9" />
<text x="236.20" y="614.04" font-size="6.8" text-anchor="end" fill="#1a1a1a" color="#1a1a1a" font-weight="normal" >40</text>
<line x1="237.70" y1="600.36" x2="240.70" y2="600.36" stroke="#111" stroke-width="0.9" />
<text x="236.20" y="602.86" font-size="6.8" text-anchor="end" fill="#1a1a1a" color="#1a1a1a" font-weight="normal" >60</text>
<line x1="237.70" y1="589.18" x2="240.70" y2="589.18" stroke="#111" stroke-width="0.9" />
<text x="236.20" y="591.68" font-size="6.8" text-anchor="end" fill="#1a1a1a" color="#1a1a1a" font-weight="normal" >80</text>
<line x1="237.70" y1="578.00" x2="240.70" y2="578.00" stroke="#111" stroke-width="0.9" />
<text x="236.20" y="580.50" font-size="6.8" text-anchor="end" fill="#1a1a1a" color="#1a1a1a" font-weight="normal" >100</text>
<line x1="240.70" y1="633.90" x2="240.70" y2="635.90" stroke="#111" stroke-width="0.9" />
<text x="240.70" y="644.70" font-size="7.0" text-anchor="middle" fill="#1a1a1a" color="#1a1a1a" font-weight="normal" >0</text>
<line x1="259.70" y1="633.90" x2="259.70" y2="635.90" stroke="#111" stroke-width="0.9" />
<text x="259.70" y="644.70" font-size="7.0" text-anchor="middle" fill="#1a1a1a" color="#1a1a1a" font-weight="normal" >2</text>
<line x1="278.70" y1="633.90" x2="278.70" y2="635.90" stroke="#111" stroke-width="0.9" />
<text x="278.70" y="644.70" font-size="7.0" text-anchor="middle" fill="#1a1a1a" color="#1a1a1a" font-weight="normal" >3</text>
<line x1="297.70" y1="633.90" x2="297.70" y2="635.90" stroke="#111" stroke-width="0.9" />
<text x="297.70" y="644.70" font-size="7.0" text-anchor="middle" fill="#1a1a1a" color="#1a1a1a" font-weight="normal" >4</text>
<path d="M259.70 633.90" stroke="#111" stroke-width="1.3" fill="none"/>
<circle cx="259.70" cy="633.90" r="1.1" fill="#111"/>
<path d="M297.70 633.90" stroke="#111" stroke-width="1.3" fill="none"/>
<circle cx="297.70" cy="633.90" r="1.1" fill="#111"/>
<text x="306.80" y="579.80" font-size="6.9" text-anchor="end" fill="#1a1a1a" color="#1a1a1a" font-weight="normal" >n = 0/4</text>
<text x="182.40" y="654.80" font-size="7.4" text-anchor="middle" fill="#1a1a1a" color="#1a1a1a" font-weight="normal" >Mpl agonist</text>
<line x1="59.60" y1="660.00" x2="303.20" y2="660.00" stroke="#262626" stroke-width="1.3" />
<text x="89.05" y="666.40" font-size="6.9" text-anchor="middle" fill="#7a3a44" color="#7a3a44" font-weight="normal" >0-1x divided</text>
<line x1="59.40" y1="669.40" x2="118.70" y2="669.40" stroke="#262626" stroke-width="1.3" />
<text transform="translate(89.40,707.90) scale(0.92,1)" font-size="10.0" text-anchor="middle" fill="#1a1a1a" color="#1a1a1a">N.A.</text>
<text x="181.70" y="666.40" font-size="6.9" text-anchor="middle" fill="#c48da2" color="#c48da2" font-weight="normal" >2-4x divided</text>
<line x1="151.80" y1="669.40" x2="211.60" y2="669.40" stroke="#262626" stroke-width="1.3" />
<line x1="148.30" y1="673.50" x2="148.30" y2="732.80" stroke="#111" stroke-width="1.2" />
<line x1="147.70" y1="732.20" x2="216.30" y2="732.20" stroke="#111" stroke-width="1.2" />
<line x1="145.30" y1="732.20" x2="148.30" y2="732.20" stroke="#111" stroke-width="0.9" />
<text x="143.80" y="734.70" font-size="6.8" text-anchor="end" fill="#1a1a1a" color="#1a1a1a" font-weight="normal" >0</text>
<line x1="145.30" y1="721.16" x2="148.30" y2="721.16" stroke="#111" stroke-width="0.9" />
<text x="143.80" y="723.66" font-size="6.8" text-anchor="end" fill="#1a1a1a" color="#1a1a1a" font-weight="normal" >20</text>
<line x1="145.30" y1="710.12" x2="148.30" y2="710.12" stroke="#111" stroke-width="0.9" />
<text x="143.80" y="712.62" font-size="6.8" text-anchor="end" fill="#1a1a1a" color="#1a1a1a" font-weight="normal" >40</text>
<line x1="145.30" y1="699.08" x2="148.30" y2="699.08" stroke="#111" stroke-width="0.9" />
<text x="143.80" y="701.58" font-size="6.8" text-anchor="end" fill="#1a1a1a" color="#1a1a1a" font-weight="normal" >60</text>
<line x1="145.30" y1="688.04" x2="148.30" y2="688.04" stroke="#111" stroke-width="0.9" />
<text x="143.80" y="690.54" font-size="6.8" text-anchor="end" fill="#1a1a1a" color="#1a1a1a" font-weight="normal" >80</text>
<line x1="145.30" y1="677.00" x2="148.30" y2="677.00" stroke="#111" stroke-width="0.9" />
<text x="143.80" y="679.50" font-size="6.8" text-anchor="end" fill="#1a1a1a" color="#1a1a1a" font-weight="normal" >100</text>
<line x1="148.30" y1="732.20" x2="148.30" y2="734.20" stroke="#111" stroke-width="0.9" />
<text x="148.30" y="743.00" font-size="7.0" text-anchor="middle" fill="#1a1a1a" color="#1a1a1a" font-weight="normal" >0</text>
<line x1="167.30" y1="732.20" x2="167.30" y2="734.20" stroke="#111" stroke-width="0.9" />
<text x="167.30" y="743.00" font-size="7.0" text-anchor="middle" fill="#1a1a1a" color="#1a1a1a" font-weight="normal" >2</text>
<line x1="186.30" y1="732.20" x2="186.30" y2="734.20" stroke="#111" stroke-width="0.9" />
<text x="186.30" y="743.00" font-size="7.0" text-anchor="middle" fill="#1a1a1a" color="#1a1a1a" font-weight="normal" >3</text>
<line x1="205.30" y1="732.20" x2="205.30" y2="734.20" stroke="#111" stroke-width="0.9" />
<text x="205.30" y="743.00" font-size="7.0" text-anchor="middle" fill="#1a1a1a" color="#1a1a1a" font-weight="normal" >4</text>
<path d="M167.30 695.77 L205.30 688.59" stroke="#111" stroke-width="1.3" fill="none"/>
<circle cx="167.30" cy="695.77" r="1.1" fill="#111"/>
<circle cx="205.30" cy="688.59" r="1.1" fill="#111"/>
<path d="M167.30 695.77 L205.30 690.80" stroke="#111" stroke-width="1.3" fill="none"/>
<circle cx="167.30" cy="695.77" r="1.1" fill="#111"/>
<circle cx="205.30" cy="690.80" r="1.1" fill="#111"/>
<path d="M167.30 729.44 L205.30 723.37" stroke="#111" stroke-width="1.3" fill="none"/>
<circle cx="167.30" cy="729.44" r="1.1" fill="#111"/>
<circle cx="205.30" cy="723.37" r="1.1" fill="#111"/>
<path d="M167.30 730.54 L205.30 723.37" stroke="#111" stroke-width="1.3" fill="none"/>
<circle cx="167.30" cy="730.54" r="1.1" fill="#111"/>
<circle cx="205.30" cy="723.37" r="1.1" fill="#111"/>
<path d="M167.30 731.65 L205.30 723.92" stroke="#111" stroke-width="1.3" fill="none"/>
<circle cx="167.30" cy="731.65" r="1.1" fill="#111"/>
<circle cx="205.30" cy="723.92" r="1.1" fill="#111"/>
<path d="M167.30 732.20 L205.30 732.20" stroke="#111" stroke-width="1.3" fill="none"/>
<circle cx="167.30" cy="732.20" r="1.1" fill="#111"/>
<circle cx="205.30" cy="732.20" r="1.1" fill="#111"/>
<text x="207.10" y="678.60" font-size="6.9" text-anchor="end" fill="#1a1a1a" color="#1a1a1a" font-weight="normal" >n = 5/7</text>
<text x="273.60" y="666.40" font-size="6.9" text-anchor="middle" fill="#c9a06e" color="#c9a06e" font-weight="normal" >&gt; 5x divided</text>
<line x1="243.70" y1="669.40" x2="303.50" y2="669.40" stroke="#262626" stroke-width="1.3" />
<line x1="240.70" y1="673.50" x2="240.70" y2="732.80" stroke="#111" stroke-width="1.2" />
<line x1="240.10" y1="732.20" x2="308.70" y2="732.20" stroke="#111" stroke-width="1.2" />
<line x1="237.70" y1="732.20" x2="240.70" y2="732.20" stroke="#111" stroke-width="0.9" />
<text x="236.20" y="734.70" font-size="6.8" text-anchor="end" fill="#1a1a1a" color="#1a1a1a" font-weight="normal" >0</text>
<line x1="237.70" y1="721.16" x2="240.70" y2="721.16" stroke="#111" stroke-width="0.9" />
<text x="236.20" y="723.66" font-size="6.8" text-anchor="end" fill="#1a1a1a" color="#1a1a1a" font-weight="normal" >20</text>
<line x1="237.70" y1="710.12" x2="240.70" y2="710.12" stroke="#111" stroke-width="0.9" />
<text x="236.20" y="712.62" font-size="6.8" text-anchor="end" fill="#1a1a1a" color="#1a1a1a" font-weight="normal" >40</text>
<line x1="237.70" y1="699.08" x2="240.70" y2="699.08" stroke="#111" stroke-width="0.9" />
<text x="236.20" y="701.58" font-size="6.8" text-anchor="end" fill="#1a1a1a" color="#1a1a1a" font-weight="normal" >60</text>
<line x1="237.70" y1="688.04" x2="240.70" y2="688.04" stroke="#111" stroke-width="0.9" />
<text x="236.20" y="690.54" font-size="6.8" text-anchor="end" fill="#1a1a1a" color="#1a1a1a" font-weight="normal" >80</text>
<line x1="237.70" y1="677.00" x2="240.70" y2="677.00" stroke="#111" stroke-width="0.9" />
<text x="236.20" y="679.50" font-size="6.8" text-anchor="end" fill="#1a1a1a" color="#1a1a1a" font-weight="normal" >100</text>
<line x1="240.70" y1="732.20" x2="240.70" y2="734.20" stroke="#111" stroke-width="0.9" />
<text x="240.70" y="743.00" font-size="7.0" text-anchor="middle" fill="#1a1a1a" color="#1a1a1a" font-weight="normal" >0</text>
<line x1="259.70" y1="732.20" x2="259.70" y2="734.20" stroke="#111" stroke-width="0.9" />
<text x="259.70" y="743.00" font-size="7.0" text-anchor="middle" fill="#1a1a1a" color="#1a1a1a" font-weight="normal" >2</text>
<line x1="278.70" y1="732.20" x2="278.70" y2="734.20" stroke="#111" stroke-width="0.9" />
<text x="278.70" y="743.00" font-size="7.0" text-anchor="middle" fill="#1a1a1a" color="#1a1a1a" font-weight="normal" >3</text>
<line x1="297.70" y1="732.20" x2="297.70" y2="734.20" stroke="#111" stroke-width="0.9" />
<text x="297.70" y="743.00" font-size="7.0" text-anchor="middle" fill="#1a1a1a" color="#1a1a1a" font-weight="normal" >4</text>
<path d="M259.70 732.20" stroke="#111" stroke-width="1.3" fill="none"/>
<circle cx="259.70" cy="732.20" r="1.1" fill="#111"/>
<path d="M297.70 732.20" stroke="#111" stroke-width="1.3" fill="none"/>
<circle cx="297.70" cy="732.20" r="1.1" fill="#111"/>
<text x="302.70" y="678.80" font-size="6.9" text-anchor="end" fill="#1a1a1a" color="#1a1a1a" font-weight="normal" >n = 0/2</text>
<text transform="translate(33.9,604.6) rotate(-90)" font-size="8.45" text-anchor="middle" fill="#1a1a1a" color="#1a1a1a">Donor chimerism in CD45<tspan font-size="4.8" dy="-2.6">+</tspan><tspan dy="2.6"> PB cells (%)</tspan></text>
<text transform="translate(109.40,757.40) scale(0.92,1)" font-size="9.1" text-anchor="start" fill="#1a1a1a" color="#1a1a1a">Months after secondary transplantation</text>
<rect x="0.5" y="0.5" width="519" height="765" fill="none" stroke="#000" stroke-width="1"/>
</svg>
</div></body></html>
